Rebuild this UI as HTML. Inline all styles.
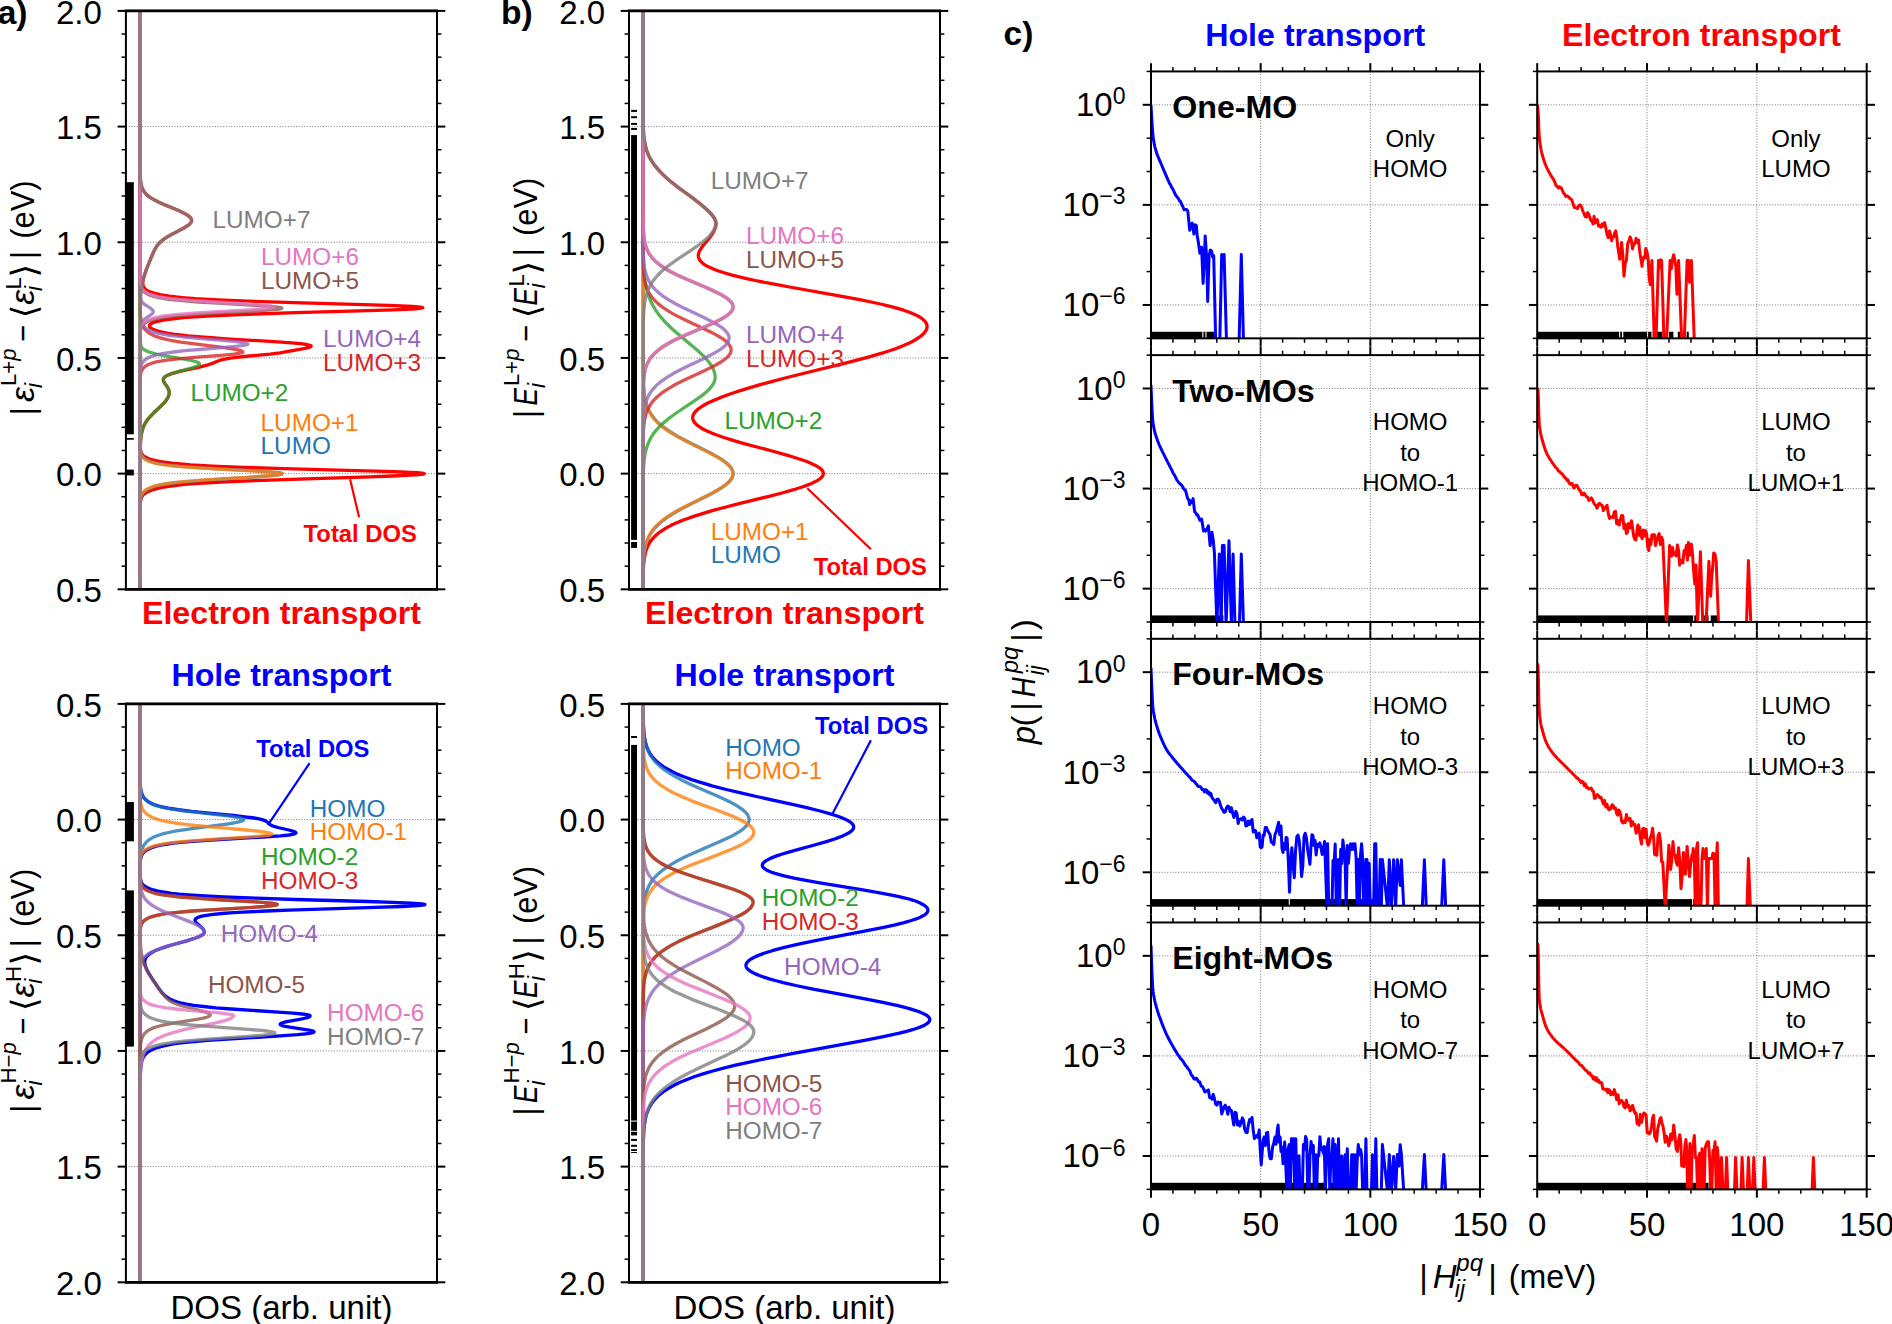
<!DOCTYPE html>
<html><head><meta charset="utf-8"><title>DOS and coupling distributions</title>
<style>html,body{margin:0;padding:0;background:#fff}svg{display:block}</style></head>
<body><svg width="1892" height="1324" viewBox="0 0 1892 1324">
<rect width="1892" height="1324" fill="#fff"/>
<defs><clipPath id="c125_10"><rect x="125.9" y="10.9" width="311.1" height="578.4"/></clipPath><clipPath id="c125_703"><rect x="125.9" y="703.9" width="311.1" height="578.4"/></clipPath><clipPath id="c629_10"><rect x="629" y="10.9" width="311" height="578.4"/></clipPath><clipPath id="c629_703"><rect x="629" y="703.9" width="311" height="578.4"/></clipPath></defs>
<line x1="117.6" y1="10.9" x2="125.9" y2="10.9" stroke="#000" stroke-width="2" />
<line x1="437" y1="10.9" x2="445.3" y2="10.9" stroke="#000" stroke-width="2" />
<text x="101.9" y="23.5" font-size="33" fill="#000" text-anchor="end" font-weight="normal" font-style="normal" font-family='"Liberation Sans", sans-serif' >2.0</text>
<line x1="121.5" y1="34.04" x2="125.9" y2="34.04" stroke="#000" stroke-width="1.5" />
<line x1="437" y1="34.04" x2="441.4" y2="34.04" stroke="#000" stroke-width="1.5" />
<line x1="121.5" y1="57.17" x2="125.9" y2="57.17" stroke="#000" stroke-width="1.5" />
<line x1="437" y1="57.17" x2="441.4" y2="57.17" stroke="#000" stroke-width="1.5" />
<line x1="121.5" y1="80.31" x2="125.9" y2="80.31" stroke="#000" stroke-width="1.5" />
<line x1="437" y1="80.31" x2="441.4" y2="80.31" stroke="#000" stroke-width="1.5" />
<line x1="121.5" y1="103.44" x2="125.9" y2="103.44" stroke="#000" stroke-width="1.5" />
<line x1="437" y1="103.44" x2="441.4" y2="103.44" stroke="#000" stroke-width="1.5" />
<line x1="117.6" y1="126.58" x2="125.9" y2="126.58" stroke="#000" stroke-width="2" />
<line x1="437" y1="126.58" x2="445.3" y2="126.58" stroke="#000" stroke-width="2" />
<line x1="125.9" y1="126.58" x2="437" y2="126.58" stroke="#777" stroke-width="1" stroke-dasharray="1 1.7"/>
<text x="101.9" y="139.18" font-size="33" fill="#000" text-anchor="end" font-weight="normal" font-style="normal" font-family='"Liberation Sans", sans-serif' >1.5</text>
<line x1="121.5" y1="149.72" x2="125.9" y2="149.72" stroke="#000" stroke-width="1.5" />
<line x1="437" y1="149.72" x2="441.4" y2="149.72" stroke="#000" stroke-width="1.5" />
<line x1="121.5" y1="172.85" x2="125.9" y2="172.85" stroke="#000" stroke-width="1.5" />
<line x1="437" y1="172.85" x2="441.4" y2="172.85" stroke="#000" stroke-width="1.5" />
<line x1="121.5" y1="195.99" x2="125.9" y2="195.99" stroke="#000" stroke-width="1.5" />
<line x1="437" y1="195.99" x2="441.4" y2="195.99" stroke="#000" stroke-width="1.5" />
<line x1="121.5" y1="219.12" x2="125.9" y2="219.12" stroke="#000" stroke-width="1.5" />
<line x1="437" y1="219.12" x2="441.4" y2="219.12" stroke="#000" stroke-width="1.5" />
<line x1="117.6" y1="242.26" x2="125.9" y2="242.26" stroke="#000" stroke-width="2" />
<line x1="437" y1="242.26" x2="445.3" y2="242.26" stroke="#000" stroke-width="2" />
<line x1="125.9" y1="242.26" x2="437" y2="242.26" stroke="#777" stroke-width="1" stroke-dasharray="1 1.7"/>
<text x="101.9" y="254.86" font-size="33" fill="#000" text-anchor="end" font-weight="normal" font-style="normal" font-family='"Liberation Sans", sans-serif' >1.0</text>
<line x1="121.5" y1="265.4" x2="125.9" y2="265.4" stroke="#000" stroke-width="1.5" />
<line x1="437" y1="265.4" x2="441.4" y2="265.4" stroke="#000" stroke-width="1.5" />
<line x1="121.5" y1="288.53" x2="125.9" y2="288.53" stroke="#000" stroke-width="1.5" />
<line x1="437" y1="288.53" x2="441.4" y2="288.53" stroke="#000" stroke-width="1.5" />
<line x1="121.5" y1="311.67" x2="125.9" y2="311.67" stroke="#000" stroke-width="1.5" />
<line x1="437" y1="311.67" x2="441.4" y2="311.67" stroke="#000" stroke-width="1.5" />
<line x1="121.5" y1="334.8" x2="125.9" y2="334.8" stroke="#000" stroke-width="1.5" />
<line x1="437" y1="334.8" x2="441.4" y2="334.8" stroke="#000" stroke-width="1.5" />
<line x1="117.6" y1="357.94" x2="125.9" y2="357.94" stroke="#000" stroke-width="2" />
<line x1="437" y1="357.94" x2="445.3" y2="357.94" stroke="#000" stroke-width="2" />
<line x1="125.9" y1="357.94" x2="437" y2="357.94" stroke="#777" stroke-width="1" stroke-dasharray="1 1.7"/>
<text x="101.9" y="370.54" font-size="33" fill="#000" text-anchor="end" font-weight="normal" font-style="normal" font-family='"Liberation Sans", sans-serif' >0.5</text>
<line x1="121.5" y1="381.08" x2="125.9" y2="381.08" stroke="#000" stroke-width="1.5" />
<line x1="437" y1="381.08" x2="441.4" y2="381.08" stroke="#000" stroke-width="1.5" />
<line x1="121.5" y1="404.21" x2="125.9" y2="404.21" stroke="#000" stroke-width="1.5" />
<line x1="437" y1="404.21" x2="441.4" y2="404.21" stroke="#000" stroke-width="1.5" />
<line x1="121.5" y1="427.35" x2="125.9" y2="427.35" stroke="#000" stroke-width="1.5" />
<line x1="437" y1="427.35" x2="441.4" y2="427.35" stroke="#000" stroke-width="1.5" />
<line x1="121.5" y1="450.48" x2="125.9" y2="450.48" stroke="#000" stroke-width="1.5" />
<line x1="437" y1="450.48" x2="441.4" y2="450.48" stroke="#000" stroke-width="1.5" />
<line x1="117.6" y1="473.62" x2="125.9" y2="473.62" stroke="#000" stroke-width="2" />
<line x1="437" y1="473.62" x2="445.3" y2="473.62" stroke="#000" stroke-width="2" />
<line x1="125.9" y1="473.62" x2="437" y2="473.62" stroke="#777" stroke-width="1" stroke-dasharray="1 1.7"/>
<text x="101.9" y="486.22" font-size="33" fill="#000" text-anchor="end" font-weight="normal" font-style="normal" font-family='"Liberation Sans", sans-serif' >0.0</text>
<line x1="121.5" y1="496.76" x2="125.9" y2="496.76" stroke="#000" stroke-width="1.5" />
<line x1="437" y1="496.76" x2="441.4" y2="496.76" stroke="#000" stroke-width="1.5" />
<line x1="121.5" y1="519.89" x2="125.9" y2="519.89" stroke="#000" stroke-width="1.5" />
<line x1="437" y1="519.89" x2="441.4" y2="519.89" stroke="#000" stroke-width="1.5" />
<line x1="121.5" y1="543.03" x2="125.9" y2="543.03" stroke="#000" stroke-width="1.5" />
<line x1="437" y1="543.03" x2="441.4" y2="543.03" stroke="#000" stroke-width="1.5" />
<line x1="121.5" y1="566.16" x2="125.9" y2="566.16" stroke="#000" stroke-width="1.5" />
<line x1="437" y1="566.16" x2="441.4" y2="566.16" stroke="#000" stroke-width="1.5" />
<line x1="117.6" y1="589.3" x2="125.9" y2="589.3" stroke="#000" stroke-width="2" />
<line x1="437" y1="589.3" x2="445.3" y2="589.3" stroke="#000" stroke-width="2" />
<text x="101.9" y="601.9" font-size="33" fill="#000" text-anchor="end" font-weight="normal" font-style="normal" font-family='"Liberation Sans", sans-serif' >0.5</text>
<rect x="125.9" y="182.2" width="7.9" height="252.1" fill="#000"/>
<rect x="125.9" y="438" width="7.9" height="1.7" fill="#000"/>
<rect x="125.9" y="469.6" width="7.9" height="5.8" fill="#000"/>
<g fill="none" stroke-linejoin="round" stroke-linecap="butt" clip-path="url(#c125_10)">
<path d="M140.2,589.3 L140.2,510.3 L140.3,505 L140.4,502.1 L140.7,500 L141.2,498.3 L141.9,496.7 L142.8,495.4 L144,494.2 L145.6,493 L147.8,491.7 L149.7,490.9 L153.2,489.7 L157.8,488.4 L163.7,487.2 L168.7,486.4 L174.8,485.5 L182.3,484.7 L191.6,483.9 L203.2,483 L225.6,481.8 L255,480.6 L290.8,479.3 L369.8,476.8 L392.4,476 L410,475.2 L416.4,474.8 L420.9,474.4 L423.6,474 L424.1,473.5 L422.2,473.1 L417.5,472.7 L410.2,472.3 L400.6,471.9 L375.8,471.1 L283.6,468.6 L243.4,467.3 L212.6,466.1 L204.4,465.7 L190.7,464.9 L180.2,464 L171.9,463.2 L162.8,462 L156.2,460.7 L151.4,459.5 L148.9,458.7 L146.9,457.8 L145.3,457 L143.5,455.8 L142.6,454.9 L141.7,453.7 L141.3,452.9 L140.9,451.6 L140.6,450.4 L140.5,449.1 L140.4,445 L140.7,439.6 L141.1,435.5 L141.9,431.8 L142.8,428.5 L144,425.6 L145.3,423.1 L146.6,421 L148.1,419 L149.9,416.9 L151.8,414.8 L153.8,412.8 L162.5,404.5 L164.1,402.8 L165.5,401.2 L166.7,399.5 L167.5,398.3 L168.3,396.6 L168.8,395.4 L169.1,393.7 L169.2,392.5 L169.1,391.3 L168.6,389.6 L168.1,388.4 L167.4,387.1 L164.3,382.6 L163.7,381.3 L163.4,380.5 L163.3,379.7 L163.4,379.3 L163.6,378.4 L164.2,377.6 L164.6,377.2 L165.6,376.4 L167,375.6 L168.8,374.7 L171,373.9 L173.7,373.1 L179.9,371.4 L198.5,367.3 L205.1,365.6 L208,364.8 L211.7,363.6 L218.8,360.7 L221.6,359.8 L223.3,359.4 L227.7,358.6 L230.3,358.2 L236.7,357.4 L244.4,356.5 L269.9,354.1 L280.2,352.8 L282.7,352.4 L305.1,348.3 L308.7,347.4 L310,347 L310.8,346.6 L311.2,346.2 L311.1,345.8 L310.3,345.4 L308.8,345 L306.7,344.5 L300.3,343.7 L291.4,342.9 L274.2,341.7 L226.6,338.8 L208,337.5 L197.3,336.7 L188,335.9 L180.1,335 L173.6,334.2 L168.2,333.4 L161.9,332.1 L157.3,330.9 L154.9,330.1 L153,329.2 L151.5,328.4 L150.3,327.6 L149.6,326.8 L149.5,326.4 L149.4,325.9 L149.4,325.5 L149.5,325.1 L149.8,324.7 L150.7,323.9 L151.4,323.5 L153.2,322.6 L154.4,322.2 L157.3,321.4 L163.3,320.2 L168.7,319.3 L175.4,318.5 L183.9,317.7 L194.6,316.8 L207.9,316 L234.2,314.8 L256.2,314 L295.7,312.7 L368.1,310.6 L393,309.8 L411.5,309 L417.6,308.6 L421.5,308.2 L422.8,307.7 L421.8,307.3 L418.3,306.9 L412.6,306.5 L395.3,305.7 L371.6,304.9 L286.3,302.4 L248.2,301.1 L218,299.9 L195.8,298.7 L184.8,297.8 L176.1,297 L169.3,296.2 L161.5,294.9 L155.9,293.7 L153,292.9 L150.6,292 L148.6,291.2 L147.1,290.4 L145.8,289.6 L144.9,288.7 L144.1,287.9 L143.4,286.7 L143,285.4 L142.8,284.2 L142.8,282.5 L143,280.9 L143.4,278.8 L144,276.7 L145.1,273 L146.6,268.9 L151.6,256.5 L154.2,250.7 L155.3,248.6 L156.5,246.6 L158.4,244.1 L160.4,242 L162.9,239.9 L165.7,237.9 L168.4,236.2 L171.3,234.6 L183.9,228 L186,226.7 L187.9,225.5 L189.5,224.2 L190.6,223 L191.4,221.8 L191.6,220.9 L191.6,220.5 L191.5,219.7 L191.2,218.9 L190.7,218 L190,217.2 L189.1,216.4 L188,215.6 L185.3,213.9 L182.1,212.2 L178.5,210.6 L164.5,204.8 L158.9,202.3 L154.1,199.8 L152,198.6 L150.1,197.4 L148.4,196.1 L146.9,194.9 L145.7,193.6 L144.3,192 L143.5,190.7 L142.6,189.1 L141.9,187.4 L141.3,185.4 L140.8,182.9 L140.5,179.6 L140.3,175.9 L140.2,170.5 L140.2,10.9" stroke="#ff0000" stroke-width="3.3"/>
<path d="M140.2,589.3 L140.2,510.7 L140.3,502.5 L140.5,500.4 L140.7,498.8 L141,497.1 L141.5,495.9 L142.1,494.6 L142.9,493.4 L143.9,492.1 L144.8,491.3 L145.9,490.5 L147.2,489.7 L149.6,488.4 L152.6,487.2 L155.2,486.4 L158.4,485.5 L162.3,484.7 L167.1,483.9 L173.1,483 L184.5,481.8 L199.3,480.6 L217.2,479.3 L249.8,477.3 L266.9,476 L275.4,475.2 L278.4,474.8 L280.6,474.4 L281.9,474 L282.2,473.5 L281.2,473.1 L279,472.7 L275.5,472.3 L270.9,471.9 L252,470.6 L213.9,468.6 L193.8,467.3 L178.1,466.1 L170.2,465.3 L164,464.4 L159.1,463.6 L155.3,462.8 L151,461.5 L147.9,460.3 L145.6,459.1 L144.4,458.2 L143.5,457.4 L142.7,456.6 L141.8,455.3 L141.4,454.5 L140.9,453.3 L140.6,451.6 L140.3,449.6 L140.2,446.7 L140.2,442.1 L140.2,10.9" stroke="#1f77b4" stroke-opacity="0.8" stroke-width="3.3"/>
<path d="M140.2,589.3 L140.2,509.1 L140.3,501.2 L140.5,499.2 L140.7,497.5 L141,496.3 L141.5,495 L142.1,493.8 L142.9,492.6 L144.1,491.3 L145.1,490.5 L146.9,489.2 L149.3,488 L152.4,486.8 L155,485.9 L158.3,485.1 L162.3,484.3 L167.3,483.5 L173.6,482.6 L185.7,481.4 L201.5,480.2 L213.8,479.3 L254.1,476.8 L265.8,476 L274.8,475.2 L278.2,474.8 L280.5,474.4 L281.9,474 L282.2,473.5 L281.1,473.1 L278.7,472.7 L274.9,472.3 L269.9,471.9 L257,471.1 L217.5,469 L195.9,467.7 L179.1,466.5 L170.6,465.7 L164.1,464.9 L159,464 L155.1,463.2 L150.7,462 L147.6,460.7 L145.3,459.5 L144.1,458.7 L143.2,457.8 L142.4,457 L141.8,456.2 L141.4,455.3 L140.9,454.1 L140.6,452.5 L140.3,450.4 L140.2,447.9 L140.2,443.4 L140.2,10.9" stroke="#ff7f0e" stroke-opacity="0.8" stroke-width="3.3"/>
<path d="M140.2,589.3 L140.3,450.8 L140.4,443.8 L140.7,438.8 L141.3,434.7 L142.1,431 L143,428.1 L144.2,425.2 L145.8,422.3 L147.8,419.4 L149.9,416.9 L152.6,414 L161.3,405.7 L164.1,402.8 L165.5,401.2 L166.7,399.5 L167.8,397.9 L168.3,396.6 L168.9,395 L169.1,393.7 L169.2,392.1 L169,390.8 L168.6,389.6 L167.9,388 L166.9,386.3 L164.3,382.6 L163.5,380.9 L163.3,380.1 L163.3,379.3 L163.6,378.4 L164.1,377.6 L164.9,376.8 L165.4,376.4 L166.8,375.6 L168.5,374.7 L171.7,373.5 L177.2,371.8 L191.3,368.1 L195.2,366.9 L197.2,366 L198.6,365.2 L199.1,364.8 L199.3,364.4 L199.4,364 L199.3,363.6 L199,363.1 L198.4,362.7 L197.6,362.3 L195.2,361.5 L192,360.7 L185.8,359.4 L166.7,356.1 L160.2,354.9 L156.4,354.1 L153,353.2 L149,352 L146.9,351.2 L145.2,350.3 L143.9,349.5 L142.9,348.7 L142.1,347.9 L141.3,346.6 L140.9,345.4 L140.6,344.1 L140.4,342.5 L140.3,340 L140.2,330.5 L140.2,10.9" stroke="#2ca02c" stroke-opacity="0.8" stroke-width="3.3"/>
<path d="M140.2,589.3 L140.2,381.8 L140.3,377.6 L140.5,375.1 L140.8,373.1 L141.5,371 L142.4,369.4 L143,368.5 L143.7,367.7 L144.7,366.9 L145.8,366 L147.9,364.8 L150.8,363.6 L153.4,362.7 L156.6,361.9 L160.7,361.1 L168.9,359.8 L180.1,358.6 L194.2,357.4 L220.6,355.3 L234,354.1 L240,353.2 L241.8,352.8 L242.7,352.4 L242.9,352 L242.5,351.6 L241.9,351.2 L240.9,350.7 L237.8,349.9 L233.7,349.1 L228.5,348.3 L222.6,347.4 L192.7,343.7 L180.8,342.1 L173.3,340.8 L169,340 L165.1,339.2 L160.4,337.9 L156.5,336.7 L153.5,335.4 L151.8,334.6 L150.3,333.8 L147.9,332.1 L147,331.3 L145.7,330.1 L144,328 L143.3,326.8 L142.6,325.5 L141.7,323 L141,320.2 L140.5,316.4 L140.3,312.3 L140.2,305.7 L140.2,10.9" stroke="#d62728" stroke-opacity="0.8" stroke-width="3.3"/>
<path d="M140.2,589.3 L140.2,376 L140.3,371.4 L140.5,368.5 L140.9,366.5 L141.6,364.4 L142.2,363.1 L142.7,362.3 L144.1,360.7 L145.1,359.8 L146.2,359 L148.3,357.8 L151,356.5 L154.8,355.3 L158.1,354.5 L162.1,353.6 L167.2,352.8 L173.4,352 L185,350.7 L199.1,349.5 L224.7,347.4 L237.7,346.2 L243.9,345.4 L245.9,345 L247.3,344.5 L247.8,344.1 L247.5,343.7 L246.6,343.3 L244.9,342.9 L242.6,342.5 L236.1,341.7 L223.1,340.4 L198.4,338.3 L184.9,337.1 L173.7,335.9 L167.7,335 L162.7,334.2 L158.6,333.4 L154,332.1 L151.6,331.3 L148.8,330.1 L146.7,328.8 L145.5,328 L144.6,327.2 L143.5,325.9 L143,325.1 L142.7,324.3 L142.5,323 L142.6,322.2 L143.1,321 L143.7,320.2 L144.5,319.3 L145.4,318.5 L150.3,315.2 L151.9,314 L152.7,313.1 L152.9,312.7 L153.2,311.9 L153.2,311.5 L153.1,311.1 L152.7,310.2 L151.4,309 L149.7,307.7 L145.2,304.9 L143.6,303.6 L142.4,302.4 L141.5,301.1 L141.1,300.3 L140.8,299.5 L140.4,297.8 L140.3,295.8 L140.2,288.7 L140.2,10.9" stroke="#9467bd" stroke-opacity="0.8" stroke-width="3.3"/>
<path d="M140.2,589.3 L140.2,337.5 L140.3,333.4 L140.5,330.5 L141,328.4 L141.7,326.8 L142.2,325.9 L142.8,325.1 L143.6,324.3 L144.6,323.5 L145.8,322.6 L147.3,321.8 L150.2,320.6 L154.1,319.3 L157.6,318.5 L162,317.7 L167.7,316.8 L179.3,315.6 L195.4,314.4 L215.8,313.1 L253.7,311.1 L266.7,310.2 L276.2,309.4 L279.4,309 L281.2,308.6 L281.8,308.2 L281.1,307.7 L279.2,307.3 L276.1,306.9 L266.9,306.1 L254.6,305.3 L218.2,303.2 L198.2,302 L182.1,300.7 L173.6,299.9 L166.9,299.1 L161.6,298.2 L157.4,297.4 L152.7,296.2 L149.3,294.9 L146.7,293.7 L145.4,292.9 L144.3,292 L143.4,291.2 L142.7,290.4 L142.1,289.6 L141.6,288.7 L141.3,287.9 L140.9,286.7 L140.5,284.6 L140.3,281.7 L140.2,277.6 L140.2,10.9" stroke="#8c564b" stroke-opacity="0.8" stroke-width="3.3"/>
<path d="M140.2,589.3 L140.2,336.7 L140.3,332.6 L140.5,329.7 L140.8,327.6 L141.4,325.9 L141.8,325.1 L142.4,324.3 L143.1,323.5 L143.9,322.6 L145,321.8 L146.3,321 L148.8,319.7 L152.2,318.5 L155.2,317.7 L159,316.8 L163.9,316 L170.2,315.2 L178.1,314.4 L193.6,313.1 L213.1,311.9 L248.9,309.8 L261,309 L269.6,308.2 L272.4,307.7 L273.9,307.3 L274.2,306.9 L273.2,306.5 L271.2,306.1 L268.1,305.7 L259,304.9 L247.1,304 L212.7,302 L193.9,300.7 L178.9,299.5 L171.1,298.7 L164.9,297.8 L160,297 L156.1,296.2 L151.8,294.9 L148.6,293.7 L146.2,292.5 L145,291.6 L144,290.8 L143.1,290 L142.5,289.1 L141.5,287.5 L141.2,286.7 L140.8,285.4 L140.5,283.4 L140.3,280.5 L140.2,276.3 L140.2,10.9" stroke="#e377c2" stroke-opacity="0.8" stroke-width="3.3"/>
<path d="M140.2,589.3 L140.2,317.3 L140.3,306.9 L140.6,299.5 L141,293.3 L141.6,287.9 L142.4,283.4 L143.3,279.2 L144.6,274.7 L146.1,270.1 L148.7,263.5 L153.4,252.3 L155.3,248.6 L156.3,247 L157.1,245.7 L158.8,243.7 L160.9,241.6 L163.4,239.5 L165.7,237.9 L168.4,236.2 L171.3,234.6 L183.9,228 L186,226.7 L187.9,225.5 L189.5,224.2 L190.6,223 L191.4,221.8 L191.6,220.9 L191.6,220.5 L191.5,219.7 L191.2,218.9 L190.7,218 L190,217.2 L189.1,216.4 L188,215.6 L185.3,213.9 L182.1,212.2 L178.5,210.6 L164.5,204.8 L158.9,202.3 L154.1,199.8 L152,198.6 L150.1,197.4 L148.4,196.1 L146.9,194.9 L145.7,193.6 L144.3,192 L143.5,190.7 L142.6,189.1 L141.9,187.4 L141.3,185.4 L140.8,182.9 L140.5,179.6 L140.3,175.9 L140.2,170.5 L140.2,10.9" stroke="#7f7f7f" stroke-opacity="0.8" stroke-width="3.3"/>
</g>
<rect x="125.9" y="10.9" width="311.1" height="578.4" fill="none" stroke="#000" stroke-width="2.0"/>
<line x1="124.9" y1="10.9" x2="438" y2="10.9" stroke="#000" stroke-width="2.7" />
<line x1="124.9" y1="589.3" x2="438" y2="589.3" stroke="#000" stroke-width="2.7" />
<line x1="117.6" y1="703.9" x2="125.9" y2="703.9" stroke="#000" stroke-width="2" />
<line x1="437" y1="703.9" x2="445.3" y2="703.9" stroke="#000" stroke-width="2" />
<text x="101.9" y="716.5" font-size="33" fill="#000" text-anchor="end" font-weight="normal" font-style="normal" font-family='"Liberation Sans", sans-serif' >0.5</text>
<line x1="121.5" y1="727.04" x2="125.9" y2="727.04" stroke="#000" stroke-width="1.5" />
<line x1="437" y1="727.04" x2="441.4" y2="727.04" stroke="#000" stroke-width="1.5" />
<line x1="121.5" y1="750.17" x2="125.9" y2="750.17" stroke="#000" stroke-width="1.5" />
<line x1="437" y1="750.17" x2="441.4" y2="750.17" stroke="#000" stroke-width="1.5" />
<line x1="121.5" y1="773.31" x2="125.9" y2="773.31" stroke="#000" stroke-width="1.5" />
<line x1="437" y1="773.31" x2="441.4" y2="773.31" stroke="#000" stroke-width="1.5" />
<line x1="121.5" y1="796.44" x2="125.9" y2="796.44" stroke="#000" stroke-width="1.5" />
<line x1="437" y1="796.44" x2="441.4" y2="796.44" stroke="#000" stroke-width="1.5" />
<line x1="117.6" y1="819.58" x2="125.9" y2="819.58" stroke="#000" stroke-width="2" />
<line x1="437" y1="819.58" x2="445.3" y2="819.58" stroke="#000" stroke-width="2" />
<line x1="125.9" y1="819.58" x2="437" y2="819.58" stroke="#777" stroke-width="1" stroke-dasharray="1 1.7"/>
<text x="101.9" y="832.18" font-size="33" fill="#000" text-anchor="end" font-weight="normal" font-style="normal" font-family='"Liberation Sans", sans-serif' >0.0</text>
<line x1="121.5" y1="842.72" x2="125.9" y2="842.72" stroke="#000" stroke-width="1.5" />
<line x1="437" y1="842.72" x2="441.4" y2="842.72" stroke="#000" stroke-width="1.5" />
<line x1="121.5" y1="865.85" x2="125.9" y2="865.85" stroke="#000" stroke-width="1.5" />
<line x1="437" y1="865.85" x2="441.4" y2="865.85" stroke="#000" stroke-width="1.5" />
<line x1="121.5" y1="888.99" x2="125.9" y2="888.99" stroke="#000" stroke-width="1.5" />
<line x1="437" y1="888.99" x2="441.4" y2="888.99" stroke="#000" stroke-width="1.5" />
<line x1="121.5" y1="912.12" x2="125.9" y2="912.12" stroke="#000" stroke-width="1.5" />
<line x1="437" y1="912.12" x2="441.4" y2="912.12" stroke="#000" stroke-width="1.5" />
<line x1="117.6" y1="935.26" x2="125.9" y2="935.26" stroke="#000" stroke-width="2" />
<line x1="437" y1="935.26" x2="445.3" y2="935.26" stroke="#000" stroke-width="2" />
<line x1="125.9" y1="935.26" x2="437" y2="935.26" stroke="#777" stroke-width="1" stroke-dasharray="1 1.7"/>
<text x="101.9" y="947.86" font-size="33" fill="#000" text-anchor="end" font-weight="normal" font-style="normal" font-family='"Liberation Sans", sans-serif' >0.5</text>
<line x1="121.5" y1="958.4" x2="125.9" y2="958.4" stroke="#000" stroke-width="1.5" />
<line x1="437" y1="958.4" x2="441.4" y2="958.4" stroke="#000" stroke-width="1.5" />
<line x1="121.5" y1="981.53" x2="125.9" y2="981.53" stroke="#000" stroke-width="1.5" />
<line x1="437" y1="981.53" x2="441.4" y2="981.53" stroke="#000" stroke-width="1.5" />
<line x1="121.5" y1="1004.67" x2="125.9" y2="1004.67" stroke="#000" stroke-width="1.5" />
<line x1="437" y1="1004.67" x2="441.4" y2="1004.67" stroke="#000" stroke-width="1.5" />
<line x1="121.5" y1="1027.8" x2="125.9" y2="1027.8" stroke="#000" stroke-width="1.5" />
<line x1="437" y1="1027.8" x2="441.4" y2="1027.8" stroke="#000" stroke-width="1.5" />
<line x1="117.6" y1="1050.94" x2="125.9" y2="1050.94" stroke="#000" stroke-width="2" />
<line x1="437" y1="1050.94" x2="445.3" y2="1050.94" stroke="#000" stroke-width="2" />
<line x1="125.9" y1="1050.94" x2="437" y2="1050.94" stroke="#777" stroke-width="1" stroke-dasharray="1 1.7"/>
<text x="101.9" y="1063.54" font-size="33" fill="#000" text-anchor="end" font-weight="normal" font-style="normal" font-family='"Liberation Sans", sans-serif' >1.0</text>
<line x1="121.5" y1="1074.08" x2="125.9" y2="1074.08" stroke="#000" stroke-width="1.5" />
<line x1="437" y1="1074.08" x2="441.4" y2="1074.08" stroke="#000" stroke-width="1.5" />
<line x1="121.5" y1="1097.21" x2="125.9" y2="1097.21" stroke="#000" stroke-width="1.5" />
<line x1="437" y1="1097.21" x2="441.4" y2="1097.21" stroke="#000" stroke-width="1.5" />
<line x1="121.5" y1="1120.35" x2="125.9" y2="1120.35" stroke="#000" stroke-width="1.5" />
<line x1="437" y1="1120.35" x2="441.4" y2="1120.35" stroke="#000" stroke-width="1.5" />
<line x1="121.5" y1="1143.48" x2="125.9" y2="1143.48" stroke="#000" stroke-width="1.5" />
<line x1="437" y1="1143.48" x2="441.4" y2="1143.48" stroke="#000" stroke-width="1.5" />
<line x1="117.6" y1="1166.62" x2="125.9" y2="1166.62" stroke="#000" stroke-width="2" />
<line x1="437" y1="1166.62" x2="445.3" y2="1166.62" stroke="#000" stroke-width="2" />
<line x1="125.9" y1="1166.62" x2="437" y2="1166.62" stroke="#777" stroke-width="1" stroke-dasharray="1 1.7"/>
<text x="101.9" y="1179.22" font-size="33" fill="#000" text-anchor="end" font-weight="normal" font-style="normal" font-family='"Liberation Sans", sans-serif' >1.5</text>
<line x1="121.5" y1="1189.76" x2="125.9" y2="1189.76" stroke="#000" stroke-width="1.5" />
<line x1="437" y1="1189.76" x2="441.4" y2="1189.76" stroke="#000" stroke-width="1.5" />
<line x1="121.5" y1="1212.89" x2="125.9" y2="1212.89" stroke="#000" stroke-width="1.5" />
<line x1="437" y1="1212.89" x2="441.4" y2="1212.89" stroke="#000" stroke-width="1.5" />
<line x1="121.5" y1="1236.03" x2="125.9" y2="1236.03" stroke="#000" stroke-width="1.5" />
<line x1="437" y1="1236.03" x2="441.4" y2="1236.03" stroke="#000" stroke-width="1.5" />
<line x1="121.5" y1="1259.16" x2="125.9" y2="1259.16" stroke="#000" stroke-width="1.5" />
<line x1="437" y1="1259.16" x2="441.4" y2="1259.16" stroke="#000" stroke-width="1.5" />
<line x1="117.6" y1="1282.3" x2="125.9" y2="1282.3" stroke="#000" stroke-width="2" />
<line x1="437" y1="1282.3" x2="445.3" y2="1282.3" stroke="#000" stroke-width="2" />
<text x="101.9" y="1294.9" font-size="33" fill="#000" text-anchor="end" font-weight="normal" font-style="normal" font-family='"Liberation Sans", sans-serif' >2.0</text>
<rect x="125.9" y="802" width="8" height="39.3" fill="#000"/>
<rect x="125.9" y="890.4" width="8" height="156.2" fill="#000"/>
<g fill="none" stroke-linejoin="round" stroke-linecap="butt" clip-path="url(#c125_703)">
<path d="M140.2,703.9 L140.2,776.3 L140.3,782.5 L140.4,786.2 L140.6,788.7 L141,790.7 L141.5,792.8 L142.1,794.4 L142.9,796.1 L144,797.8 L145.1,799 L146.4,800.2 L148,801.5 L150.1,802.7 L152.7,804 L154.8,804.8 L158.7,806 L161.9,806.8 L165.7,807.7 L170.2,808.5 L178.2,809.7 L191.6,811.4 L203.5,812.6 L233.3,815.5 L244.8,816.8 L254.2,818 L258.9,818.8 L262.2,819.7 L263.5,820.1 L265.5,820.9 L266.2,821.3 L267.4,822.1 L269.1,823.8 L270.2,824.6 L271.7,825.5 L272.6,825.9 L275,826.7 L277.9,827.5 L288.8,830 L292,830.8 L294.5,831.7 L295.3,832.1 L295.8,832.5 L295.9,832.9 L295.6,833.3 L294.9,833.7 L293.7,834.1 L291.8,834.5 L288.9,835 L280.6,835.8 L262.8,837 L219.8,839.5 L206.6,840.3 L189.8,841.6 L180.7,842.4 L173.2,843.2 L164.7,844.5 L158.4,845.7 L155.2,846.5 L152.6,847.4 L150.4,848.2 L147.8,849.4 L145.7,850.7 L144.2,851.9 L143,853.2 L141.9,854.8 L141.2,856.5 L140.8,858.1 L140.5,859.8 L140.4,861.4 L140.2,866.4 L140.3,875.1 L140.4,877.5 L140.6,879.2 L140.8,880.4 L141.1,881.7 L141.9,883.3 L142.5,884.2 L143.3,885 L144.8,886.2 L146.1,887.1 L147.8,887.9 L149.8,888.7 L152.3,889.5 L157,890.8 L163.3,892 L171.8,893.3 L179.2,894.1 L188.6,894.9 L200.4,895.7 L224.1,897 L255.9,898.2 L295.4,899.5 L367.6,901.5 L392.6,902.4 L411.6,903.2 L418.3,903.6 L422.7,904 L424.9,904.4 L424.7,904.8 L422.2,905.2 L417.4,905.7 L401.9,906.5 L367.6,907.7 L288.8,910.2 L266.6,911 L248.1,911.9 L233.3,912.7 L221.9,913.5 L213.3,914.3 L210,914.8 L204.7,915.6 L200.9,916.4 L199.5,916.8 L197.4,917.6 L196.6,918.1 L195.6,918.9 L195.3,919.3 L195.1,919.7 L195,920.1 L195,920.5 L195.3,921.4 L196.2,922.6 L197.4,923.8 L200.8,926.7 L202.2,928 L203.2,929.2 L203.9,930.5 L204.3,931.7 L204.3,932.5 L204.2,932.9 L203.6,933.8 L203.2,934.2 L202.2,935 L200.7,935.8 L199,936.7 L197,937.5 L193.5,938.7 L186.7,940.8 L173.4,944.5 L167.8,946.2 L162.6,947.8 L158.1,949.5 L154.3,951.1 L152.7,952 L150.5,953.2 L148.3,954.9 L147.4,955.7 L146.4,956.9 L145.8,957.8 L145.4,958.6 L144.9,960.2 L144.7,961.9 L144.9,964 L145.4,966 L146.3,968.5 L147.5,971 L149.1,973.9 L152,978.4 L157,985.9 L159.9,990 L162.2,992.9 L164.2,995 L166.7,997 L169.3,998.7 L171.7,999.9 L174.9,1001.2 L177.5,1002 L180.5,1002.8 L184.2,1003.6 L188.6,1004.5 L193.7,1005.3 L203.4,1006.5 L215.8,1007.8 L231.2,1009 L281.7,1012.3 L293,1013.2 L302,1014 L305.3,1014.4 L307.8,1014.8 L309.4,1015.2 L310.1,1015.6 L310.1,1016 L309.9,1016.5 L309.2,1016.9 L308.3,1017.3 L307,1017.7 L303.7,1018.5 L299.6,1019.4 L288.3,1021.4 L284.5,1022.2 L281.7,1023.1 L280.8,1023.5 L280.2,1023.9 L280.1,1024.3 L280.3,1024.7 L280.9,1025.1 L282,1025.6 L285.2,1026.4 L289.8,1027.2 L304,1029.3 L309,1030.1 L311,1030.5 L312.6,1030.9 L313.6,1031.3 L314.1,1031.8 L313.8,1032.2 L312.9,1032.6 L311.3,1033 L309,1033.4 L305.8,1033.8 L297.4,1034.7 L280.3,1035.9 L231.9,1038.8 L207.4,1040.4 L197.2,1041.3 L188.4,1042.1 L181,1042.9 L174.9,1043.7 L169.8,1044.6 L163.7,1045.8 L159,1047.1 L155.3,1048.3 L153.3,1049.1 L151.5,1049.9 L150,1050.8 L148.7,1051.6 L147.5,1052.4 L146.1,1053.7 L145.3,1054.5 L144.3,1055.7 L143.2,1057.4 L142.5,1059 L141.8,1061.1 L141.3,1063.6 L140.9,1066.1 L140.6,1069.4 L140.4,1073.1 L140.3,1078.1 L140.2,1096.7 L140.2,1282.3" stroke="#0000ff" stroke-width="3.3"/>
<path d="M140.2,703.9 L140.2,775.4 L140.2,781.6 L140.4,785.3 L140.5,787.8 L140.8,789.9 L141.1,791.5 L141.6,793.2 L142.2,794.9 L142.8,796.1 L143.9,797.8 L144.9,799 L146.7,800.6 L148.3,801.9 L150.4,803.1 L152.9,804.4 L156.2,805.6 L159,806.4 L162.2,807.3 L166,808.1 L170.4,808.9 L175.5,809.7 L184.4,811 L194.8,812.2 L221.1,815.1 L228,815.9 L233.9,816.8 L238.7,817.6 L242,818.4 L243,818.8 L243.6,819.2 L243.7,819.7 L243.5,820.1 L242.9,820.5 L242.1,820.9 L240.9,821.3 L237.7,822.1 L233.5,823 L228.4,823.8 L222.6,824.6 L194,828.3 L179.9,830.4 L175,831.2 L168.7,832.5 L163.5,833.7 L159.2,835 L155.8,836.2 L153.9,837 L152.2,837.9 L149.5,839.5 L148.4,840.3 L146.9,841.6 L145.1,843.6 L144.2,844.9 L143.4,846.1 L142.8,847.4 L142.1,849 L141.3,851.9 L140.8,854.8 L140.4,858.5 L140.3,863.1 L140.2,870.5 L140.2,1282.3" stroke="#1f77b4" stroke-opacity="0.8" stroke-width="3.3"/>
<path d="M140.2,703.9 L140.2,788.7 L140.3,798.6 L140.5,801.1 L140.7,803.1 L141.1,805.2 L141.6,806.8 L142.3,808.5 L142.9,809.7 L144.1,811.4 L145.2,812.6 L147.1,814.3 L149.6,815.9 L152,817.2 L154.9,818.4 L158.7,819.7 L161.8,820.5 L165.5,821.3 L169.9,822.1 L175,823 L180.9,823.8 L195.4,825.5 L208.5,826.7 L246.5,830 L258.6,831.2 L264.9,832.1 L269.3,832.9 L270.7,833.3 L271.6,833.7 L271.9,834.1 L271.4,834.5 L269.9,835 L267.4,835.4 L259.7,836.2 L243.1,837.4 L204.3,839.9 L187.8,841.2 L174.8,842.4 L168.1,843.2 L162.7,844.1 L158.4,844.9 L153.5,846.1 L150,847.4 L147.4,848.6 L146,849.4 L144.9,850.3 L143.9,851.1 L143.1,851.9 L142.5,852.7 L141.9,853.6 L141.5,854.4 L141.1,855.6 L140.6,857.7 L140.4,859.8 L140.2,862.7 L140.2,867.6 L140.2,1282.3" stroke="#ff7f0e" stroke-opacity="0.8" stroke-width="3.3"/>
<path d="M140.2,703.9 L140.2,875.5 L140.4,879.6 L140.7,882.1 L141.2,884.2 L141.8,885.4 L142.3,886.2 L142.9,887.1 L143.7,887.9 L144.6,888.7 L145.8,889.5 L148,890.8 L151,892 L155,893.3 L158.6,894.1 L163.1,894.9 L168.8,895.7 L180.3,897 L195.8,898.2 L215.1,899.5 L250.3,901.5 L262.3,902.4 L271.4,903.2 L274.4,903.6 L276.4,904 L277.2,904.4 L276.8,904.8 L275.2,905.2 L272.5,905.7 L264.1,906.5 L252.5,907.3 L210.6,909.8 L192.1,911 L177.5,912.3 L170,913.1 L164,913.9 L159.3,914.8 L155.6,915.6 L151.4,916.8 L148.3,918.1 L146,919.3 L144.8,920.1 L143.8,921 L143,921.8 L142.4,922.6 L141.8,923.4 L141.3,924.7 L140.7,926.7 L140.4,928.8 L140.3,931.7 L140.2,936.3 L140.2,1282.3" stroke="#2ca02c" stroke-opacity="0.8" stroke-width="3.3"/>
<path d="M140.2,703.9 L140.2,875.5 L140.4,879.6 L140.7,882.1 L141.2,884.2 L141.8,885.4 L142.3,886.2 L142.9,887.1 L143.7,887.9 L144.6,888.7 L145.8,889.5 L148,890.8 L151,892 L155,893.3 L158.6,894.1 L163.1,894.9 L168.8,895.7 L180.3,897 L195.8,898.2 L215.1,899.5 L250.3,901.5 L262.3,902.4 L271.4,903.2 L274.4,903.6 L276.4,904 L277.2,904.4 L276.8,904.8 L275.2,905.2 L272.5,905.7 L264.1,906.5 L252.5,907.3 L210.6,909.8 L192.1,911 L177.5,912.3 L170,913.1 L164,913.9 L159.3,914.8 L155.6,915.6 L151.4,916.8 L148.3,918.1 L146,919.3 L144.8,920.1 L143.8,921 L143,921.8 L142.4,922.6 L141.8,923.4 L141.3,924.7 L140.7,926.7 L140.4,928.8 L140.3,931.7 L140.2,936.3 L140.2,1282.3" stroke="#d62728" stroke-opacity="0.8" stroke-width="3.3"/>
<path d="M140.2,703.9 L140.2,874.6 L140.3,880.9 L140.6,885.4 L141.1,889.1 L141.7,892 L142.4,894.1 L143.4,896.1 L144.3,897.8 L145.6,899.5 L147,901.1 L148.8,902.8 L150.9,904.4 L152.7,905.7 L154.7,906.9 L157.7,908.6 L161.1,910.2 L164.7,911.9 L171.8,914.8 L188.9,921.4 L192.8,923 L196.3,924.7 L198.5,925.9 L199.9,926.7 L201,927.6 L202,928.4 L203.2,929.6 L203.7,930.5 L204.1,931.3 L204.2,932.1 L204.1,932.9 L203.9,933.4 L203.6,933.8 L202.7,934.6 L200.7,935.8 L198.9,936.7 L196.9,937.5 L193.4,938.7 L189.4,940 L170.2,945.3 L163.4,947.4 L159.7,948.7 L156.4,949.9 L154.4,950.7 L151.7,952 L149.4,953.2 L147.5,954.4 L145.8,955.7 L144.2,957.3 L142.9,959 L142,960.6 L141.4,962.3 L140.9,964.4 L140.6,966.4 L140.3,969.3 L140.2,978.4 L140.2,1282.3" stroke="#9467bd" stroke-opacity="0.8" stroke-width="3.3"/>
<path d="M140.2,703.9 L140.2,932.5 L140.4,941.2 L140.7,947.4 L141.3,952.8 L142.1,957.3 L143.2,961.5 L144,963.5 L144.8,965.6 L146.7,969.7 L149.3,974.3 L153.6,980.9 L161.3,992.1 L163.9,995.4 L165.8,997.4 L167.5,999.1 L169.1,1000.3 L171,1001.6 L173.5,1002.8 L176.6,1004.1 L180.3,1005.3 L184.6,1006.5 L199.4,1010.3 L205.2,1011.9 L207.4,1012.7 L209,1013.6 L209.6,1014 L210,1014.4 L210.2,1014.8 L210.2,1015.2 L210,1015.6 L209.5,1016 L208.8,1016.5 L206.5,1017.3 L203.2,1018.1 L196.7,1019.4 L176.2,1022.7 L167,1024.3 L163.1,1025.1 L159.7,1026 L156.7,1026.8 L154.2,1027.6 L152.1,1028.4 L149.5,1029.7 L147.6,1030.9 L146.5,1031.8 L145.6,1032.6 L144.1,1034.2 L143,1035.9 L142,1038 L141.4,1040 L140.8,1042.5 L140.5,1045.8 L140.3,1049.5 L140.2,1054.9 L140.2,1282.3" stroke="#8c564b" stroke-opacity="0.8" stroke-width="3.3"/>
<path d="M140.2,703.9 L140.2,984.6 L140.2,988.8 L140.4,991.7 L140.6,993.7 L141,995.8 L141.5,997 L141.9,997.9 L143,999.5 L143.7,1000.3 L144.7,1001.2 L146.4,1002.4 L148.7,1003.6 L151.9,1004.9 L154.8,1005.7 L158.5,1006.5 L165.8,1007.8 L175.8,1009 L188.5,1010.3 L217.1,1012.7 L224.9,1013.6 L230.6,1014.4 L232.4,1014.8 L233.5,1015.2 L233.7,1015.6 L233.6,1016 L233.4,1016.5 L233,1016.9 L232.6,1017.3 L231.2,1018.1 L228.4,1019.4 L224.6,1020.6 L220,1021.8 L214.8,1023.1 L189.8,1028.4 L179.3,1030.9 L173.2,1032.6 L169.1,1033.8 L165.5,1035.1 L161.3,1036.7 L157.8,1038.4 L155,1040 L152.1,1042.1 L149.8,1044.2 L148.6,1045.4 L147.6,1046.6 L145.9,1049.1 L144.4,1052 L143.2,1054.9 L142.5,1057.4 L141.9,1059.9 L141.4,1062.4 L141,1065.2 L140.5,1071.4 L140.3,1080.1 L140.2,1098.3 L140.2,1282.3" stroke="#e377c2" stroke-opacity="0.8" stroke-width="3.3"/>
<path d="M140.2,703.9 L140.2,996.2 L140.3,1001.2 L140.5,1004.5 L140.9,1007.4 L141.6,1009.4 L142.1,1010.7 L142.6,1011.5 L143.5,1012.7 L144.3,1013.6 L145.2,1014.4 L146.2,1015.2 L147.4,1016 L148.8,1016.9 L150.5,1017.7 L152.5,1018.5 L156.2,1019.8 L161.2,1021 L165.4,1021.8 L170.6,1022.7 L176.8,1023.5 L184.2,1024.3 L192.9,1025.1 L208,1026.4 L247.9,1029.3 L262.3,1030.5 L269.3,1031.3 L271.8,1031.8 L273.6,1032.2 L274.6,1032.6 L274.8,1033 L274.1,1033.4 L272.6,1033.8 L270.4,1034.2 L263.6,1035.1 L249,1036.3 L207.8,1039.2 L192.2,1040.4 L179.4,1041.7 L172.6,1042.5 L166.9,1043.3 L162.3,1044.2 L156.8,1045.4 L152.8,1046.6 L149.8,1047.9 L147.5,1049.1 L146.2,1049.9 L145.1,1050.8 L144.2,1051.6 L143.5,1052.4 L142.8,1053.3 L142.1,1054.5 L141.7,1055.3 L141.2,1056.6 L140.6,1059 L140.3,1062.4 L140.2,1066.9 L140.2,1282.3" stroke="#7f7f7f" stroke-opacity="0.8" stroke-width="3.3"/>
</g>
<rect x="125.9" y="703.9" width="311.1" height="578.4" fill="none" stroke="#000" stroke-width="2.0"/>
<line x1="124.9" y1="703.9" x2="438" y2="703.9" stroke="#000" stroke-width="2.7" />
<line x1="124.9" y1="1282.3" x2="438" y2="1282.3" stroke="#000" stroke-width="2.7" />
<line x1="620.7" y1="10.9" x2="629" y2="10.9" stroke="#000" stroke-width="2" />
<line x1="940" y1="10.9" x2="948.3" y2="10.9" stroke="#000" stroke-width="2" />
<text x="605" y="23.5" font-size="33" fill="#000" text-anchor="end" font-weight="normal" font-style="normal" font-family='"Liberation Sans", sans-serif' >2.0</text>
<line x1="624.6" y1="34.04" x2="629" y2="34.04" stroke="#000" stroke-width="1.5" />
<line x1="940" y1="34.04" x2="944.4" y2="34.04" stroke="#000" stroke-width="1.5" />
<line x1="624.6" y1="57.17" x2="629" y2="57.17" stroke="#000" stroke-width="1.5" />
<line x1="940" y1="57.17" x2="944.4" y2="57.17" stroke="#000" stroke-width="1.5" />
<line x1="624.6" y1="80.31" x2="629" y2="80.31" stroke="#000" stroke-width="1.5" />
<line x1="940" y1="80.31" x2="944.4" y2="80.31" stroke="#000" stroke-width="1.5" />
<line x1="624.6" y1="103.44" x2="629" y2="103.44" stroke="#000" stroke-width="1.5" />
<line x1="940" y1="103.44" x2="944.4" y2="103.44" stroke="#000" stroke-width="1.5" />
<line x1="620.7" y1="126.58" x2="629" y2="126.58" stroke="#000" stroke-width="2" />
<line x1="940" y1="126.58" x2="948.3" y2="126.58" stroke="#000" stroke-width="2" />
<line x1="629" y1="126.58" x2="940" y2="126.58" stroke="#777" stroke-width="1" stroke-dasharray="1 1.7"/>
<text x="605" y="139.18" font-size="33" fill="#000" text-anchor="end" font-weight="normal" font-style="normal" font-family='"Liberation Sans", sans-serif' >1.5</text>
<line x1="624.6" y1="149.72" x2="629" y2="149.72" stroke="#000" stroke-width="1.5" />
<line x1="940" y1="149.72" x2="944.4" y2="149.72" stroke="#000" stroke-width="1.5" />
<line x1="624.6" y1="172.85" x2="629" y2="172.85" stroke="#000" stroke-width="1.5" />
<line x1="940" y1="172.85" x2="944.4" y2="172.85" stroke="#000" stroke-width="1.5" />
<line x1="624.6" y1="195.99" x2="629" y2="195.99" stroke="#000" stroke-width="1.5" />
<line x1="940" y1="195.99" x2="944.4" y2="195.99" stroke="#000" stroke-width="1.5" />
<line x1="624.6" y1="219.12" x2="629" y2="219.12" stroke="#000" stroke-width="1.5" />
<line x1="940" y1="219.12" x2="944.4" y2="219.12" stroke="#000" stroke-width="1.5" />
<line x1="620.7" y1="242.26" x2="629" y2="242.26" stroke="#000" stroke-width="2" />
<line x1="940" y1="242.26" x2="948.3" y2="242.26" stroke="#000" stroke-width="2" />
<line x1="629" y1="242.26" x2="940" y2="242.26" stroke="#777" stroke-width="1" stroke-dasharray="1 1.7"/>
<text x="605" y="254.86" font-size="33" fill="#000" text-anchor="end" font-weight="normal" font-style="normal" font-family='"Liberation Sans", sans-serif' >1.0</text>
<line x1="624.6" y1="265.4" x2="629" y2="265.4" stroke="#000" stroke-width="1.5" />
<line x1="940" y1="265.4" x2="944.4" y2="265.4" stroke="#000" stroke-width="1.5" />
<line x1="624.6" y1="288.53" x2="629" y2="288.53" stroke="#000" stroke-width="1.5" />
<line x1="940" y1="288.53" x2="944.4" y2="288.53" stroke="#000" stroke-width="1.5" />
<line x1="624.6" y1="311.67" x2="629" y2="311.67" stroke="#000" stroke-width="1.5" />
<line x1="940" y1="311.67" x2="944.4" y2="311.67" stroke="#000" stroke-width="1.5" />
<line x1="624.6" y1="334.8" x2="629" y2="334.8" stroke="#000" stroke-width="1.5" />
<line x1="940" y1="334.8" x2="944.4" y2="334.8" stroke="#000" stroke-width="1.5" />
<line x1="620.7" y1="357.94" x2="629" y2="357.94" stroke="#000" stroke-width="2" />
<line x1="940" y1="357.94" x2="948.3" y2="357.94" stroke="#000" stroke-width="2" />
<line x1="629" y1="357.94" x2="940" y2="357.94" stroke="#777" stroke-width="1" stroke-dasharray="1 1.7"/>
<text x="605" y="370.54" font-size="33" fill="#000" text-anchor="end" font-weight="normal" font-style="normal" font-family='"Liberation Sans", sans-serif' >0.5</text>
<line x1="624.6" y1="381.08" x2="629" y2="381.08" stroke="#000" stroke-width="1.5" />
<line x1="940" y1="381.08" x2="944.4" y2="381.08" stroke="#000" stroke-width="1.5" />
<line x1="624.6" y1="404.21" x2="629" y2="404.21" stroke="#000" stroke-width="1.5" />
<line x1="940" y1="404.21" x2="944.4" y2="404.21" stroke="#000" stroke-width="1.5" />
<line x1="624.6" y1="427.35" x2="629" y2="427.35" stroke="#000" stroke-width="1.5" />
<line x1="940" y1="427.35" x2="944.4" y2="427.35" stroke="#000" stroke-width="1.5" />
<line x1="624.6" y1="450.48" x2="629" y2="450.48" stroke="#000" stroke-width="1.5" />
<line x1="940" y1="450.48" x2="944.4" y2="450.48" stroke="#000" stroke-width="1.5" />
<line x1="620.7" y1="473.62" x2="629" y2="473.62" stroke="#000" stroke-width="2" />
<line x1="940" y1="473.62" x2="948.3" y2="473.62" stroke="#000" stroke-width="2" />
<line x1="629" y1="473.62" x2="940" y2="473.62" stroke="#777" stroke-width="1" stroke-dasharray="1 1.7"/>
<text x="605" y="486.22" font-size="33" fill="#000" text-anchor="end" font-weight="normal" font-style="normal" font-family='"Liberation Sans", sans-serif' >0.0</text>
<line x1="624.6" y1="496.76" x2="629" y2="496.76" stroke="#000" stroke-width="1.5" />
<line x1="940" y1="496.76" x2="944.4" y2="496.76" stroke="#000" stroke-width="1.5" />
<line x1="624.6" y1="519.89" x2="629" y2="519.89" stroke="#000" stroke-width="1.5" />
<line x1="940" y1="519.89" x2="944.4" y2="519.89" stroke="#000" stroke-width="1.5" />
<line x1="624.6" y1="543.03" x2="629" y2="543.03" stroke="#000" stroke-width="1.5" />
<line x1="940" y1="543.03" x2="944.4" y2="543.03" stroke="#000" stroke-width="1.5" />
<line x1="624.6" y1="566.16" x2="629" y2="566.16" stroke="#000" stroke-width="1.5" />
<line x1="940" y1="566.16" x2="944.4" y2="566.16" stroke="#000" stroke-width="1.5" />
<line x1="620.7" y1="589.3" x2="629" y2="589.3" stroke="#000" stroke-width="2" />
<line x1="940" y1="589.3" x2="948.3" y2="589.3" stroke="#000" stroke-width="2" />
<text x="605" y="601.9" font-size="33" fill="#000" text-anchor="end" font-weight="normal" font-style="normal" font-family='"Liberation Sans", sans-serif' >0.5</text>
<rect x="631.1" y="135.1" width="5.9" height="404.8" fill="#000"/>
<rect x="631.1" y="542" width="5.9" height="5.9" fill="#000"/>
<rect x="631.1" y="109.9" width="5.9" height="2" fill="#000"/>
<rect x="631.1" y="116.2" width="5.9" height="2" fill="#000"/>
<rect x="631.1" y="122.9" width="5.9" height="2" fill="#000"/>
<rect x="631.1" y="127.9" width="5.9" height="2" fill="#000"/>
<g fill="none" stroke-linejoin="round" stroke-linecap="butt" clip-path="url(#c629_10)">
<path d="M643.1,589.3 L643.3,573.6 L643.5,568.2 L643.7,563.7 L644.2,559.5 L644.8,555.8 L645.5,552.5 L646.4,549.6 L647.5,546.7 L649,543.8 L650.5,541.3 L652.5,538.9 L654.8,536.4 L657,534.3 L660.2,531.8 L663.3,529.8 L666.7,527.7 L670.6,525.6 L674.9,523.6 L678.7,521.9 L682.8,520.3 L688.4,518.2 L694.4,516.1 L700.9,514.1 L712.2,510.7 L726,507 L739,503.7 L769.1,496.3 L781.9,493 L793.7,489.7 L802.8,486.8 L807.4,485.1 L811.5,483.5 L815,481.8 L817.3,480.6 L819.8,478.9 L821.2,477.7 L822,476.8 L822.6,476 L823.2,474.8 L823.3,474 L823.3,473.1 L823.2,472.3 L822.8,471.5 L822.4,470.6 L821.7,469.8 L820.9,469 L819.9,468.2 L817.5,466.5 L814.4,464.9 L810.8,463.2 L806.7,461.5 L803.3,460.3 L798.4,458.7 L787.6,455.3 L775.8,452 L745,443.8 L736.2,441.3 L729.3,439.2 L721.7,436.7 L714.7,434.3 L708.7,431.8 L704.3,429.7 L702,428.5 L700,427.2 L698.2,426 L696.7,424.8 L695.8,423.9 L694.7,422.7 L693.8,421.4 L693.2,420.2 L692.8,419 L692.7,417.7 L692.8,416.5 L693.1,415.2 L693.7,414 L694.5,412.8 L695.5,411.5 L696.8,410.3 L698.2,409 L699.8,407.8 L701.7,406.6 L703.7,405.3 L708.3,402.8 L713.6,400.4 L719.6,397.9 L727.3,395 L734.5,392.5 L743.5,389.6 L751.8,387.1 L761.9,384.2 L772.5,381.3 L785.1,378 L803.1,373.5 L845.4,363.1 L864.6,358.2 L873.5,355.7 L881.9,353.2 L889.6,350.7 L895.6,348.7 L903,345.8 L909.5,342.9 L912.8,341.2 L915,340 L918.9,337.5 L921.1,335.9 L922.6,334.6 L924.2,333 L925.2,331.7 L926.2,330.1 L926.7,328.8 L927,327.6 L927.1,326.4 L926.9,325.1 L926.5,323.9 L925.9,322.6 L925,321.4 L923.8,320.2 L922.4,318.9 L920.6,317.7 L919.3,316.8 L917.1,315.6 L914.5,314.4 L909.5,312.3 L903.6,310.2 L896.8,308.2 L889.1,306.1 L880.5,304 L871.1,302 L861,299.9 L839.1,295.8 L792.3,287.5 L774.2,284.2 L755.3,280.5 L747.6,278.8 L740.4,277.2 L732.2,275.1 L724.9,273 L718.4,271 L714,269.3 L710.1,267.6 L708.4,266.8 L706.1,265.6 L704.8,264.8 L703,263.5 L702,262.7 L700.8,261.4 L700.1,260.6 L699.3,259.4 L698.9,258.5 L698.5,257.3 L698.4,256.5 L698.3,255.2 L698.5,254 L698.8,252.8 L699.3,251.5 L699.9,250.3 L701.5,247.8 L703.3,245.3 L708.5,239.1 L710.7,236.2 L712.7,233.3 L714.2,230.4 L714.9,228.8 L715.5,227.1 L715.8,225.9 L716,224.6 L716,223.4 L715.9,222.2 L715.5,220.9 L714.9,219.3 L714.2,218 L713.4,216.8 L712.5,215.6 L711.1,213.9 L708.3,211 L704.2,207.3 L699.2,203.1 L693.5,198.6 L687.9,194.5 L678.7,187.9 L672.9,183.3 L669.4,180.4 L666.1,177.5 L663,174.6 L660.1,171.7 L657.2,168.4 L654.5,165.1 L652.5,162.2 L650.4,158.9 L648.9,156 L647.5,152.7 L646.3,149.4 L645.3,145.7 L644.5,141.1 L643.8,135.8 L643.4,129.6 L643.2,122.1 L643.1,104.3 L643.1,10.9" stroke="#ff0000" stroke-width="3.3"/>
<path d="M643.1,589.3 L643.2,574 L643.4,564.1 L643.6,559.9 L643.9,556.2 L644.3,552.9 L644.7,550 L645.3,547.1 L646,544.2 L646.8,541.8 L647.8,539.3 L648.9,536.8 L650,534.7 L651.6,532.2 L653.1,530.2 L654.8,528.1 L656.8,526 L658.9,524 L660.8,522.3 L663.3,520.3 L665.6,518.6 L668.5,516.5 L671.7,514.5 L677.3,511.2 L684.2,507.4 L690.6,504.1 L705.6,496.7 L712.7,493 L718.5,489.7 L721.2,488 L723.6,486.4 L725.8,484.7 L727.8,483 L729.4,481.4 L730.8,479.7 L731.9,478.1 L732.6,476.4 L733,474.8 L733.1,473.5 L732.9,471.9 L732.4,470.2 L731.5,468.6 L730.4,466.9 L728.9,465.3 L727.1,463.6 L725.1,462 L722.2,459.9 L719.6,458.2 L716.9,456.6 L710.9,453.3 L704.4,450 L687,441.3 L681.5,438.4 L677,435.9 L672.1,433 L667.7,430.1 L663.7,427.2 L660.6,424.8 L657.4,421.9 L654.7,419 L652.4,416.1 L650.2,412.8 L648.4,409.5 L647.1,406.1 L645.9,402.4 L645,398.7 L644.5,395.8 L644.1,392.9 L643.6,386.3 L643.3,378 L643.1,366.5 L643.1,10.9" stroke="#1f77b4" stroke-opacity="0.8" stroke-width="3.3"/>
<path d="M643.1,589.3 L643.2,573.6 L643.4,563.7 L643.6,559.5 L643.9,555.8 L644.2,552.5 L644.7,549.6 L645.2,546.7 L645.9,543.8 L646.7,541.3 L647.6,538.9 L648.7,536.4 L649.9,534.3 L651.4,531.8 L652.9,529.8 L654.6,527.7 L656.5,525.6 L658.7,523.6 L660.6,521.9 L663.1,519.8 L665.4,518.2 L668.4,516.1 L671.6,514.1 L677.2,510.7 L684.2,507 L690.7,503.7 L705.8,496.3 L713,492.6 L718.9,489.2 L723.4,486.4 L725.7,484.7 L727.6,483 L729.4,481.4 L730.8,479.7 L731.8,478.1 L732.6,476.4 L733,474.8 L733.1,473.5 L732.9,471.9 L732.4,470.2 L731.5,468.6 L730.3,466.9 L728.8,465.3 L727,463.6 L724.9,462 L721.9,459.9 L717.2,457 L711.2,453.7 L704.7,450.4 L687.1,441.7 L681.5,438.8 L676.9,436.3 L672,433.4 L668.1,431 L664,428.1 L660.9,425.6 L657.6,422.7 L654.8,419.8 L652.5,416.9 L650.2,413.6 L648.5,410.3 L647.1,407 L645.9,403.3 L645,399.5 L644.5,396.6 L644.1,393.7 L643.6,387.1 L643.3,378.9 L643.1,367.3 L643.1,10.9" stroke="#ff7f0e" stroke-opacity="0.8" stroke-width="3.3"/>
<path d="M643.1,589.3 L643.1,495.9 L643.2,483 L643.3,474.4 L643.7,465.3 L644.1,461.5 L644.4,458.2 L644.9,454.9 L645.5,452 L646.2,449.1 L647.1,446.3 L648.2,443.4 L649.3,440.9 L650.5,438.4 L652,435.9 L653.7,433.4 L655.3,431.4 L657.4,428.9 L659.3,426.8 L661.8,424.3 L664.6,421.9 L667.6,419.4 L671.4,416.5 L678.5,411.5 L692.2,402.4 L697.6,398.7 L702.2,395.4 L706.2,392.1 L708.4,390 L710.3,388 L712,385.9 L713.1,384.2 L714.1,382.2 L714.7,380.5 L715,378.9 L715.1,377.2 L715,375.1 L714.6,373.1 L714,371 L713,368.5 L711.9,366.5 L710.3,364 L708.4,361.5 L706.3,359 L702.3,354.9 L697.4,350.3 L692.6,346.2 L678.7,334.6 L674.8,331.3 L671.2,328 L667.4,324.3 L664.2,321 L661.3,317.7 L658.7,314.4 L656.3,311.1 L654.2,307.7 L652.3,304.4 L650.6,300.7 L649,297 L647.8,293.3 L646.8,289.6 L645.9,285.4 L645.2,281.7 L644.7,278 L644.2,273.8 L643.9,269.7 L643.4,259.8 L643.2,247 L643.1,216.8 L643.1,10.9" stroke="#2ca02c" stroke-opacity="0.8" stroke-width="3.3"/>
<path d="M643.1,589.3 L643.1,458.2 L643.2,438 L643.6,429.3 L643.8,426 L644.2,422.7 L644.6,419.8 L645.2,416.9 L645.9,414.4 L646.7,411.9 L647.9,409 L649.2,406.6 L650.8,404.1 L652.3,402 L654.4,399.5 L656.5,397.5 L659.3,395 L662,392.9 L664.9,390.8 L668.8,388.4 L672.3,386.3 L676.8,383.8 L686,379.3 L703.8,371 L709.8,368.1 L715.4,365.2 L720.4,362.3 L722.9,360.7 L725.2,359 L727.1,357.4 L728.3,356.1 L729.6,354.5 L730.5,352.8 L731,351.2 L731.1,349.9 L731,348.7 L730.5,347 L729.7,345.4 L728.4,343.7 L727.2,342.5 L725.4,340.8 L723.2,339.2 L720.7,337.5 L715.7,334.6 L710.1,331.7 L703.2,328.4 L686.3,320.6 L681.2,318.1 L676.3,315.6 L671.8,313.1 L667.7,310.6 L663.9,308.2 L661.1,306.1 L658,303.6 L655.4,301.1 L653.1,298.7 L650.9,295.8 L649,292.9 L647.6,290 L646.4,287.1 L645.4,283.8 L644.9,281.3 L644.4,278.8 L644,275.9 L643.7,272.6 L643.3,265.6 L643.2,255.7 L643.1,10.9" stroke="#d62728" stroke-opacity="0.8" stroke-width="3.3"/>
<path d="M643.1,589.3 L643.1,447.9 L643.2,427.2 L643.5,418.1 L643.7,414.8 L644.1,411.5 L644.5,408.6 L645,405.7 L645.6,403.3 L646.4,400.8 L647.5,397.9 L648.7,395.4 L650.2,392.9 L651.9,390.4 L654,388 L656,385.9 L658.7,383.4 L661.2,381.3 L664.1,379.3 L667.8,376.8 L672,374.3 L676.4,371.8 L685.4,367.3 L701.9,359.4 L707.8,356.5 L714.1,353.2 L719,350.3 L721.4,348.7 L723.5,347 L725.3,345.4 L726.5,344.1 L727.7,342.5 L728.5,340.8 L729,339.2 L729.1,337.9 L729,336.7 L728.5,335 L727.8,333.8 L726.6,332.1 L725.1,330.5 L723.3,328.8 L721.1,327.2 L718.6,325.5 L713.7,322.6 L708.2,319.7 L702.3,316.8 L684.9,308.6 L676,304 L671.6,301.5 L667.5,299.1 L663.7,296.6 L660.9,294.5 L657.9,292 L655.3,289.6 L653,287.1 L651.1,284.6 L649.3,281.7 L647.8,278.8 L646.6,275.9 L645.6,272.6 L645,270.1 L644.5,267.6 L644.1,264.8 L643.8,261.4 L643.4,254.4 L643.2,244.5 L643.1,222.6 L643.1,10.9" stroke="#9467bd" stroke-opacity="0.8" stroke-width="3.3"/>
<path d="M643.1,589.3 L643.1,413.2 L643.2,392.9 L643.4,384.2 L643.9,377.6 L644.2,374.7 L644.7,372.2 L645.2,369.8 L645.9,367.3 L647,364.4 L648.2,361.9 L649.7,359.4 L651.5,356.9 L653.6,354.5 L655.8,352.4 L658.7,349.9 L661.5,347.9 L664.6,345.8 L668.8,343.3 L672.6,341.2 L677.6,338.8 L682,336.7 L687.6,334.2 L704.2,327.2 L710.9,324.3 L717.1,321.4 L722.5,318.5 L725.2,316.8 L727,315.6 L729.1,314 L730.4,312.7 L731.7,311.1 L732.4,309.8 L732.8,309 L733,308.2 L733.1,306.9 L732.9,305.7 L732.7,304.9 L732.3,304 L731.6,302.8 L730.2,301.1 L728.8,299.9 L726.7,298.2 L724.9,297 L722.1,295.3 L717.4,292.9 L711.3,290 L704.7,287.1 L687.1,279.6 L678,275.5 L673,273 L669.1,271 L664.9,268.5 L661.8,266.4 L658.9,264.3 L656,261.9 L653.4,259.4 L651.3,256.9 L649.5,254.4 L648.1,251.9 L646.7,249 L645.7,246.1 L645.1,243.7 L644.5,241.2 L644.1,238.7 L643.8,235.8 L643.4,229.2 L643.2,220.1 L643.1,199.8 L643.1,10.9" stroke="#8c564b" stroke-opacity="0.8" stroke-width="3.3"/>
<path d="M643.1,589.3 L643.1,412.8 L643.2,392.5 L643.4,383.8 L643.9,377.2 L644.2,374.3 L644.7,371.8 L645.2,369.4 L645.9,366.9 L647,364 L648.4,361.1 L649.9,358.6 L651.8,356.1 L654,353.6 L656.2,351.6 L659.2,349.1 L662,347 L665.2,345 L668.7,342.9 L672.5,340.8 L677.5,338.3 L686.6,334.2 L705.1,326.4 L711.7,323.5 L717.8,320.6 L722.4,318.1 L725.1,316.4 L727,315.2 L729,313.5 L730.3,312.3 L731.7,310.6 L732.4,309.4 L732.8,308.6 L733,307.7 L733.1,306.5 L733,305.3 L732.7,304.4 L732.3,303.6 L731.6,302.4 L730.2,300.7 L728.9,299.5 L726.8,297.8 L724.9,296.6 L722.2,294.9 L717.5,292.5 L711.4,289.6 L704.8,286.7 L687.2,279.2 L681.6,276.7 L677.2,274.7 L672.3,272.2 L668.5,270.1 L665,268.1 L661.8,266 L659,263.9 L656,261.4 L653.5,259 L651.3,256.5 L649.6,254 L648.1,251.5 L646.8,248.6 L645.7,245.7 L645.1,243.3 L644.6,240.8 L644.2,238.3 L643.8,235.4 L643.4,228.8 L643.2,219.7 L643.1,199.4 L643.1,10.9" stroke="#e377c2" stroke-opacity="0.8" stroke-width="3.3"/>
<path d="M643.1,589.3 L643.2,331.7 L643.3,320.6 L643.7,312.3 L644.3,305.7 L644.7,302.8 L645.2,299.9 L646,296.2 L647,292.9 L648.3,289.6 L649.6,286.7 L651.2,283.8 L653.1,280.9 L655.4,278 L657.5,275.5 L659.9,273 L663.1,270.1 L666,267.6 L669.7,264.8 L673.1,262.3 L677.3,259.4 L691.7,249.9 L697.1,246.1 L702.1,242.4 L706.1,239.1 L708.3,237.1 L710.2,235 L711.9,232.9 L713.3,230.8 L714.4,228.8 L715.2,226.7 L715.7,225.1 L715.8,223.4 L715.7,222.2 L715.3,220.5 L714.6,218.9 L713.6,217.2 L712.4,215.6 L711.1,213.9 L709.1,211.8 L707,209.8 L701.8,205.2 L695.1,199.8 L688.5,194.9 L678.2,187.4 L672.3,182.9 L668.9,180 L665.6,177.1 L662.6,174.2 L660.1,171.7 L657.5,168.8 L655.5,166.4 L653.6,163.9 L651.9,161.4 L650.4,158.9 L648.9,156 L647.8,153.5 L646.7,150.6 L646,148.2 L645.3,145.7 L644.8,142.8 L644.3,139.9 L643.9,136.6 L643.6,133.3 L643.3,125.4 L643.2,118 L643.1,106.8 L643.1,10.9" stroke="#7f7f7f" stroke-opacity="0.8" stroke-width="3.3"/>
</g>
<rect x="629" y="10.9" width="311" height="578.4" fill="none" stroke="#000" stroke-width="2.0"/>
<line x1="628" y1="10.9" x2="941" y2="10.9" stroke="#000" stroke-width="2.7" />
<line x1="628" y1="589.3" x2="941" y2="589.3" stroke="#000" stroke-width="2.7" />
<line x1="620.7" y1="703.9" x2="629" y2="703.9" stroke="#000" stroke-width="2" />
<line x1="940" y1="703.9" x2="948.3" y2="703.9" stroke="#000" stroke-width="2" />
<text x="605" y="716.5" font-size="33" fill="#000" text-anchor="end" font-weight="normal" font-style="normal" font-family='"Liberation Sans", sans-serif' >0.5</text>
<line x1="624.6" y1="727.04" x2="629" y2="727.04" stroke="#000" stroke-width="1.5" />
<line x1="940" y1="727.04" x2="944.4" y2="727.04" stroke="#000" stroke-width="1.5" />
<line x1="624.6" y1="750.17" x2="629" y2="750.17" stroke="#000" stroke-width="1.5" />
<line x1="940" y1="750.17" x2="944.4" y2="750.17" stroke="#000" stroke-width="1.5" />
<line x1="624.6" y1="773.31" x2="629" y2="773.31" stroke="#000" stroke-width="1.5" />
<line x1="940" y1="773.31" x2="944.4" y2="773.31" stroke="#000" stroke-width="1.5" />
<line x1="624.6" y1="796.44" x2="629" y2="796.44" stroke="#000" stroke-width="1.5" />
<line x1="940" y1="796.44" x2="944.4" y2="796.44" stroke="#000" stroke-width="1.5" />
<line x1="620.7" y1="819.58" x2="629" y2="819.58" stroke="#000" stroke-width="2" />
<line x1="940" y1="819.58" x2="948.3" y2="819.58" stroke="#000" stroke-width="2" />
<line x1="629" y1="819.58" x2="940" y2="819.58" stroke="#777" stroke-width="1" stroke-dasharray="1 1.7"/>
<text x="605" y="832.18" font-size="33" fill="#000" text-anchor="end" font-weight="normal" font-style="normal" font-family='"Liberation Sans", sans-serif' >0.0</text>
<line x1="624.6" y1="842.72" x2="629" y2="842.72" stroke="#000" stroke-width="1.5" />
<line x1="940" y1="842.72" x2="944.4" y2="842.72" stroke="#000" stroke-width="1.5" />
<line x1="624.6" y1="865.85" x2="629" y2="865.85" stroke="#000" stroke-width="1.5" />
<line x1="940" y1="865.85" x2="944.4" y2="865.85" stroke="#000" stroke-width="1.5" />
<line x1="624.6" y1="888.99" x2="629" y2="888.99" stroke="#000" stroke-width="1.5" />
<line x1="940" y1="888.99" x2="944.4" y2="888.99" stroke="#000" stroke-width="1.5" />
<line x1="624.6" y1="912.12" x2="629" y2="912.12" stroke="#000" stroke-width="1.5" />
<line x1="940" y1="912.12" x2="944.4" y2="912.12" stroke="#000" stroke-width="1.5" />
<line x1="620.7" y1="935.26" x2="629" y2="935.26" stroke="#000" stroke-width="2" />
<line x1="940" y1="935.26" x2="948.3" y2="935.26" stroke="#000" stroke-width="2" />
<line x1="629" y1="935.26" x2="940" y2="935.26" stroke="#777" stroke-width="1" stroke-dasharray="1 1.7"/>
<text x="605" y="947.86" font-size="33" fill="#000" text-anchor="end" font-weight="normal" font-style="normal" font-family='"Liberation Sans", sans-serif' >0.5</text>
<line x1="624.6" y1="958.4" x2="629" y2="958.4" stroke="#000" stroke-width="1.5" />
<line x1="940" y1="958.4" x2="944.4" y2="958.4" stroke="#000" stroke-width="1.5" />
<line x1="624.6" y1="981.53" x2="629" y2="981.53" stroke="#000" stroke-width="1.5" />
<line x1="940" y1="981.53" x2="944.4" y2="981.53" stroke="#000" stroke-width="1.5" />
<line x1="624.6" y1="1004.67" x2="629" y2="1004.67" stroke="#000" stroke-width="1.5" />
<line x1="940" y1="1004.67" x2="944.4" y2="1004.67" stroke="#000" stroke-width="1.5" />
<line x1="624.6" y1="1027.8" x2="629" y2="1027.8" stroke="#000" stroke-width="1.5" />
<line x1="940" y1="1027.8" x2="944.4" y2="1027.8" stroke="#000" stroke-width="1.5" />
<line x1="620.7" y1="1050.94" x2="629" y2="1050.94" stroke="#000" stroke-width="2" />
<line x1="940" y1="1050.94" x2="948.3" y2="1050.94" stroke="#000" stroke-width="2" />
<line x1="629" y1="1050.94" x2="940" y2="1050.94" stroke="#777" stroke-width="1" stroke-dasharray="1 1.7"/>
<text x="605" y="1063.54" font-size="33" fill="#000" text-anchor="end" font-weight="normal" font-style="normal" font-family='"Liberation Sans", sans-serif' >1.0</text>
<line x1="624.6" y1="1074.08" x2="629" y2="1074.08" stroke="#000" stroke-width="1.5" />
<line x1="940" y1="1074.08" x2="944.4" y2="1074.08" stroke="#000" stroke-width="1.5" />
<line x1="624.6" y1="1097.21" x2="629" y2="1097.21" stroke="#000" stroke-width="1.5" />
<line x1="940" y1="1097.21" x2="944.4" y2="1097.21" stroke="#000" stroke-width="1.5" />
<line x1="624.6" y1="1120.35" x2="629" y2="1120.35" stroke="#000" stroke-width="1.5" />
<line x1="940" y1="1120.35" x2="944.4" y2="1120.35" stroke="#000" stroke-width="1.5" />
<line x1="624.6" y1="1143.48" x2="629" y2="1143.48" stroke="#000" stroke-width="1.5" />
<line x1="940" y1="1143.48" x2="944.4" y2="1143.48" stroke="#000" stroke-width="1.5" />
<line x1="620.7" y1="1166.62" x2="629" y2="1166.62" stroke="#000" stroke-width="2" />
<line x1="940" y1="1166.62" x2="948.3" y2="1166.62" stroke="#000" stroke-width="2" />
<line x1="629" y1="1166.62" x2="940" y2="1166.62" stroke="#777" stroke-width="1" stroke-dasharray="1 1.7"/>
<text x="605" y="1179.22" font-size="33" fill="#000" text-anchor="end" font-weight="normal" font-style="normal" font-family='"Liberation Sans", sans-serif' >1.5</text>
<line x1="624.6" y1="1189.76" x2="629" y2="1189.76" stroke="#000" stroke-width="1.5" />
<line x1="940" y1="1189.76" x2="944.4" y2="1189.76" stroke="#000" stroke-width="1.5" />
<line x1="624.6" y1="1212.89" x2="629" y2="1212.89" stroke="#000" stroke-width="1.5" />
<line x1="940" y1="1212.89" x2="944.4" y2="1212.89" stroke="#000" stroke-width="1.5" />
<line x1="624.6" y1="1236.03" x2="629" y2="1236.03" stroke="#000" stroke-width="1.5" />
<line x1="940" y1="1236.03" x2="944.4" y2="1236.03" stroke="#000" stroke-width="1.5" />
<line x1="624.6" y1="1259.16" x2="629" y2="1259.16" stroke="#000" stroke-width="1.5" />
<line x1="940" y1="1259.16" x2="944.4" y2="1259.16" stroke="#000" stroke-width="1.5" />
<line x1="620.7" y1="1282.3" x2="629" y2="1282.3" stroke="#000" stroke-width="2" />
<line x1="940" y1="1282.3" x2="948.3" y2="1282.3" stroke="#000" stroke-width="2" />
<text x="605" y="1294.9" font-size="33" fill="#000" text-anchor="end" font-weight="normal" font-style="normal" font-family='"Liberation Sans", sans-serif' >2.0</text>
<rect x="631.1" y="736" width="5.9" height="2" fill="#000"/>
<rect x="631.1" y="744.9" width="5.9" height="375.7" fill="#000"/>
<rect x="631.1" y="1121.6" width="5.9" height="9.2" fill="#000"/>
<rect x="631.1" y="1131.8" width="5.9" height="3.6" fill="#000"/>
<rect x="631.1" y="1138.9" width="5.9" height="2" fill="#000"/>
<rect x="631.1" y="1144.8" width="5.9" height="2" fill="#000"/>
<rect x="631.1" y="1149.2" width="5.9" height="1.8" fill="#000"/>
<rect x="631.1" y="1152" width="5.9" height="1" fill="#000"/>
<g fill="none" stroke-linejoin="round" stroke-linecap="butt" clip-path="url(#c629_703)">
<path d="M643.1,703.9 L643.3,720.9 L643.5,726.6 L643.8,731.6 L644.3,736.1 L644.9,739.9 L645.8,743.6 L646.8,746.9 L648.2,750.2 L649.8,753.1 L651.7,756 L654.2,758.9 L656.7,761.4 L659.6,763.8 L663,766.3 L667,768.8 L671.6,771.3 L675.9,773.4 L680.7,775.4 L686,777.5 L691.7,779.6 L698,781.6 L704.8,783.7 L712,785.8 L726.3,789.5 L741.8,793.2 L756.4,796.5 L792.3,804.4 L806.7,807.7 L820.1,811 L830.4,813.9 L835.6,815.5 L839.2,816.8 L842.4,818 L845.2,819.2 L848.4,820.9 L850.3,822.1 L851.8,823.4 L852.9,824.6 L853.4,825.5 L853.6,826.3 L853.7,827.5 L853.3,828.8 L852.7,829.6 L852,830.4 L850.6,831.7 L848.1,833.3 L845.7,834.5 L842,836.2 L838.9,837.4 L835.4,838.7 L826.4,841.6 L816.3,844.5 L792.2,851.1 L782.4,854 L777.4,855.6 L774.1,856.9 L771,858.1 L768.4,859.4 L766.2,860.6 L764.4,861.8 L763.2,863.1 L762.6,863.9 L762.5,864.3 L762.3,865.1 L762.3,865.6 L762.5,866.4 L762.7,866.8 L763.3,867.6 L763.8,868 L764.8,868.9 L766,869.7 L768.5,870.9 L771.5,872.2 L775.1,873.4 L779.3,874.6 L784.1,875.9 L789.4,877.1 L795.2,878.4 L805.8,880.4 L819.8,882.9 L862.8,889.9 L879.7,892.8 L892.9,895.3 L898.8,896.6 L904.1,897.8 L909,899 L913.2,900.3 L916.7,901.5 L919.6,902.8 L922.8,904.4 L924.2,905.2 L925.3,906.1 L926.2,906.9 L927,907.7 L927.7,909 L927.9,909.8 L927.9,910.6 L927.7,911.4 L927.3,912.3 L926.7,913.1 L925.8,913.9 L924.8,914.8 L923.5,915.6 L920.3,917.2 L916.2,918.9 L911.3,920.5 L904.1,922.6 L894.1,925.1 L882.5,927.6 L865.8,930.9 L822.8,939.1 L810.6,941.6 L800.8,943.7 L789.8,946.2 L781.4,948.2 L772.3,950.7 L765.6,952.8 L759.8,954.9 L754.9,956.9 L752.5,958.2 L751.1,959 L749.3,960.2 L748.3,961.1 L747.1,962.3 L746.6,963.1 L746.1,964.4 L745.9,965.2 L746.1,966.4 L746.4,967.3 L746.9,968.1 L747.6,968.9 L748.5,969.7 L749.5,970.6 L752.1,972.2 L755.4,973.9 L759.4,975.5 L764,977.2 L769.2,978.8 L775.1,980.5 L783.2,982.6 L795.8,985.5 L811.8,988.8 L826.7,991.7 L866.3,999.1 L882.9,1002.4 L890.7,1004.1 L898,1005.7 L904.7,1007.4 L909.4,1008.6 L914.9,1010.3 L918.5,1011.5 L922.6,1013.2 L925.1,1014.4 L926.5,1015.2 L927.6,1016 L928.9,1017.3 L929.2,1017.7 L929.6,1018.5 L929.8,1019.4 L929.8,1019.8 L929.6,1020.6 L929.2,1021.4 L928.6,1022.2 L927.7,1023.1 L926.6,1023.9 L925.3,1024.7 L921.9,1026.4 L917.7,1028 L912.6,1029.7 L906.7,1031.3 L898.4,1033.4 L883.4,1036.7 L864.6,1040.4 L846.8,1043.7 L792.1,1053.7 L776.8,1056.6 L762.2,1059.5 L748.4,1062.4 L735.5,1065.2 L723.6,1068.1 L712.8,1071 L703,1073.9 L694.2,1076.8 L686.4,1079.7 L679.6,1082.6 L673.6,1085.5 L670.5,1087.2 L667.7,1088.8 L665.1,1090.5 L662.8,1092.1 L660.7,1093.8 L658.3,1095.8 L656.5,1097.5 L655,1099.1 L653.6,1100.8 L652.3,1102.5 L651.2,1104.1 L650,1106.2 L649.1,1107.8 L648.2,1109.9 L647.3,1112 L646.6,1114 L646,1116.1 L645.4,1118.6 L645,1121.1 L644.5,1124 L643.9,1129.7 L643.6,1134.7 L643.4,1140.1 L643.1,1155.4 L643.1,1282.3" stroke="#0000ff" stroke-width="3.3"/>
<path d="M643.1,703.9 L643.2,718.4 L643.6,727.9 L643.8,731.6 L644.2,735.3 L644.6,738.6 L645.2,741.5 L645.8,744.4 L646.7,747.3 L647.8,750.2 L649,752.7 L650.4,755.2 L651.7,757.2 L653.6,759.7 L655.3,761.8 L657.3,763.8 L659.6,765.9 L662.1,768 L664.8,770.1 L667.2,771.7 L670.4,773.8 L673.9,775.8 L677.6,777.9 L684,781.2 L691.9,784.9 L699.3,788.2 L717.3,796.1 L725.4,799.8 L732.1,803.1 L735.1,804.8 L737.9,806.4 L740.4,808.1 L742.7,809.7 L744.6,811.4 L746.2,813 L747.5,814.7 L748.4,816.4 L748.9,818 L749.1,819.7 L748.9,821.3 L748.3,823 L747.3,824.6 L746,826.3 L744.3,827.9 L741.8,830 L739.4,831.7 L736,833.7 L733,835.4 L729.8,837 L722.8,840.3 L715.4,843.6 L694.3,852.7 L687.9,855.6 L682.8,858.1 L677.1,861 L672,863.9 L667.3,866.8 L663.8,869.3 L660.1,872.2 L656.9,875.1 L654.2,878 L652.9,879.6 L651.6,881.3 L649.6,884.6 L647.9,887.9 L646.5,891.6 L645.4,895.7 L644.8,898.6 L644.3,901.5 L644,904.8 L643.7,908.1 L643.3,916.4 L643.1,928.4 L643.1,1282.3" stroke="#1f77b4" stroke-opacity="0.8" stroke-width="3.3"/>
<path d="M643.1,703.9 L643.1,730.4 L643.2,741.9 L643.5,750.6 L643.8,753.9 L644.1,757.2 L644.6,760.5 L645.3,763.4 L646.1,766.3 L647,768.8 L648.1,771.3 L649.3,773.4 L650.9,775.8 L652.6,777.9 L654.5,780 L656.7,782 L659.2,784.1 L662,786.2 L665.2,788.2 L668,789.9 L671.8,792 L675.9,794 L683.2,797.3 L692.3,801.1 L701,804.4 L721.2,811.8 L729.7,815.1 L736.5,818 L740,819.7 L742.5,820.9 L745.4,822.6 L747.3,823.8 L749.6,825.5 L750.9,826.7 L752.4,828.3 L753.1,829.6 L753.5,830.4 L753.7,831.2 L753.8,832.5 L753.6,833.7 L753.4,834.5 L753,835.4 L751.9,837 L750.4,838.7 L748.4,840.3 L746,842 L743.3,843.6 L740.2,845.3 L734.1,848.2 L727.2,851.1 L718.9,854.4 L697.2,862.7 L691,865.1 L685.1,867.6 L678.7,870.5 L673.6,873 L668.4,875.9 L664.4,878.4 L660.8,880.9 L657.2,883.7 L654.2,886.6 L651.8,889.5 L649.8,892.4 L648.8,894.1 L647.9,895.7 L647.2,897.4 L646.4,899.5 L645.3,903.2 L644.8,905.7 L644.3,908.6 L643.9,911.4 L643.7,914.8 L643.3,922.6 L643.1,933.8 L643.1,1282.3" stroke="#ff7f0e" stroke-opacity="0.8" stroke-width="3.3"/>
<path d="M643.1,703.9 L643.1,811.8 L643.2,822.1 L643.3,828.8 L643.5,832.9 L643.7,836.2 L644,839.1 L644.5,841.6 L645,844.1 L645.7,846.1 L646.5,848.2 L647.5,850.3 L649,852.7 L650.6,854.8 L652.6,856.9 L654.9,858.9 L657.6,861 L660.1,862.7 L663.7,864.7 L666.9,866.4 L670.4,868 L675.3,870.1 L679.5,871.8 L685.2,873.8 L696.4,877.5 L719,884.6 L726.8,887.1 L734,889.5 L740.3,892 L744,893.7 L746.4,894.9 L748.4,896.1 L750.1,897.4 L751.5,898.6 L752.4,899.9 L753,901.1 L753.1,902.4 L752.9,903.6 L752.7,904.4 L752.3,905.2 L751.3,906.9 L749.9,908.6 L748,910.2 L745.8,911.9 L743.3,913.5 L739.6,915.6 L733.7,918.5 L726.2,921.8 L718.1,925.1 L696.2,933.8 L690.2,936.3 L684.6,938.7 L678.4,941.6 L673.6,944.1 L669.2,946.6 L665.2,949.1 L661.7,951.5 L658.1,954.4 L655,957.3 L652.5,960.2 L650.4,963.1 L649.4,964.8 L648.5,966.4 L647,969.7 L645.9,973 L645.3,975.5 L644.7,978.4 L644.2,981.7 L643.8,985 L643.6,988.8 L643.4,992.9 L643.2,1003.6 L643.1,1027.2 L643.1,1282.3" stroke="#2ca02c" stroke-opacity="0.8" stroke-width="3.3"/>
<path d="M643.1,703.9 L643.1,811.8 L643.2,822.1 L643.3,828.8 L643.5,832.9 L643.7,836.2 L644,839.1 L644.5,841.6 L645,844.1 L645.7,846.1 L646.5,848.2 L647.5,850.3 L649,852.7 L650.6,854.8 L652.6,856.9 L654.9,858.9 L657.6,861 L660.1,862.7 L663.7,864.7 L666.9,866.4 L670.4,868 L675.3,870.1 L679.5,871.8 L685.2,873.8 L696.4,877.5 L719,884.6 L726.8,887.1 L734,889.5 L740.3,892 L744,893.7 L746.4,894.9 L748.4,896.1 L750.1,897.4 L751.5,898.6 L752.4,899.9 L753,901.1 L753.1,902.4 L752.9,903.6 L752.7,904.4 L752.3,905.2 L751.3,906.9 L749.9,908.6 L748,910.2 L745.8,911.9 L743.3,913.5 L739.6,915.6 L733.7,918.5 L726.2,921.8 L718.1,925.1 L696.2,933.8 L690.2,936.3 L684.6,938.7 L678.4,941.6 L673.6,944.1 L669.2,946.6 L665.2,949.1 L661.7,951.5 L658.1,954.4 L655,957.3 L652.5,960.2 L650.4,963.1 L649.4,964.8 L648.5,966.4 L647,969.7 L645.9,973 L645.3,975.5 L644.7,978.4 L644.2,981.7 L643.8,985 L643.6,988.8 L643.4,992.9 L643.2,1003.6 L643.1,1027.2 L643.1,1282.3" stroke="#d62728" stroke-opacity="0.8" stroke-width="3.3"/>
<path d="M643.1,703.9 L643.1,829.2 L643.2,847.8 L643.6,855.6 L643.9,858.9 L644.3,861.8 L644.7,864.3 L645.4,866.8 L646.1,869.3 L647,871.3 L648.2,873.8 L649.8,876.3 L651.8,878.8 L653.7,880.9 L656,882.9 L658.6,885 L661.6,887.1 L665,889.1 L668.7,891.2 L672.9,893.3 L677.4,895.3 L682.3,897.4 L692.8,901.5 L712,908.6 L718.5,911 L725.6,913.9 L731,916.4 L734.1,918.1 L736.2,919.3 L738.6,921 L740.1,922.2 L741.6,923.8 L742.4,925.1 L742.9,926.3 L743.1,927.6 L743,929.2 L742.5,930.9 L741.7,932.5 L740.3,934.6 L738.9,936.3 L736.7,938.3 L734.1,940.4 L731.2,942.5 L725.8,945.8 L719,949.5 L711.7,953.2 L692.3,962.7 L686.6,965.6 L681.3,968.5 L676.2,971.4 L671.6,974.3 L667.4,977.2 L664.1,979.7 L660.7,982.6 L657.6,985.5 L655,988.3 L652.8,991.2 L650.7,994.5 L648.9,997.9 L647.5,1001.2 L646.3,1004.9 L645.6,1007.8 L644.9,1011.1 L644.4,1014.4 L644,1018.1 L643.7,1021.8 L643.5,1026.4 L643.2,1038 L643.1,1063.6 L643.1,1282.3" stroke="#9467bd" stroke-opacity="0.8" stroke-width="3.3"/>
<path d="M643.1,703.9 L643.1,880.4 L643.2,904 L643.5,914.3 L643.7,918.5 L644,922.2 L644.4,925.5 L645,928.8 L645.6,931.7 L646.4,934.6 L647.6,937.9 L648.8,940.8 L650.4,943.7 L652.2,946.6 L654.5,949.5 L656.7,952 L659.7,954.9 L662.5,957.3 L665.8,959.8 L669.9,962.7 L673.8,965.2 L678.7,968.1 L687.9,973 L705.9,982.1 L712.2,985.5 L718.1,988.8 L723.4,992.1 L726.3,994.1 L728.3,995.8 L730.5,997.9 L731.9,999.5 L733.1,1001.2 L733.9,1002.8 L734.4,1004.5 L734.6,1006.1 L734.5,1007.4 L734.1,1009 L733.3,1010.7 L732.2,1012.3 L730.7,1014 L729,1015.6 L726.9,1017.3 L723.9,1019.4 L719.1,1022.2 L712.9,1025.6 L706.2,1028.9 L688,1037.5 L683,1040 L678.2,1042.5 L673.8,1045 L669.6,1047.5 L665.9,1049.9 L662.4,1052.4 L659.4,1054.9 L656.7,1057.4 L654.4,1059.9 L652.3,1062.4 L650.6,1064.8 L648.9,1067.7 L647.6,1070.6 L646.5,1073.5 L645.7,1076 L645.1,1078.9 L644.5,1081.8 L644.1,1085.1 L643.8,1088.4 L643.5,1092.5 L643.2,1102 L643.1,1124 L643.1,1282.3" stroke="#8c564b" stroke-opacity="0.8" stroke-width="3.3"/>
<path d="M643.1,703.9 L643.1,900.3 L643.2,922.6 L643.5,932.5 L643.7,936.7 L644,940 L644.5,943.3 L645,946.2 L645.6,948.7 L646.4,951.1 L647.7,954.4 L649.2,957.3 L651,960.2 L653,962.7 L655.7,965.6 L658.4,968.1 L661.6,970.6 L665.2,973 L669.3,975.5 L673.8,978 L678.7,980.5 L684.1,983 L689.8,985.5 L695.9,987.9 L716.8,996.2 L723.9,999.1 L731.5,1002.4 L737.3,1005.3 L740.3,1007 L742.9,1008.6 L745.1,1010.3 L747,1011.9 L748.4,1013.6 L749.4,1015.2 L749.8,1016 L750,1016.9 L750.1,1018.1 L749.9,1019.8 L749.3,1021.4 L748.3,1023.1 L746.9,1024.7 L745.2,1026.4 L743.1,1028 L740.7,1029.7 L737.2,1031.8 L734.2,1033.4 L730.9,1035.1 L723.8,1038.4 L716.1,1041.7 L695.5,1050.4 L689.8,1052.8 L684.4,1055.3 L679.3,1057.8 L674.6,1060.3 L670.3,1062.8 L666.4,1065.2 L662.8,1067.7 L659.7,1070.2 L656.9,1072.7 L654.5,1075.2 L652.5,1077.6 L650.5,1080.5 L648.8,1083.4 L647.5,1086.3 L646.6,1088.8 L645.7,1091.7 L645,1094.6 L644.5,1097.9 L644,1101.6 L643.7,1105.3 L643.4,1109.9 L643.3,1115.3 L643.1,1124 L643.1,1137.6 L643.1,1282.3" stroke="#e377c2" stroke-opacity="0.8" stroke-width="3.3"/>
<path d="M643.1,703.9 L643.1,913.1 L643.2,935.4 L643.5,945.8 L643.7,949.9 L644,953.2 L644.5,956.5 L645,959.4 L645.6,961.9 L646.3,964.4 L647.7,967.7 L649.1,970.6 L651,973.5 L653.3,976.4 L656.1,979.2 L658.9,981.7 L662.2,984.2 L666,986.7 L670.2,989.2 L674.8,991.7 L680,994.1 L685.5,996.6 L691.4,999.1 L697.7,1001.6 L719.4,1009.8 L726.7,1012.7 L734.5,1016 L740.6,1018.9 L743.6,1020.6 L746.3,1022.2 L748.6,1023.9 L750.6,1025.6 L752,1027.2 L753.1,1028.9 L753.4,1029.7 L753.7,1030.5 L753.8,1031.8 L753.6,1033.4 L753.4,1034.2 L753,1035.5 L752.1,1037.1 L750.7,1039.2 L748.7,1041.3 L746.4,1043.3 L743.6,1045.4 L740.5,1047.5 L737.8,1049.1 L734.1,1051.2 L726.9,1054.9 L719.2,1058.6 L698,1068.6 L692,1071.4 L686.4,1074.3 L681,1077.2 L676,1080.1 L671.5,1083 L667.9,1085.5 L664.6,1088 L661.7,1090.5 L659,1092.9 L656.3,1095.8 L653.9,1098.7 L651.9,1101.6 L650.2,1104.5 L648.8,1107.4 L647.6,1110.3 L646.5,1113.6 L645.7,1116.9 L645,1120.6 L644.4,1124.4 L644,1128.5 L643.6,1133.5 L643.4,1138.8 L643.2,1148.3 L643.1,1162.8 L643.1,1282.3" stroke="#7f7f7f" stroke-opacity="0.8" stroke-width="3.3"/>
</g>
<rect x="629" y="703.9" width="311" height="578.4" fill="none" stroke="#000" stroke-width="2.0"/>
<line x1="628" y1="703.9" x2="941" y2="703.9" stroke="#000" stroke-width="2.7" />
<line x1="628" y1="1282.3" x2="941" y2="1282.3" stroke="#000" stroke-width="2.7" />
<text x="281.45" y="623.8" font-size="32.2" fill="#ff0000" text-anchor="middle" font-weight="bold" font-style="normal" font-family='"Liberation Sans", sans-serif' >Electron transport</text>
<text x="281.45" y="685.6" font-size="32.2" fill="#0000ff" text-anchor="middle" font-weight="bold" font-style="normal" font-family='"Liberation Sans", sans-serif' >Hole transport</text>
<text x="281.45" y="1318.8" font-size="33" fill="#000" text-anchor="middle" font-weight="normal" font-style="normal" font-family='"Liberation Sans", sans-serif' >DOS (arb. unit)</text>
<text x="784.5" y="623.8" font-size="32.2" fill="#ff0000" text-anchor="middle" font-weight="bold" font-style="normal" font-family='"Liberation Sans", sans-serif' >Electron transport</text>
<text x="784.5" y="685.6" font-size="32.2" fill="#0000ff" text-anchor="middle" font-weight="bold" font-style="normal" font-family='"Liberation Sans", sans-serif' >Hole transport</text>
<text x="784.5" y="1318.8" font-size="33" fill="#000" text-anchor="middle" font-weight="normal" font-style="normal" font-family='"Liberation Sans", sans-serif' >DOS (arb. unit)</text>
<text x="-2.3" y="24" font-size="33.5" fill="#000" text-anchor="start" font-weight="bold" font-style="normal" font-family='"Liberation Sans", sans-serif' >a)</text>
<text x="501" y="24" font-size="33.5" fill="#000" text-anchor="start" font-weight="bold" font-style="normal" font-family='"Liberation Sans", sans-serif' >b)</text>
<text x="1003.5" y="45.3" font-size="33.5" fill="#000" text-anchor="start" font-weight="bold" font-style="normal" font-family='"Liberation Sans", sans-serif' >c)</text>
<text x="212.5" y="228.1" font-size="24.3" fill="#7f7f7f" text-anchor="start" font-weight="normal" font-style="normal" font-family='"Liberation Sans", sans-serif' >LUMO+7</text>
<text x="261" y="264.5" font-size="24.3" fill="#e377c2" text-anchor="start" font-weight="normal" font-style="normal" font-family='"Liberation Sans", sans-serif' >LUMO+6</text>
<text x="261" y="288.6" font-size="24.3" fill="#8c564b" text-anchor="start" font-weight="normal" font-style="normal" font-family='"Liberation Sans", sans-serif' >LUMO+5</text>
<text x="323.1" y="347" font-size="24.3" fill="#9467bd" text-anchor="start" font-weight="normal" font-style="normal" font-family='"Liberation Sans", sans-serif' >LUMO+4</text>
<text x="323.1" y="371" font-size="24.3" fill="#d62728" text-anchor="start" font-weight="normal" font-style="normal" font-family='"Liberation Sans", sans-serif' >LUMO+3</text>
<text x="190.4" y="401.4" font-size="24.3" fill="#2ca02c" text-anchor="start" font-weight="normal" font-style="normal" font-family='"Liberation Sans", sans-serif' >LUMO+2</text>
<text x="260.6" y="430.8" font-size="24.3" fill="#ff7f0e" text-anchor="start" font-weight="normal" font-style="normal" font-family='"Liberation Sans", sans-serif' >LUMO+1</text>
<text x="260.6" y="454.4" font-size="24.3" fill="#1f77b4" text-anchor="start" font-weight="normal" font-style="normal" font-family='"Liberation Sans", sans-serif' >LUMO</text>
<text x="303.6" y="541.9" font-size="23.8" fill="#ff0000" text-anchor="start" font-weight="bold" font-style="normal" font-family='"Liberation Sans", sans-serif' >Total DOS</text>
<line x1="350.1" y1="479.3" x2="359.1" y2="517.3" stroke="#ff0000" stroke-width="2.2" />
<text x="256.2" y="757.2" font-size="23.8" fill="#0000ff" text-anchor="start" font-weight="bold" font-style="normal" font-family='"Liberation Sans", sans-serif' >Total DOS</text>
<line x1="309.6" y1="763.2" x2="268" y2="824.9" stroke="#0000ff" stroke-width="2.2" />
<text x="309.8" y="816.5" font-size="24.3" fill="#1f77b4" text-anchor="start" font-weight="normal" font-style="normal" font-family='"Liberation Sans", sans-serif' >HOMO</text>
<text x="309.8" y="840.3" font-size="24.3" fill="#ff7f0e" text-anchor="start" font-weight="normal" font-style="normal" font-family='"Liberation Sans", sans-serif' >HOMO-1</text>
<text x="261" y="865.3" font-size="24.3" fill="#2ca02c" text-anchor="start" font-weight="normal" font-style="normal" font-family='"Liberation Sans", sans-serif' >HOMO-2</text>
<text x="261" y="889.1" font-size="24.3" fill="#d62728" text-anchor="start" font-weight="normal" font-style="normal" font-family='"Liberation Sans", sans-serif' >HOMO-3</text>
<text x="220.8" y="942.2" font-size="24.3" fill="#9467bd" text-anchor="start" font-weight="normal" font-style="normal" font-family='"Liberation Sans", sans-serif' >HOMO-4</text>
<text x="207.9" y="993" font-size="24.3" fill="#8c564b" text-anchor="start" font-weight="normal" font-style="normal" font-family='"Liberation Sans", sans-serif' >HOMO-5</text>
<text x="327.1" y="1020.6" font-size="24.3" fill="#e377c2" text-anchor="start" font-weight="normal" font-style="normal" font-family='"Liberation Sans", sans-serif' >HOMO-6</text>
<text x="327.1" y="1044.7" font-size="24.3" fill="#7f7f7f" text-anchor="start" font-weight="normal" font-style="normal" font-family='"Liberation Sans", sans-serif' >HOMO-7</text>
<text x="710.7" y="189" font-size="24.3" fill="#7f7f7f" text-anchor="start" font-weight="normal" font-style="normal" font-family='"Liberation Sans", sans-serif' >LUMO+7</text>
<text x="746" y="243.9" font-size="24.3" fill="#e377c2" text-anchor="start" font-weight="normal" font-style="normal" font-family='"Liberation Sans", sans-serif' >LUMO+6</text>
<text x="746" y="268.3" font-size="24.3" fill="#8c564b" text-anchor="start" font-weight="normal" font-style="normal" font-family='"Liberation Sans", sans-serif' >LUMO+5</text>
<text x="746" y="342.9" font-size="24.3" fill="#9467bd" text-anchor="start" font-weight="normal" font-style="normal" font-family='"Liberation Sans", sans-serif' >LUMO+4</text>
<text x="746" y="366.8" font-size="24.3" fill="#d62728" text-anchor="start" font-weight="normal" font-style="normal" font-family='"Liberation Sans", sans-serif' >LUMO+3</text>
<text x="724.4" y="428.5" font-size="24.3" fill="#2ca02c" text-anchor="start" font-weight="normal" font-style="normal" font-family='"Liberation Sans", sans-serif' >LUMO+2</text>
<text x="710.7" y="539.6" font-size="24.3" fill="#ff7f0e" text-anchor="start" font-weight="normal" font-style="normal" font-family='"Liberation Sans", sans-serif' >LUMO+1</text>
<text x="710.7" y="563.1" font-size="24.3" fill="#1f77b4" text-anchor="start" font-weight="normal" font-style="normal" font-family='"Liberation Sans", sans-serif' >LUMO</text>
<text x="813.7" y="574.5" font-size="23.8" fill="#ff0000" text-anchor="start" font-weight="bold" font-style="normal" font-family='"Liberation Sans", sans-serif' >Total DOS</text>
<line x1="807.3" y1="488.3" x2="870.9" y2="549.2" stroke="#ff0000" stroke-width="2.2" />
<text x="814.9" y="733.8" font-size="23.8" fill="#0000ff" text-anchor="start" font-weight="bold" font-style="normal" font-family='"Liberation Sans", sans-serif' >Total DOS</text>
<line x1="870.9" y1="740.3" x2="831.6" y2="815.6" stroke="#0000ff" stroke-width="2.2" />
<text x="725.2" y="755.8" font-size="24.3" fill="#1f77b4" text-anchor="start" font-weight="normal" font-style="normal" font-family='"Liberation Sans", sans-serif' >HOMO</text>
<text x="725.2" y="779.3" font-size="24.3" fill="#ff7f0e" text-anchor="start" font-weight="normal" font-style="normal" font-family='"Liberation Sans", sans-serif' >HOMO-1</text>
<text x="761.7" y="906.2" font-size="24.3" fill="#2ca02c" text-anchor="start" font-weight="normal" font-style="normal" font-family='"Liberation Sans", sans-serif' >HOMO-2</text>
<text x="761.7" y="929.7" font-size="24.3" fill="#d62728" text-anchor="start" font-weight="normal" font-style="normal" font-family='"Liberation Sans", sans-serif' >HOMO-3</text>
<text x="784.1" y="974.5" font-size="24.3" fill="#9467bd" text-anchor="start" font-weight="normal" font-style="normal" font-family='"Liberation Sans", sans-serif' >HOMO-4</text>
<text x="725.2" y="1091.5" font-size="24.3" fill="#8c564b" text-anchor="start" font-weight="normal" font-style="normal" font-family='"Liberation Sans", sans-serif' >HOMO-5</text>
<text x="725.2" y="1115" font-size="24.3" fill="#e377c2" text-anchor="start" font-weight="normal" font-style="normal" font-family='"Liberation Sans", sans-serif' >HOMO-6</text>
<text x="725.2" y="1138.6" font-size="24.3" fill="#7f7f7f" text-anchor="start" font-weight="normal" font-style="normal" font-family='"Liberation Sans", sans-serif' >HOMO-7</text>
<g transform="translate(33.8,416) rotate(-90)" font-family='"Liberation Sans", sans-serif' fill="#000">
<text x="0.6" y="0" font-size="33" font-style="normal" font-family='"Liberation Sans", sans-serif' >|</text>
<text x="14" y="0" font-size="34" font-style="italic" font-family='"Liberation Sans", sans-serif' >ε</text>
<text x="28" y="8.4" font-size="23" font-style="italic" font-family='"Liberation Sans", sans-serif' >i</text>
<text x="30" y="-17.8" font-size="22.2" font-style="normal" font-family='"Liberation Sans", sans-serif' >L+<tspan font-style="italic">p</tspan></text>
<text x="74" y="0" font-size="33" font-style="normal" font-family='"Liberation Sans", sans-serif' textLength="17" lengthAdjust="spacingAndGlyphs">−</text>
<text x="97.8" y="2.6" font-size="35" font-style="normal" font-family='"DejaVu Sans", "Liberation Sans", sans-serif' >⟨</text>
<text x="111.2" y="0" font-size="34" font-style="italic" font-family='"Liberation Sans", sans-serif' >ε</text>
<text x="125" y="8.4" font-size="23" font-style="italic" font-family='"Liberation Sans", sans-serif' >i</text>
<text x="126.6" y="-12.6" font-size="22.2" font-style="normal" font-family='"Liberation Sans", sans-serif' >L</text>
<text x="138.6" y="2.6" font-size="35" font-style="normal" font-family='"DejaVu Sans", "Liberation Sans", sans-serif' >⟩</text>
<text x="156.7" y="0" font-size="33" font-style="normal" font-family='"Liberation Sans", sans-serif' >|</text>
<text x="177.3" y="0" font-size="33" font-style="normal" font-family='"Liberation Sans", sans-serif' textLength="58.2" lengthAdjust="spacingAndGlyphs">(eV)</text>
</g>
<g transform="translate(33.8,1108.7) rotate(-90)" font-family='"Liberation Sans", sans-serif' fill="#000">
<text x="-4.2" y="0" font-size="33" font-style="normal" font-family='"Liberation Sans", sans-serif' >|</text>
<text x="9.2" y="0" font-size="34" font-style="italic" font-family='"Liberation Sans", sans-serif' >ε</text>
<text x="23.2" y="8.4" font-size="23" font-style="italic" font-family='"Liberation Sans", sans-serif' >i</text>
<text x="25.2" y="-17.8" font-size="22.2" font-style="normal" font-family='"Liberation Sans", sans-serif' >H−<tspan font-style="italic">p</tspan></text>
<text x="74" y="0" font-size="33" font-style="normal" font-family='"Liberation Sans", sans-serif' textLength="17" lengthAdjust="spacingAndGlyphs">−</text>
<text x="97.8" y="2.6" font-size="35" font-style="normal" font-family='"DejaVu Sans", "Liberation Sans", sans-serif' >⟨</text>
<text x="111.2" y="0" font-size="34" font-style="italic" font-family='"Liberation Sans", sans-serif' >ε</text>
<text x="125" y="8.4" font-size="23" font-style="italic" font-family='"Liberation Sans", sans-serif' >i</text>
<text x="126.6" y="-12.6" font-size="22.2" font-style="normal" font-family='"Liberation Sans", sans-serif' >H</text>
<text x="143.1" y="2.6" font-size="35" font-style="normal" font-family='"DejaVu Sans", "Liberation Sans", sans-serif' >⟩</text>
<text x="161.2" y="0" font-size="33" font-style="normal" font-family='"Liberation Sans", sans-serif' >|</text>
<text x="181.8" y="0" font-size="33" font-style="normal" font-family='"Liberation Sans", sans-serif' textLength="58.2" lengthAdjust="spacingAndGlyphs">(eV)</text>
</g>
<g transform="translate(536.6,416) rotate(-90)" font-family='"Liberation Sans", sans-serif' fill="#000">
<text x="-2.2" y="0" font-size="33" font-style="normal" font-family='"Liberation Sans", sans-serif' >|</text>
<text x="10.6" y="0" font-size="33" font-style="italic" font-family='"Liberation Sans", sans-serif' textLength="17.5" lengthAdjust="spacingAndGlyphs">E</text>
<text x="28" y="8.4" font-size="23" font-style="italic" font-family='"Liberation Sans", sans-serif' >i</text>
<text x="30" y="-17.8" font-size="22.2" font-style="normal" font-family='"Liberation Sans", sans-serif' >L+<tspan font-style="italic">p</tspan></text>
<text x="74" y="0" font-size="33" font-style="normal" font-family='"Liberation Sans", sans-serif' textLength="17" lengthAdjust="spacingAndGlyphs">−</text>
<text x="97.8" y="2.6" font-size="35" font-style="normal" font-family='"DejaVu Sans", "Liberation Sans", sans-serif' >⟨</text>
<text x="110.6" y="0" font-size="33" font-style="italic" font-family='"Liberation Sans", sans-serif' textLength="17.5" lengthAdjust="spacingAndGlyphs">E</text>
<text x="127.8" y="8.4" font-size="23" font-style="italic" font-family='"Liberation Sans", sans-serif' >i</text>
<text x="129.4" y="-12.6" font-size="22.2" font-style="normal" font-family='"Liberation Sans", sans-serif' >L</text>
<text x="141.4" y="2.6" font-size="35" font-style="normal" font-family='"DejaVu Sans", "Liberation Sans", sans-serif' >⟩</text>
<text x="159.5" y="0" font-size="33" font-style="normal" font-family='"Liberation Sans", sans-serif' >|</text>
<text x="180.1" y="0" font-size="33" font-style="normal" font-family='"Liberation Sans", sans-serif' textLength="58.2" lengthAdjust="spacingAndGlyphs">(eV)</text>
</g>
<g transform="translate(536.6,1108.7) rotate(-90)" font-family='"Liberation Sans", sans-serif' fill="#000">
<text x="-7" y="0" font-size="33" font-style="normal" font-family='"Liberation Sans", sans-serif' >|</text>
<text x="5.8" y="0" font-size="33" font-style="italic" font-family='"Liberation Sans", sans-serif' textLength="17.5" lengthAdjust="spacingAndGlyphs">E</text>
<text x="23.2" y="8.4" font-size="23" font-style="italic" font-family='"Liberation Sans", sans-serif' >i</text>
<text x="25.2" y="-17.8" font-size="22.2" font-style="normal" font-family='"Liberation Sans", sans-serif' >H−<tspan font-style="italic">p</tspan></text>
<text x="74" y="0" font-size="33" font-style="normal" font-family='"Liberation Sans", sans-serif' textLength="17" lengthAdjust="spacingAndGlyphs">−</text>
<text x="97.8" y="2.6" font-size="35" font-style="normal" font-family='"DejaVu Sans", "Liberation Sans", sans-serif' >⟨</text>
<text x="110.6" y="0" font-size="33" font-style="italic" font-family='"Liberation Sans", sans-serif' textLength="17.5" lengthAdjust="spacingAndGlyphs">E</text>
<text x="127.8" y="8.4" font-size="23" font-style="italic" font-family='"Liberation Sans", sans-serif' >i</text>
<text x="129.4" y="-12.6" font-size="22.2" font-style="normal" font-family='"Liberation Sans", sans-serif' >H</text>
<text x="145.9" y="2.6" font-size="35" font-style="normal" font-family='"DejaVu Sans", "Liberation Sans", sans-serif' >⟩</text>
<text x="164" y="0" font-size="33" font-style="normal" font-family='"Liberation Sans", sans-serif' >|</text>
<text x="184.6" y="0" font-size="33" font-style="normal" font-family='"Liberation Sans", sans-serif' textLength="58.2" lengthAdjust="spacingAndGlyphs">(eV)</text>
</g>
<clipPath id="cc00"><rect x="1151" y="71.44" width="329" height="266.9"/></clipPath>
<line x1="1260.67" y1="71.44" x2="1260.67" y2="338.34" stroke="#777" stroke-width="1" stroke-dasharray="1 1.7"/>
<line x1="1370.33" y1="71.44" x2="1370.33" y2="338.34" stroke="#777" stroke-width="1" stroke-dasharray="1 1.7"/>
<line x1="1151" y1="104.8" x2="1480" y2="104.8" stroke="#777" stroke-width="1" stroke-dasharray="1 1.7"/>
<line x1="1151" y1="204.88" x2="1480" y2="204.88" stroke="#777" stroke-width="1" stroke-dasharray="1 1.7"/>
<line x1="1151" y1="304.96" x2="1480" y2="304.96" stroke="#777" stroke-width="1" stroke-dasharray="1 1.7"/>
<line x1="1151" y1="63.14" x2="1151" y2="71.44" stroke="#000" stroke-width="2" />
<line x1="1151" y1="338.34" x2="1151" y2="346.64" stroke="#000" stroke-width="2" />
<line x1="1172.93" y1="67.04" x2="1172.93" y2="71.44" stroke="#000" stroke-width="1.5" />
<line x1="1172.93" y1="338.34" x2="1172.93" y2="342.74" stroke="#000" stroke-width="1.5" />
<line x1="1194.87" y1="67.04" x2="1194.87" y2="71.44" stroke="#000" stroke-width="1.5" />
<line x1="1194.87" y1="338.34" x2="1194.87" y2="342.74" stroke="#000" stroke-width="1.5" />
<line x1="1216.8" y1="67.04" x2="1216.8" y2="71.44" stroke="#000" stroke-width="1.5" />
<line x1="1216.8" y1="338.34" x2="1216.8" y2="342.74" stroke="#000" stroke-width="1.5" />
<line x1="1238.73" y1="67.04" x2="1238.73" y2="71.44" stroke="#000" stroke-width="1.5" />
<line x1="1238.73" y1="338.34" x2="1238.73" y2="342.74" stroke="#000" stroke-width="1.5" />
<line x1="1260.67" y1="63.14" x2="1260.67" y2="71.44" stroke="#000" stroke-width="2" />
<line x1="1260.67" y1="338.34" x2="1260.67" y2="346.64" stroke="#000" stroke-width="2" />
<line x1="1282.6" y1="67.04" x2="1282.6" y2="71.44" stroke="#000" stroke-width="1.5" />
<line x1="1282.6" y1="338.34" x2="1282.6" y2="342.74" stroke="#000" stroke-width="1.5" />
<line x1="1304.53" y1="67.04" x2="1304.53" y2="71.44" stroke="#000" stroke-width="1.5" />
<line x1="1304.53" y1="338.34" x2="1304.53" y2="342.74" stroke="#000" stroke-width="1.5" />
<line x1="1326.47" y1="67.04" x2="1326.47" y2="71.44" stroke="#000" stroke-width="1.5" />
<line x1="1326.47" y1="338.34" x2="1326.47" y2="342.74" stroke="#000" stroke-width="1.5" />
<line x1="1348.4" y1="67.04" x2="1348.4" y2="71.44" stroke="#000" stroke-width="1.5" />
<line x1="1348.4" y1="338.34" x2="1348.4" y2="342.74" stroke="#000" stroke-width="1.5" />
<line x1="1370.33" y1="63.14" x2="1370.33" y2="71.44" stroke="#000" stroke-width="2" />
<line x1="1370.33" y1="338.34" x2="1370.33" y2="346.64" stroke="#000" stroke-width="2" />
<line x1="1392.27" y1="67.04" x2="1392.27" y2="71.44" stroke="#000" stroke-width="1.5" />
<line x1="1392.27" y1="338.34" x2="1392.27" y2="342.74" stroke="#000" stroke-width="1.5" />
<line x1="1414.2" y1="67.04" x2="1414.2" y2="71.44" stroke="#000" stroke-width="1.5" />
<line x1="1414.2" y1="338.34" x2="1414.2" y2="342.74" stroke="#000" stroke-width="1.5" />
<line x1="1436.13" y1="67.04" x2="1436.13" y2="71.44" stroke="#000" stroke-width="1.5" />
<line x1="1436.13" y1="338.34" x2="1436.13" y2="342.74" stroke="#000" stroke-width="1.5" />
<line x1="1458.07" y1="67.04" x2="1458.07" y2="71.44" stroke="#000" stroke-width="1.5" />
<line x1="1458.07" y1="338.34" x2="1458.07" y2="342.74" stroke="#000" stroke-width="1.5" />
<line x1="1480" y1="63.14" x2="1480" y2="71.44" stroke="#000" stroke-width="2" />
<line x1="1480" y1="338.34" x2="1480" y2="346.64" stroke="#000" stroke-width="2" />
<line x1="1146.6" y1="71.44" x2="1151" y2="71.44" stroke="#000" stroke-width="1.5" />
<line x1="1480" y1="71.44" x2="1484.4" y2="71.44" stroke="#000" stroke-width="1.5" />
<line x1="1142.7" y1="104.8" x2="1151" y2="104.8" stroke="#000" stroke-width="2" />
<line x1="1480" y1="104.8" x2="1488.3" y2="104.8" stroke="#000" stroke-width="2" />
<text x="1125.5" y="116.1" font-size="33" fill="#000" text-anchor="end" font-weight="normal" font-style="normal" font-family='"Liberation Sans", sans-serif' >10<tspan dy="-11.8" font-size="23">0</tspan></text>
<line x1="1146.6" y1="138.16" x2="1151" y2="138.16" stroke="#000" stroke-width="1.5" />
<line x1="1480" y1="138.16" x2="1484.4" y2="138.16" stroke="#000" stroke-width="1.5" />
<line x1="1146.6" y1="171.52" x2="1151" y2="171.52" stroke="#000" stroke-width="1.5" />
<line x1="1480" y1="171.52" x2="1484.4" y2="171.52" stroke="#000" stroke-width="1.5" />
<line x1="1142.7" y1="204.88" x2="1151" y2="204.88" stroke="#000" stroke-width="2" />
<line x1="1480" y1="204.88" x2="1488.3" y2="204.88" stroke="#000" stroke-width="2" />
<text x="1125.5" y="216.18" font-size="33" fill="#000" text-anchor="end" font-weight="normal" font-style="normal" font-family='"Liberation Sans", sans-serif' >10<tspan dy="-11.8" font-size="23">−3</tspan></text>
<line x1="1146.6" y1="238.24" x2="1151" y2="238.24" stroke="#000" stroke-width="1.5" />
<line x1="1480" y1="238.24" x2="1484.4" y2="238.24" stroke="#000" stroke-width="1.5" />
<line x1="1146.6" y1="271.6" x2="1151" y2="271.6" stroke="#000" stroke-width="1.5" />
<line x1="1480" y1="271.6" x2="1484.4" y2="271.6" stroke="#000" stroke-width="1.5" />
<line x1="1142.7" y1="304.96" x2="1151" y2="304.96" stroke="#000" stroke-width="2" />
<line x1="1480" y1="304.96" x2="1488.3" y2="304.96" stroke="#000" stroke-width="2" />
<text x="1125.5" y="316.26" font-size="33" fill="#000" text-anchor="end" font-weight="normal" font-style="normal" font-family='"Liberation Sans", sans-serif' >10<tspan dy="-11.8" font-size="23">−6</tspan></text>
<line x1="1146.6" y1="338.32" x2="1151" y2="338.32" stroke="#000" stroke-width="1.5" />
<line x1="1480" y1="338.32" x2="1484.4" y2="338.32" stroke="#000" stroke-width="1.5" />
<rect x="1151" y="331.74" width="51.32" height="6.6" fill="#000"/>
<rect x="1203.42" y="331.74" width="1.97" height="6.6" fill="#000"/>
<rect x="1206.49" y="331.74" width="7.9" height="6.6" fill="#000"/>
<path d="M1151,104.8 L1151.4,112.2 L1151.8,119.5 L1152.3,126.7 L1152.7,132.5 L1153.1,136.6 L1153.5,139.9 L1154,142.5 L1154.4,144.6 L1154.8,146.5 L1155.2,148.1 L1155.6,149.6 L1156.1,151 L1156.5,152.4 L1157.6,155.5 L1159.2,159.5 L1160.9,163.2 L1162.5,167.2 L1164.2,171.1 L1165.8,174.9 L1167.4,178.6 L1168.4,180.8 L1169.5,183.5 L1170.5,184.6 L1171.5,187.1 L1172.6,188.8 L1173.6,190.5 L1174.7,193.2 L1175.7,195.3 L1177.4,197.3 L1178.4,198.6 L1179.5,200.9 L1180.5,201.4 L1181.8,204.8 L1183,207 L1184.2,209.8 L1185.4,209.6 L1186.6,209.6 L1187.8,211 L1188.8,221.1 L1189.7,230.3 L1191.2,224.3 L1192.2,223.1 L1193.9,233.9 L1195.1,224.8 L1196.3,225.5 L1197.2,235.7 L1198.2,241.2 L1199.9,253.3 L1201.6,247.2 L1203.1,283.4 L1204.2,261.1 L1205.2,235.9 L1206.7,258.1 L1207.7,301.5 L1209.1,255.7 L1210.3,250.1 L1211.5,250.8 L1212.7,256.9 L1213.7,255.7 L1215.7,341.3 L1219.8,341.3 L1221.7,254.5 L1222.9,257.3 L1224.1,254.5 L1226.5,341.3 L1239.1,341.3 L1241.3,254.5 L1243.5,341.3" fill="none" stroke="#0000ff" stroke-width="3" stroke-linejoin="round" clip-path="url(#cc00)"/>
<rect x="1151" y="71.44" width="329" height="266.9" fill="none" stroke="#000" stroke-width="2.0"/>
<clipPath id="cc01"><rect x="1537.2" y="71.44" width="329.5" height="266.9"/></clipPath>
<line x1="1647.03" y1="71.44" x2="1647.03" y2="338.34" stroke="#777" stroke-width="1" stroke-dasharray="1 1.7"/>
<line x1="1756.87" y1="71.44" x2="1756.87" y2="338.34" stroke="#777" stroke-width="1" stroke-dasharray="1 1.7"/>
<line x1="1537.2" y1="104.8" x2="1866.7" y2="104.8" stroke="#777" stroke-width="1" stroke-dasharray="1 1.7"/>
<line x1="1537.2" y1="204.88" x2="1866.7" y2="204.88" stroke="#777" stroke-width="1" stroke-dasharray="1 1.7"/>
<line x1="1537.2" y1="304.96" x2="1866.7" y2="304.96" stroke="#777" stroke-width="1" stroke-dasharray="1 1.7"/>
<line x1="1537.2" y1="63.14" x2="1537.2" y2="71.44" stroke="#000" stroke-width="2" />
<line x1="1537.2" y1="338.34" x2="1537.2" y2="346.64" stroke="#000" stroke-width="2" />
<line x1="1559.17" y1="67.04" x2="1559.17" y2="71.44" stroke="#000" stroke-width="1.5" />
<line x1="1559.17" y1="338.34" x2="1559.17" y2="342.74" stroke="#000" stroke-width="1.5" />
<line x1="1581.13" y1="67.04" x2="1581.13" y2="71.44" stroke="#000" stroke-width="1.5" />
<line x1="1581.13" y1="338.34" x2="1581.13" y2="342.74" stroke="#000" stroke-width="1.5" />
<line x1="1603.1" y1="67.04" x2="1603.1" y2="71.44" stroke="#000" stroke-width="1.5" />
<line x1="1603.1" y1="338.34" x2="1603.1" y2="342.74" stroke="#000" stroke-width="1.5" />
<line x1="1625.07" y1="67.04" x2="1625.07" y2="71.44" stroke="#000" stroke-width="1.5" />
<line x1="1625.07" y1="338.34" x2="1625.07" y2="342.74" stroke="#000" stroke-width="1.5" />
<line x1="1647.03" y1="63.14" x2="1647.03" y2="71.44" stroke="#000" stroke-width="2" />
<line x1="1647.03" y1="338.34" x2="1647.03" y2="346.64" stroke="#000" stroke-width="2" />
<line x1="1669" y1="67.04" x2="1669" y2="71.44" stroke="#000" stroke-width="1.5" />
<line x1="1669" y1="338.34" x2="1669" y2="342.74" stroke="#000" stroke-width="1.5" />
<line x1="1690.97" y1="67.04" x2="1690.97" y2="71.44" stroke="#000" stroke-width="1.5" />
<line x1="1690.97" y1="338.34" x2="1690.97" y2="342.74" stroke="#000" stroke-width="1.5" />
<line x1="1712.93" y1="67.04" x2="1712.93" y2="71.44" stroke="#000" stroke-width="1.5" />
<line x1="1712.93" y1="338.34" x2="1712.93" y2="342.74" stroke="#000" stroke-width="1.5" />
<line x1="1734.9" y1="67.04" x2="1734.9" y2="71.44" stroke="#000" stroke-width="1.5" />
<line x1="1734.9" y1="338.34" x2="1734.9" y2="342.74" stroke="#000" stroke-width="1.5" />
<line x1="1756.87" y1="63.14" x2="1756.87" y2="71.44" stroke="#000" stroke-width="2" />
<line x1="1756.87" y1="338.34" x2="1756.87" y2="346.64" stroke="#000" stroke-width="2" />
<line x1="1778.83" y1="67.04" x2="1778.83" y2="71.44" stroke="#000" stroke-width="1.5" />
<line x1="1778.83" y1="338.34" x2="1778.83" y2="342.74" stroke="#000" stroke-width="1.5" />
<line x1="1800.8" y1="67.04" x2="1800.8" y2="71.44" stroke="#000" stroke-width="1.5" />
<line x1="1800.8" y1="338.34" x2="1800.8" y2="342.74" stroke="#000" stroke-width="1.5" />
<line x1="1822.77" y1="67.04" x2="1822.77" y2="71.44" stroke="#000" stroke-width="1.5" />
<line x1="1822.77" y1="338.34" x2="1822.77" y2="342.74" stroke="#000" stroke-width="1.5" />
<line x1="1844.73" y1="67.04" x2="1844.73" y2="71.44" stroke="#000" stroke-width="1.5" />
<line x1="1844.73" y1="338.34" x2="1844.73" y2="342.74" stroke="#000" stroke-width="1.5" />
<line x1="1866.7" y1="63.14" x2="1866.7" y2="71.44" stroke="#000" stroke-width="2" />
<line x1="1866.7" y1="338.34" x2="1866.7" y2="346.64" stroke="#000" stroke-width="2" />
<line x1="1532.8" y1="71.44" x2="1537.2" y2="71.44" stroke="#000" stroke-width="1.5" />
<line x1="1866.7" y1="71.44" x2="1871.1" y2="71.44" stroke="#000" stroke-width="1.5" />
<line x1="1528.9" y1="104.8" x2="1537.2" y2="104.8" stroke="#000" stroke-width="2" />
<line x1="1866.7" y1="104.8" x2="1875" y2="104.8" stroke="#000" stroke-width="2" />
<line x1="1532.8" y1="138.16" x2="1537.2" y2="138.16" stroke="#000" stroke-width="1.5" />
<line x1="1866.7" y1="138.16" x2="1871.1" y2="138.16" stroke="#000" stroke-width="1.5" />
<line x1="1532.8" y1="171.52" x2="1537.2" y2="171.52" stroke="#000" stroke-width="1.5" />
<line x1="1866.7" y1="171.52" x2="1871.1" y2="171.52" stroke="#000" stroke-width="1.5" />
<line x1="1528.9" y1="204.88" x2="1537.2" y2="204.88" stroke="#000" stroke-width="2" />
<line x1="1866.7" y1="204.88" x2="1875" y2="204.88" stroke="#000" stroke-width="2" />
<line x1="1532.8" y1="238.24" x2="1537.2" y2="238.24" stroke="#000" stroke-width="1.5" />
<line x1="1866.7" y1="238.24" x2="1871.1" y2="238.24" stroke="#000" stroke-width="1.5" />
<line x1="1532.8" y1="271.6" x2="1537.2" y2="271.6" stroke="#000" stroke-width="1.5" />
<line x1="1866.7" y1="271.6" x2="1871.1" y2="271.6" stroke="#000" stroke-width="1.5" />
<line x1="1528.9" y1="304.96" x2="1537.2" y2="304.96" stroke="#000" stroke-width="2" />
<line x1="1866.7" y1="304.96" x2="1875" y2="304.96" stroke="#000" stroke-width="2" />
<line x1="1532.8" y1="338.32" x2="1537.2" y2="338.32" stroke="#000" stroke-width="1.5" />
<line x1="1866.7" y1="338.32" x2="1871.1" y2="338.32" stroke="#000" stroke-width="1.5" />
<rect x="1537.2" y="331.74" width="81.94" height="6.6" fill="#000"/>
<rect x="1620.23" y="331.74" width="1.76" height="6.6" fill="#000"/>
<rect x="1623.31" y="331.74" width="23.72" height="6.6" fill="#000"/>
<rect x="1648.13" y="331.74" width="3.29" height="6.6" fill="#000"/>
<rect x="1652.74" y="331.74" width="1.54" height="6.6" fill="#000"/>
<rect x="1656.92" y="331.74" width="5.49" height="6.6" fill="#000"/>
<rect x="1669" y="331.74" width="4.39" height="6.6" fill="#000"/>
<rect x="1677.79" y="331.74" width="2.2" height="6.6" fill="#000"/>
<rect x="1686.57" y="331.74" width="2.2" height="6.6" fill="#000"/>
<path d="M1537.2,104.8 L1537.6,106 L1538,109.2 L1538.5,118.9 L1538.9,130.5 L1539.3,136.8 L1539.7,140.8 L1540.2,144.1 L1540.6,146.8 L1541,149.2 L1541.4,151.2 L1541.8,153.1 L1542.3,154.9 L1542.7,156.5 L1543.8,160.1 L1545.4,164.5 L1547.1,168.3 L1548.7,171.6 L1550.4,174.5 L1552,177.2 L1553.7,179.6 L1555.3,183.4 L1556.1,185.7 L1557.3,186.3 L1558.5,188.1 L1559.5,186.9 L1560.5,187.4 L1561.5,188.2 L1562.5,190.7 L1563.6,193.1 L1564.6,194.1 L1565.8,196.4 L1567,195.9 L1568.2,196.5 L1569.5,198.1 L1570.7,198.9 L1571.9,200.1 L1573.1,203.9 L1574.3,207.4 L1575.4,207.5 L1576.4,208 L1577.5,208.6 L1578.4,206 L1579.4,205 L1580.4,205 L1581.6,207.1 L1582.8,211.1 L1584,213.4 L1585.2,216.6 L1586.4,217 L1587.6,212.6 L1588.9,214.6 L1589.9,217.9 L1591,220.8 L1592,220.7 L1593.1,223.9 L1594.1,216.3 L1595.2,223 L1596.3,221.2 L1597.3,219.5 L1598.6,226.3 L1599.8,225.5 L1601,227.2 L1602.2,223.8 L1603.4,226.2 L1604.6,222.6 L1605.8,227.9 L1607,234.4 L1608.3,237.6 L1609.5,231.1 L1610.7,235.2 L1611.7,240.7 L1612.7,237.3 L1613.7,237.1 L1614.7,232.8 L1615.7,230.9 L1616.7,236.4 L1617.7,246.2 L1618.7,252.5 L1619.7,259.3 L1620.6,253.8 L1621.6,242.4 L1622.8,255.3 L1624,276.2 L1625.2,263.4 L1626.4,260.5 L1627.7,243.6 L1628.9,240.9 L1630.1,236.9 L1631.3,240 L1632.5,248.9 L1633.7,243.6 L1634.9,243.9 L1636.1,238.2 L1637.4,242.4 L1638.6,240.1 L1639.8,252.3 L1641,259.3 L1642,266.2 L1642.9,258.6 L1643.9,256.9 L1644.9,258.1 L1645.8,248.4 L1647.1,252.2 L1648.3,260.5 L1649.2,277.7 L1650.2,284.6 L1651.9,260.5 L1654.3,341.3 L1656,341.3 L1658.5,260.5 L1659.5,267.5 L1660.6,259.8 L1661.6,260.5 L1664,341.3 L1666.5,341.3 L1670.1,260.5 L1671.3,268.8 L1672.5,259.3 L1673.7,254.7 L1674.9,260.5 L1675.9,267.3 L1676.9,294.3 L1678.6,260.5 L1681.7,341.3 L1684.2,341.3 L1687.1,260.5 L1688.3,260.2 L1689.5,282.2 L1690.5,274.6 L1691.4,260.5 L1694.3,341.3" fill="none" stroke="#ff0000" stroke-width="3" stroke-linejoin="round" clip-path="url(#cc01)"/>
<rect x="1537.2" y="71.44" width="329.5" height="266.9" fill="none" stroke="#000" stroke-width="2.0"/>
<text x="1172.2" y="117.94" font-size="32.2" fill="#000" text-anchor="start" font-weight="bold" font-style="normal" font-family='"Liberation Sans", sans-serif' >One-MO</text>
<text x="1410.2" y="146.74" font-size="24" fill="#000" text-anchor="middle" font-weight="normal" font-style="normal" font-family='"Liberation Sans", sans-serif' >Only</text>
<text x="1410.2" y="177.14" font-size="24" fill="#000" text-anchor="middle" font-weight="normal" font-style="normal" font-family='"Liberation Sans", sans-serif' >HOMO</text>
<text x="1795.9" y="146.74" font-size="24" fill="#000" text-anchor="middle" font-weight="normal" font-style="normal" font-family='"Liberation Sans", sans-serif' >Only</text>
<text x="1795.9" y="177.14" font-size="24" fill="#000" text-anchor="middle" font-weight="normal" font-style="normal" font-family='"Liberation Sans", sans-serif' >LUMO</text>
<clipPath id="cc10"><rect x="1151" y="355.12" width="329" height="266.9"/></clipPath>
<line x1="1260.67" y1="355.12" x2="1260.67" y2="622.02" stroke="#777" stroke-width="1" stroke-dasharray="1 1.7"/>
<line x1="1370.33" y1="355.12" x2="1370.33" y2="622.02" stroke="#777" stroke-width="1" stroke-dasharray="1 1.7"/>
<line x1="1151" y1="388.48" x2="1480" y2="388.48" stroke="#777" stroke-width="1" stroke-dasharray="1 1.7"/>
<line x1="1151" y1="488.56" x2="1480" y2="488.56" stroke="#777" stroke-width="1" stroke-dasharray="1 1.7"/>
<line x1="1151" y1="588.64" x2="1480" y2="588.64" stroke="#777" stroke-width="1" stroke-dasharray="1 1.7"/>
<line x1="1151" y1="346.82" x2="1151" y2="355.12" stroke="#000" stroke-width="2" />
<line x1="1151" y1="622.02" x2="1151" y2="630.32" stroke="#000" stroke-width="2" />
<line x1="1172.93" y1="350.72" x2="1172.93" y2="355.12" stroke="#000" stroke-width="1.5" />
<line x1="1172.93" y1="622.02" x2="1172.93" y2="626.42" stroke="#000" stroke-width="1.5" />
<line x1="1194.87" y1="350.72" x2="1194.87" y2="355.12" stroke="#000" stroke-width="1.5" />
<line x1="1194.87" y1="622.02" x2="1194.87" y2="626.42" stroke="#000" stroke-width="1.5" />
<line x1="1216.8" y1="350.72" x2="1216.8" y2="355.12" stroke="#000" stroke-width="1.5" />
<line x1="1216.8" y1="622.02" x2="1216.8" y2="626.42" stroke="#000" stroke-width="1.5" />
<line x1="1238.73" y1="350.72" x2="1238.73" y2="355.12" stroke="#000" stroke-width="1.5" />
<line x1="1238.73" y1="622.02" x2="1238.73" y2="626.42" stroke="#000" stroke-width="1.5" />
<line x1="1260.67" y1="346.82" x2="1260.67" y2="355.12" stroke="#000" stroke-width="2" />
<line x1="1260.67" y1="622.02" x2="1260.67" y2="630.32" stroke="#000" stroke-width="2" />
<line x1="1282.6" y1="350.72" x2="1282.6" y2="355.12" stroke="#000" stroke-width="1.5" />
<line x1="1282.6" y1="622.02" x2="1282.6" y2="626.42" stroke="#000" stroke-width="1.5" />
<line x1="1304.53" y1="350.72" x2="1304.53" y2="355.12" stroke="#000" stroke-width="1.5" />
<line x1="1304.53" y1="622.02" x2="1304.53" y2="626.42" stroke="#000" stroke-width="1.5" />
<line x1="1326.47" y1="350.72" x2="1326.47" y2="355.12" stroke="#000" stroke-width="1.5" />
<line x1="1326.47" y1="622.02" x2="1326.47" y2="626.42" stroke="#000" stroke-width="1.5" />
<line x1="1348.4" y1="350.72" x2="1348.4" y2="355.12" stroke="#000" stroke-width="1.5" />
<line x1="1348.4" y1="622.02" x2="1348.4" y2="626.42" stroke="#000" stroke-width="1.5" />
<line x1="1370.33" y1="346.82" x2="1370.33" y2="355.12" stroke="#000" stroke-width="2" />
<line x1="1370.33" y1="622.02" x2="1370.33" y2="630.32" stroke="#000" stroke-width="2" />
<line x1="1392.27" y1="350.72" x2="1392.27" y2="355.12" stroke="#000" stroke-width="1.5" />
<line x1="1392.27" y1="622.02" x2="1392.27" y2="626.42" stroke="#000" stroke-width="1.5" />
<line x1="1414.2" y1="350.72" x2="1414.2" y2="355.12" stroke="#000" stroke-width="1.5" />
<line x1="1414.2" y1="622.02" x2="1414.2" y2="626.42" stroke="#000" stroke-width="1.5" />
<line x1="1436.13" y1="350.72" x2="1436.13" y2="355.12" stroke="#000" stroke-width="1.5" />
<line x1="1436.13" y1="622.02" x2="1436.13" y2="626.42" stroke="#000" stroke-width="1.5" />
<line x1="1458.07" y1="350.72" x2="1458.07" y2="355.12" stroke="#000" stroke-width="1.5" />
<line x1="1458.07" y1="622.02" x2="1458.07" y2="626.42" stroke="#000" stroke-width="1.5" />
<line x1="1480" y1="346.82" x2="1480" y2="355.12" stroke="#000" stroke-width="2" />
<line x1="1480" y1="622.02" x2="1480" y2="630.32" stroke="#000" stroke-width="2" />
<line x1="1146.6" y1="355.12" x2="1151" y2="355.12" stroke="#000" stroke-width="1.5" />
<line x1="1480" y1="355.12" x2="1484.4" y2="355.12" stroke="#000" stroke-width="1.5" />
<line x1="1142.7" y1="388.48" x2="1151" y2="388.48" stroke="#000" stroke-width="2" />
<line x1="1480" y1="388.48" x2="1488.3" y2="388.48" stroke="#000" stroke-width="2" />
<text x="1125.5" y="399.78" font-size="33" fill="#000" text-anchor="end" font-weight="normal" font-style="normal" font-family='"Liberation Sans", sans-serif' >10<tspan dy="-11.8" font-size="23">0</tspan></text>
<line x1="1146.6" y1="421.84" x2="1151" y2="421.84" stroke="#000" stroke-width="1.5" />
<line x1="1480" y1="421.84" x2="1484.4" y2="421.84" stroke="#000" stroke-width="1.5" />
<line x1="1146.6" y1="455.2" x2="1151" y2="455.2" stroke="#000" stroke-width="1.5" />
<line x1="1480" y1="455.2" x2="1484.4" y2="455.2" stroke="#000" stroke-width="1.5" />
<line x1="1142.7" y1="488.56" x2="1151" y2="488.56" stroke="#000" stroke-width="2" />
<line x1="1480" y1="488.56" x2="1488.3" y2="488.56" stroke="#000" stroke-width="2" />
<text x="1125.5" y="499.86" font-size="33" fill="#000" text-anchor="end" font-weight="normal" font-style="normal" font-family='"Liberation Sans", sans-serif' >10<tspan dy="-11.8" font-size="23">−3</tspan></text>
<line x1="1146.6" y1="521.92" x2="1151" y2="521.92" stroke="#000" stroke-width="1.5" />
<line x1="1480" y1="521.92" x2="1484.4" y2="521.92" stroke="#000" stroke-width="1.5" />
<line x1="1146.6" y1="555.28" x2="1151" y2="555.28" stroke="#000" stroke-width="1.5" />
<line x1="1480" y1="555.28" x2="1484.4" y2="555.28" stroke="#000" stroke-width="1.5" />
<line x1="1142.7" y1="588.64" x2="1151" y2="588.64" stroke="#000" stroke-width="2" />
<line x1="1480" y1="588.64" x2="1488.3" y2="588.64" stroke="#000" stroke-width="2" />
<text x="1125.5" y="599.94" font-size="33" fill="#000" text-anchor="end" font-weight="normal" font-style="normal" font-family='"Liberation Sans", sans-serif' >10<tspan dy="-11.8" font-size="23">−6</tspan></text>
<line x1="1146.6" y1="622" x2="1151" y2="622" stroke="#000" stroke-width="1.5" />
<line x1="1480" y1="622" x2="1484.4" y2="622" stroke="#000" stroke-width="1.5" />
<rect x="1151" y="615.42" width="72.38" height="6.6" fill="#000"/>
<path d="M1151,385.1 L1151.4,394.6 L1151.8,404.2 L1152.3,413.7 L1152.7,420 L1153.1,423.3 L1153.5,426.1 L1154,428.4 L1154.4,430.3 L1154.8,432 L1155.2,433.5 L1155.6,434.8 L1156.1,436.1 L1156.5,437.5 L1157.6,440.7 L1159.2,444.8 L1160.9,448.4 L1162.5,451.9 L1164.2,455.1 L1165.8,458.3 L1167.4,461.6 L1169.1,464.9 L1170.7,468.1 L1172.1,470.8 L1173.1,473.3 L1174.1,474.4 L1175.1,476.2 L1176.1,478.5 L1177.1,480.3 L1178.1,481.7 L1179.3,483.3 L1180.5,484.2 L1181.8,485.3 L1183,487.5 L1184.2,489.6 L1185.4,490.1 L1186.5,494.2 L1187.6,498.4 L1188.7,499.7 L1189.7,504.6 L1190.9,500.9 L1192,502.4 L1193.1,498.6 L1194.6,511.8 L1195.7,512.6 L1196.7,514.9 L1197.8,514.9 L1198.8,517.7 L1199.9,520.3 L1201.6,519.1 L1202.6,524.8 L1203.5,531.1 L1204.6,529.5 L1205.6,531.1 L1206.7,529.9 L1208.4,525.8 L1210.1,545.6 L1211.1,537.5 L1212,532.3 L1213.2,540 L1214.4,552.9 L1216.9,625 L1219.3,554.1 L1221.2,625 L1222.4,545.6 L1224.1,545.6 L1226.1,625 L1229,540.8 L1231.4,625 L1233.1,554.1 L1235,625 L1239.4,625 L1241.3,554.1 L1243.5,625" fill="none" stroke="#0000ff" stroke-width="3" stroke-linejoin="round" clip-path="url(#cc10)"/>
<rect x="1151" y="355.12" width="329" height="266.9" fill="none" stroke="#000" stroke-width="2.0"/>
<clipPath id="cc11"><rect x="1537.2" y="355.12" width="329.5" height="266.9"/></clipPath>
<line x1="1647.03" y1="355.12" x2="1647.03" y2="622.02" stroke="#777" stroke-width="1" stroke-dasharray="1 1.7"/>
<line x1="1756.87" y1="355.12" x2="1756.87" y2="622.02" stroke="#777" stroke-width="1" stroke-dasharray="1 1.7"/>
<line x1="1537.2" y1="388.48" x2="1866.7" y2="388.48" stroke="#777" stroke-width="1" stroke-dasharray="1 1.7"/>
<line x1="1537.2" y1="488.56" x2="1866.7" y2="488.56" stroke="#777" stroke-width="1" stroke-dasharray="1 1.7"/>
<line x1="1537.2" y1="588.64" x2="1866.7" y2="588.64" stroke="#777" stroke-width="1" stroke-dasharray="1 1.7"/>
<line x1="1537.2" y1="346.82" x2="1537.2" y2="355.12" stroke="#000" stroke-width="2" />
<line x1="1537.2" y1="622.02" x2="1537.2" y2="630.32" stroke="#000" stroke-width="2" />
<line x1="1559.17" y1="350.72" x2="1559.17" y2="355.12" stroke="#000" stroke-width="1.5" />
<line x1="1559.17" y1="622.02" x2="1559.17" y2="626.42" stroke="#000" stroke-width="1.5" />
<line x1="1581.13" y1="350.72" x2="1581.13" y2="355.12" stroke="#000" stroke-width="1.5" />
<line x1="1581.13" y1="622.02" x2="1581.13" y2="626.42" stroke="#000" stroke-width="1.5" />
<line x1="1603.1" y1="350.72" x2="1603.1" y2="355.12" stroke="#000" stroke-width="1.5" />
<line x1="1603.1" y1="622.02" x2="1603.1" y2="626.42" stroke="#000" stroke-width="1.5" />
<line x1="1625.07" y1="350.72" x2="1625.07" y2="355.12" stroke="#000" stroke-width="1.5" />
<line x1="1625.07" y1="622.02" x2="1625.07" y2="626.42" stroke="#000" stroke-width="1.5" />
<line x1="1647.03" y1="346.82" x2="1647.03" y2="355.12" stroke="#000" stroke-width="2" />
<line x1="1647.03" y1="622.02" x2="1647.03" y2="630.32" stroke="#000" stroke-width="2" />
<line x1="1669" y1="350.72" x2="1669" y2="355.12" stroke="#000" stroke-width="1.5" />
<line x1="1669" y1="622.02" x2="1669" y2="626.42" stroke="#000" stroke-width="1.5" />
<line x1="1690.97" y1="350.72" x2="1690.97" y2="355.12" stroke="#000" stroke-width="1.5" />
<line x1="1690.97" y1="622.02" x2="1690.97" y2="626.42" stroke="#000" stroke-width="1.5" />
<line x1="1712.93" y1="350.72" x2="1712.93" y2="355.12" stroke="#000" stroke-width="1.5" />
<line x1="1712.93" y1="622.02" x2="1712.93" y2="626.42" stroke="#000" stroke-width="1.5" />
<line x1="1734.9" y1="350.72" x2="1734.9" y2="355.12" stroke="#000" stroke-width="1.5" />
<line x1="1734.9" y1="622.02" x2="1734.9" y2="626.42" stroke="#000" stroke-width="1.5" />
<line x1="1756.87" y1="346.82" x2="1756.87" y2="355.12" stroke="#000" stroke-width="2" />
<line x1="1756.87" y1="622.02" x2="1756.87" y2="630.32" stroke="#000" stroke-width="2" />
<line x1="1778.83" y1="350.72" x2="1778.83" y2="355.12" stroke="#000" stroke-width="1.5" />
<line x1="1778.83" y1="622.02" x2="1778.83" y2="626.42" stroke="#000" stroke-width="1.5" />
<line x1="1800.8" y1="350.72" x2="1800.8" y2="355.12" stroke="#000" stroke-width="1.5" />
<line x1="1800.8" y1="622.02" x2="1800.8" y2="626.42" stroke="#000" stroke-width="1.5" />
<line x1="1822.77" y1="350.72" x2="1822.77" y2="355.12" stroke="#000" stroke-width="1.5" />
<line x1="1822.77" y1="622.02" x2="1822.77" y2="626.42" stroke="#000" stroke-width="1.5" />
<line x1="1844.73" y1="350.72" x2="1844.73" y2="355.12" stroke="#000" stroke-width="1.5" />
<line x1="1844.73" y1="622.02" x2="1844.73" y2="626.42" stroke="#000" stroke-width="1.5" />
<line x1="1866.7" y1="346.82" x2="1866.7" y2="355.12" stroke="#000" stroke-width="2" />
<line x1="1866.7" y1="622.02" x2="1866.7" y2="630.32" stroke="#000" stroke-width="2" />
<line x1="1532.8" y1="355.12" x2="1537.2" y2="355.12" stroke="#000" stroke-width="1.5" />
<line x1="1866.7" y1="355.12" x2="1871.1" y2="355.12" stroke="#000" stroke-width="1.5" />
<line x1="1528.9" y1="388.48" x2="1537.2" y2="388.48" stroke="#000" stroke-width="2" />
<line x1="1866.7" y1="388.48" x2="1875" y2="388.48" stroke="#000" stroke-width="2" />
<line x1="1532.8" y1="421.84" x2="1537.2" y2="421.84" stroke="#000" stroke-width="1.5" />
<line x1="1866.7" y1="421.84" x2="1871.1" y2="421.84" stroke="#000" stroke-width="1.5" />
<line x1="1532.8" y1="455.2" x2="1537.2" y2="455.2" stroke="#000" stroke-width="1.5" />
<line x1="1866.7" y1="455.2" x2="1871.1" y2="455.2" stroke="#000" stroke-width="1.5" />
<line x1="1528.9" y1="488.56" x2="1537.2" y2="488.56" stroke="#000" stroke-width="2" />
<line x1="1866.7" y1="488.56" x2="1875" y2="488.56" stroke="#000" stroke-width="2" />
<line x1="1532.8" y1="521.92" x2="1537.2" y2="521.92" stroke="#000" stroke-width="1.5" />
<line x1="1866.7" y1="521.92" x2="1871.1" y2="521.92" stroke="#000" stroke-width="1.5" />
<line x1="1532.8" y1="555.28" x2="1537.2" y2="555.28" stroke="#000" stroke-width="1.5" />
<line x1="1866.7" y1="555.28" x2="1871.1" y2="555.28" stroke="#000" stroke-width="1.5" />
<line x1="1528.9" y1="588.64" x2="1537.2" y2="588.64" stroke="#000" stroke-width="2" />
<line x1="1866.7" y1="588.64" x2="1875" y2="588.64" stroke="#000" stroke-width="2" />
<line x1="1532.8" y1="622" x2="1537.2" y2="622" stroke="#000" stroke-width="1.5" />
<line x1="1866.7" y1="622" x2="1871.1" y2="622" stroke="#000" stroke-width="1.5" />
<rect x="1537.2" y="615.42" width="155.96" height="6.6" fill="#000"/>
<rect x="1694.26" y="615.42" width="3.29" height="6.6" fill="#000"/>
<rect x="1704.15" y="615.42" width="4.39" height="6.6" fill="#000"/>
<rect x="1710.74" y="615.42" width="6.59" height="6.6" fill="#000"/>
<path d="M1537.2,388.5 L1537.6,388.6 L1538,389.6 L1538.5,401.6 L1538.9,417.2 L1539.3,424.2 L1539.7,427.8 L1540.2,430.7 L1540.6,433.2 L1541,435.2 L1541.4,436.9 L1541.8,438.5 L1542.3,440 L1542.7,441.5 L1543.8,445.4 L1545.4,450.3 L1547.1,454.1 L1548.7,457.1 L1550.4,459.8 L1552,462.3 L1553.7,464.7 L1555.3,466.9 L1556.1,467.9 L1557.3,468.9 L1558.5,471.2 L1559.8,471.7 L1561,473.2 L1562.2,473.9 L1563.4,475.6 L1564.6,477.5 L1565.8,478 L1566.9,480.1 L1567.9,479.7 L1568.9,482.7 L1570,484.2 L1571,483.4 L1572.1,483.6 L1573.1,486.5 L1574.1,488.1 L1575,485.6 L1576,485.3 L1577.1,485.5 L1578.1,488 L1579.2,490.1 L1580.4,490.6 L1581.6,494.5 L1582.8,494.9 L1584,493.1 L1585.2,494.8 L1586.4,496.5 L1587.6,497.3 L1588.9,500.4 L1590.1,499.4 L1591.3,497.9 L1592.5,499.8 L1593.6,502.3 L1594.7,504.5 L1595.8,505.2 L1596.9,508.2 L1597.8,506.5 L1598.8,503.7 L1599.8,503.4 L1601,504.9 L1602.2,505.4 L1603.4,510.6 L1604.6,508.6 L1605.8,507 L1607,505.3 L1608.3,513.7 L1609.5,518.5 L1610.7,516.7 L1611.9,517.2 L1613.1,517.7 L1614.3,511.8 L1615.5,511.3 L1616.7,523.8 L1618,520.3 L1619.2,525.1 L1620.4,519.7 L1621.6,515.5 L1622.8,515.8 L1624,528.5 L1625.2,524.3 L1626.4,533.6 L1627.4,532.4 L1628.4,523.6 L1629.4,523.9 L1630.4,528 L1631.5,520.7 L1632.5,527.5 L1633.7,536.2 L1634.9,539.6 L1635.9,539.9 L1636.9,531.6 L1637.8,525.1 L1638.9,535.2 L1639.9,527.2 L1641,536 L1642.2,538.7 L1643.4,529.9 L1644.5,536 L1645.6,530.6 L1646.6,533.8 L1647.7,547.1 L1648.8,550.5 L1649.8,539.4 L1650.9,544.5 L1651.9,534.8 L1653.1,536.6 L1654.3,534.5 L1655.5,545.6 L1656.8,540.9 L1658,535.8 L1659.2,533.6 L1660.4,544.5 L1661.6,537.2 L1662.8,540.8 L1666.5,625 L1669.6,545.6 L1670.6,549.4 L1671.6,556.1 L1672.5,547.6 L1673.7,554.5 L1674.9,552.9 L1676.2,555.9 L1677.4,545 L1678.6,550.5 L1679.6,565.2 L1680.7,560.2 L1681.7,562.5 L1682.9,562.7 L1684,550.8 L1685.2,553.6 L1686.3,545.6 L1687.4,560.1 L1688.4,542.6 L1689.5,555.3 L1690.5,547.8 L1691.4,544.1 L1692.4,552.9 L1693.6,570.7 L1694.8,584.2 L1696,564.9 L1697.5,625 L1700.4,551.7 L1702.8,625 L1706,625 L1708.9,561.3 L1710.6,596.3 L1711.6,578.8 L1712.7,567 L1713.7,552.9 L1715,554.2 L1716.2,561.3 L1718.6,625 L1746.5,625 L1748.4,560.6 L1750.9,625" fill="none" stroke="#ff0000" stroke-width="3" stroke-linejoin="round" clip-path="url(#cc11)"/>
<rect x="1537.2" y="355.12" width="329.5" height="266.9" fill="none" stroke="#000" stroke-width="2.0"/>
<text x="1172.2" y="401.62" font-size="32.2" fill="#000" text-anchor="start" font-weight="bold" font-style="normal" font-family='"Liberation Sans", sans-serif' >Two-MOs</text>
<text x="1410.2" y="430.42" font-size="24" fill="#000" text-anchor="middle" font-weight="normal" font-style="normal" font-family='"Liberation Sans", sans-serif' >HOMO</text>
<text x="1410.2" y="460.82" font-size="24" fill="#000" text-anchor="middle" font-weight="normal" font-style="normal" font-family='"Liberation Sans", sans-serif' >to</text>
<text x="1410.2" y="491.22" font-size="24" fill="#000" text-anchor="middle" font-weight="normal" font-style="normal" font-family='"Liberation Sans", sans-serif' >HOMO-1</text>
<text x="1795.9" y="430.42" font-size="24" fill="#000" text-anchor="middle" font-weight="normal" font-style="normal" font-family='"Liberation Sans", sans-serif' >LUMO</text>
<text x="1795.9" y="460.82" font-size="24" fill="#000" text-anchor="middle" font-weight="normal" font-style="normal" font-family='"Liberation Sans", sans-serif' >to</text>
<text x="1795.9" y="491.22" font-size="24" fill="#000" text-anchor="middle" font-weight="normal" font-style="normal" font-family='"Liberation Sans", sans-serif' >LUMO+1</text>
<clipPath id="cc20"><rect x="1151" y="638.8" width="329" height="266.9"/></clipPath>
<line x1="1260.67" y1="638.8" x2="1260.67" y2="905.7" stroke="#777" stroke-width="1" stroke-dasharray="1 1.7"/>
<line x1="1370.33" y1="638.8" x2="1370.33" y2="905.7" stroke="#777" stroke-width="1" stroke-dasharray="1 1.7"/>
<line x1="1151" y1="672.16" x2="1480" y2="672.16" stroke="#777" stroke-width="1" stroke-dasharray="1 1.7"/>
<line x1="1151" y1="772.24" x2="1480" y2="772.24" stroke="#777" stroke-width="1" stroke-dasharray="1 1.7"/>
<line x1="1151" y1="872.32" x2="1480" y2="872.32" stroke="#777" stroke-width="1" stroke-dasharray="1 1.7"/>
<line x1="1151" y1="630.5" x2="1151" y2="638.8" stroke="#000" stroke-width="2" />
<line x1="1151" y1="905.7" x2="1151" y2="914" stroke="#000" stroke-width="2" />
<line x1="1172.93" y1="634.4" x2="1172.93" y2="638.8" stroke="#000" stroke-width="1.5" />
<line x1="1172.93" y1="905.7" x2="1172.93" y2="910.1" stroke="#000" stroke-width="1.5" />
<line x1="1194.87" y1="634.4" x2="1194.87" y2="638.8" stroke="#000" stroke-width="1.5" />
<line x1="1194.87" y1="905.7" x2="1194.87" y2="910.1" stroke="#000" stroke-width="1.5" />
<line x1="1216.8" y1="634.4" x2="1216.8" y2="638.8" stroke="#000" stroke-width="1.5" />
<line x1="1216.8" y1="905.7" x2="1216.8" y2="910.1" stroke="#000" stroke-width="1.5" />
<line x1="1238.73" y1="634.4" x2="1238.73" y2="638.8" stroke="#000" stroke-width="1.5" />
<line x1="1238.73" y1="905.7" x2="1238.73" y2="910.1" stroke="#000" stroke-width="1.5" />
<line x1="1260.67" y1="630.5" x2="1260.67" y2="638.8" stroke="#000" stroke-width="2" />
<line x1="1260.67" y1="905.7" x2="1260.67" y2="914" stroke="#000" stroke-width="2" />
<line x1="1282.6" y1="634.4" x2="1282.6" y2="638.8" stroke="#000" stroke-width="1.5" />
<line x1="1282.6" y1="905.7" x2="1282.6" y2="910.1" stroke="#000" stroke-width="1.5" />
<line x1="1304.53" y1="634.4" x2="1304.53" y2="638.8" stroke="#000" stroke-width="1.5" />
<line x1="1304.53" y1="905.7" x2="1304.53" y2="910.1" stroke="#000" stroke-width="1.5" />
<line x1="1326.47" y1="634.4" x2="1326.47" y2="638.8" stroke="#000" stroke-width="1.5" />
<line x1="1326.47" y1="905.7" x2="1326.47" y2="910.1" stroke="#000" stroke-width="1.5" />
<line x1="1348.4" y1="634.4" x2="1348.4" y2="638.8" stroke="#000" stroke-width="1.5" />
<line x1="1348.4" y1="905.7" x2="1348.4" y2="910.1" stroke="#000" stroke-width="1.5" />
<line x1="1370.33" y1="630.5" x2="1370.33" y2="638.8" stroke="#000" stroke-width="2" />
<line x1="1370.33" y1="905.7" x2="1370.33" y2="914" stroke="#000" stroke-width="2" />
<line x1="1392.27" y1="634.4" x2="1392.27" y2="638.8" stroke="#000" stroke-width="1.5" />
<line x1="1392.27" y1="905.7" x2="1392.27" y2="910.1" stroke="#000" stroke-width="1.5" />
<line x1="1414.2" y1="634.4" x2="1414.2" y2="638.8" stroke="#000" stroke-width="1.5" />
<line x1="1414.2" y1="905.7" x2="1414.2" y2="910.1" stroke="#000" stroke-width="1.5" />
<line x1="1436.13" y1="634.4" x2="1436.13" y2="638.8" stroke="#000" stroke-width="1.5" />
<line x1="1436.13" y1="905.7" x2="1436.13" y2="910.1" stroke="#000" stroke-width="1.5" />
<line x1="1458.07" y1="634.4" x2="1458.07" y2="638.8" stroke="#000" stroke-width="1.5" />
<line x1="1458.07" y1="905.7" x2="1458.07" y2="910.1" stroke="#000" stroke-width="1.5" />
<line x1="1480" y1="630.5" x2="1480" y2="638.8" stroke="#000" stroke-width="2" />
<line x1="1480" y1="905.7" x2="1480" y2="914" stroke="#000" stroke-width="2" />
<line x1="1146.6" y1="638.8" x2="1151" y2="638.8" stroke="#000" stroke-width="1.5" />
<line x1="1480" y1="638.8" x2="1484.4" y2="638.8" stroke="#000" stroke-width="1.5" />
<line x1="1142.7" y1="672.16" x2="1151" y2="672.16" stroke="#000" stroke-width="2" />
<line x1="1480" y1="672.16" x2="1488.3" y2="672.16" stroke="#000" stroke-width="2" />
<text x="1125.5" y="683.46" font-size="33" fill="#000" text-anchor="end" font-weight="normal" font-style="normal" font-family='"Liberation Sans", sans-serif' >10<tspan dy="-11.8" font-size="23">0</tspan></text>
<line x1="1146.6" y1="705.52" x2="1151" y2="705.52" stroke="#000" stroke-width="1.5" />
<line x1="1480" y1="705.52" x2="1484.4" y2="705.52" stroke="#000" stroke-width="1.5" />
<line x1="1146.6" y1="738.88" x2="1151" y2="738.88" stroke="#000" stroke-width="1.5" />
<line x1="1480" y1="738.88" x2="1484.4" y2="738.88" stroke="#000" stroke-width="1.5" />
<line x1="1142.7" y1="772.24" x2="1151" y2="772.24" stroke="#000" stroke-width="2" />
<line x1="1480" y1="772.24" x2="1488.3" y2="772.24" stroke="#000" stroke-width="2" />
<text x="1125.5" y="783.54" font-size="33" fill="#000" text-anchor="end" font-weight="normal" font-style="normal" font-family='"Liberation Sans", sans-serif' >10<tspan dy="-11.8" font-size="23">−3</tspan></text>
<line x1="1146.6" y1="805.6" x2="1151" y2="805.6" stroke="#000" stroke-width="1.5" />
<line x1="1480" y1="805.6" x2="1484.4" y2="805.6" stroke="#000" stroke-width="1.5" />
<line x1="1146.6" y1="838.96" x2="1151" y2="838.96" stroke="#000" stroke-width="1.5" />
<line x1="1480" y1="838.96" x2="1484.4" y2="838.96" stroke="#000" stroke-width="1.5" />
<line x1="1142.7" y1="872.32" x2="1151" y2="872.32" stroke="#000" stroke-width="2" />
<line x1="1480" y1="872.32" x2="1488.3" y2="872.32" stroke="#000" stroke-width="2" />
<text x="1125.5" y="883.62" font-size="33" fill="#000" text-anchor="end" font-weight="normal" font-style="normal" font-family='"Liberation Sans", sans-serif' >10<tspan dy="-11.8" font-size="23">−6</tspan></text>
<line x1="1146.6" y1="905.68" x2="1151" y2="905.68" stroke="#000" stroke-width="1.5" />
<line x1="1480" y1="905.68" x2="1484.4" y2="905.68" stroke="#000" stroke-width="1.5" />
<rect x="1151" y="899.1" width="137.74" height="6.6" fill="#000"/>
<rect x="1289.84" y="899.1" width="91.46" height="6.6" fill="#000"/>
<path d="M1151,667.8 L1151.4,677.3 L1151.8,687.5 L1152.3,698.1 L1152.7,705.2 L1153.1,708.9 L1153.5,712 L1154,714.6 L1154.4,716.9 L1154.8,718.8 L1155.2,720.5 L1155.6,722 L1156.1,723.6 L1156.5,725.1 L1157.6,728.8 L1159.2,733.5 L1160.9,737.6 L1162.5,741.5 L1164.2,745.2 L1165.8,748.3 L1167.4,751 L1169.1,753.3 L1170.7,755.4 L1172.4,757.5 L1174,759.6 L1175.7,761.5 L1177.3,763.5 L1179,765.3 L1180.6,767.2 L1182.3,769.1 L1183.9,770.9 L1185.5,772.7 L1187.2,774.5 L1188.8,776.2 L1190.2,777.6 L1191.3,779.2 L1192.4,780.5 L1193.5,781 L1194.6,781.7 L1195.7,783.3 L1196.8,784.3 L1197.9,786.3 L1199,786.5 L1200.1,786.4 L1201.2,787.7 L1202.3,789.7 L1203.4,789.4 L1204.5,791.9 L1205.5,789.7 L1206.6,790.2 L1207.6,793.3 L1208.7,791.9 L1209.8,795 L1210.8,793.3 L1212,797.7 L1213.2,799.1 L1214.4,800.6 L1215.7,802.7 L1216.9,799.4 L1218.1,799.1 L1219.3,801.3 L1220.5,805.3 L1221.7,808.5 L1222.9,810.2 L1224.1,812.4 L1225.3,811.9 L1226.5,807.8 L1227.8,806 L1229,807 L1230.2,811.8 L1231.4,807.8 L1232.6,812.8 L1233.8,817.5 L1234.8,815.4 L1235.8,811.4 L1237,813.9 L1238.2,823.5 L1239.1,819.6 L1240.1,819.2 L1241.1,818.7 L1242.3,819.9 L1243.5,817.1 L1244.7,818.3 L1245.9,825.9 L1247.1,825.5 L1248.3,821.1 L1249.6,824.5 L1250.8,821.1 L1252,819.5 L1253.2,831.9 L1254.4,830.2 L1255.6,830.8 L1256.8,837.8 L1258,835 L1259.2,833.2 L1260.2,847 L1261.2,847.7 L1262.1,846.9 L1263.1,835 L1264.1,835.6 L1265.3,827.4 L1266.5,827.5 L1267.7,830.8 L1268.9,832.7 L1270.1,834.8 L1271.3,842.2 L1272.6,842.8 L1273.8,844.6 L1275,834.4 L1276.2,831.9 L1277.4,827.1 L1278.6,822.3 L1279.8,834.8 L1281,825.9 L1282,848.7 L1283,852.5 L1284,843.4 L1285,849.3 L1286.1,837.4 L1287.1,838 L1288.3,860.2 L1289.5,892.3 L1290.7,860.6 L1291.9,847.7 L1293.1,865 L1294.3,877.8 L1295.6,850.3 L1296.8,836.8 L1298,835 L1299.2,840.4 L1300.4,855.1 L1301.6,876.6 L1302.8,866.2 L1304,836.6 L1305.2,833.2 L1306.5,838.4 L1307.7,850.2 L1308.9,857.3 L1309.9,864.3 L1310.9,847.7 L1312,834.7 L1313,835.6 L1314,845.6 L1315.1,840.5 L1316.1,854.9 L1317.4,844.2 L1318.6,846.4 L1319.8,842.9 L1321,847.7 L1322.2,854.4 L1323.4,848.4 L1324.6,841.6 L1327,908.7 L1327.6,843.7 L1328.7,908.7 L1329.8,908.7 L1330.9,908.7 L1332,908.7 L1333,860.6 L1334.1,862.8 L1335.2,844.1 L1336.3,908.7 L1337.4,864.9 L1338.5,859.6 L1339.6,908.7 L1340.7,849.6 L1341.8,863.6 L1342.9,840.1 L1344,849.7 L1345.1,859.6 L1346.2,908.7 L1347.3,845.5 L1348.4,863.3 L1349.5,849.6 L1350.6,843.7 L1351.7,849.6 L1352.8,843.7 L1353.9,849.6 L1355,843.7 L1356.1,857.9 L1357.2,908.7 L1358.3,859.6 L1359.4,908.7 L1360.5,855.5 L1361.6,843.7 L1362.7,859.6 L1363.8,908.7 L1364.8,908.7 L1365.9,859.6 L1367,859.6 L1368.1,908.7 L1369.2,863.3 L1370.3,908.7 L1371.4,908.7 L1372.5,908.7 L1373.6,908.7 L1374.7,843.7 L1375.8,843.7 L1376.9,908.7 L1378,908.7 L1379.1,908.7 L1380.2,859.6 L1381.3,908.7 L1382.4,859.6 L1387.6,908.7 L1389.3,859.7 L1391.2,908.7 L1393.6,859.7 L1395.6,908.7 L1397.3,859.7 L1399,874.2 L1400.2,885.4 L1401.4,859.7 L1403.8,908.7 L1422.2,908.7 L1424.4,859.7 L1426.3,908.7 L1441.6,908.7 L1443.8,859.7 L1445.7,908.7" fill="none" stroke="#0000ff" stroke-width="3" stroke-linejoin="round" clip-path="url(#cc20)"/>
<rect x="1151" y="638.8" width="329" height="266.9" fill="none" stroke="#000" stroke-width="2.0"/>
<clipPath id="cc21"><rect x="1537.2" y="638.8" width="329.5" height="266.9"/></clipPath>
<line x1="1647.03" y1="638.8" x2="1647.03" y2="905.7" stroke="#777" stroke-width="1" stroke-dasharray="1 1.7"/>
<line x1="1756.87" y1="638.8" x2="1756.87" y2="905.7" stroke="#777" stroke-width="1" stroke-dasharray="1 1.7"/>
<line x1="1537.2" y1="672.16" x2="1866.7" y2="672.16" stroke="#777" stroke-width="1" stroke-dasharray="1 1.7"/>
<line x1="1537.2" y1="772.24" x2="1866.7" y2="772.24" stroke="#777" stroke-width="1" stroke-dasharray="1 1.7"/>
<line x1="1537.2" y1="872.32" x2="1866.7" y2="872.32" stroke="#777" stroke-width="1" stroke-dasharray="1 1.7"/>
<line x1="1537.2" y1="630.5" x2="1537.2" y2="638.8" stroke="#000" stroke-width="2" />
<line x1="1537.2" y1="905.7" x2="1537.2" y2="914" stroke="#000" stroke-width="2" />
<line x1="1559.17" y1="634.4" x2="1559.17" y2="638.8" stroke="#000" stroke-width="1.5" />
<line x1="1559.17" y1="905.7" x2="1559.17" y2="910.1" stroke="#000" stroke-width="1.5" />
<line x1="1581.13" y1="634.4" x2="1581.13" y2="638.8" stroke="#000" stroke-width="1.5" />
<line x1="1581.13" y1="905.7" x2="1581.13" y2="910.1" stroke="#000" stroke-width="1.5" />
<line x1="1603.1" y1="634.4" x2="1603.1" y2="638.8" stroke="#000" stroke-width="1.5" />
<line x1="1603.1" y1="905.7" x2="1603.1" y2="910.1" stroke="#000" stroke-width="1.5" />
<line x1="1625.07" y1="634.4" x2="1625.07" y2="638.8" stroke="#000" stroke-width="1.5" />
<line x1="1625.07" y1="905.7" x2="1625.07" y2="910.1" stroke="#000" stroke-width="1.5" />
<line x1="1647.03" y1="630.5" x2="1647.03" y2="638.8" stroke="#000" stroke-width="2" />
<line x1="1647.03" y1="905.7" x2="1647.03" y2="914" stroke="#000" stroke-width="2" />
<line x1="1669" y1="634.4" x2="1669" y2="638.8" stroke="#000" stroke-width="1.5" />
<line x1="1669" y1="905.7" x2="1669" y2="910.1" stroke="#000" stroke-width="1.5" />
<line x1="1690.97" y1="634.4" x2="1690.97" y2="638.8" stroke="#000" stroke-width="1.5" />
<line x1="1690.97" y1="905.7" x2="1690.97" y2="910.1" stroke="#000" stroke-width="1.5" />
<line x1="1712.93" y1="634.4" x2="1712.93" y2="638.8" stroke="#000" stroke-width="1.5" />
<line x1="1712.93" y1="905.7" x2="1712.93" y2="910.1" stroke="#000" stroke-width="1.5" />
<line x1="1734.9" y1="634.4" x2="1734.9" y2="638.8" stroke="#000" stroke-width="1.5" />
<line x1="1734.9" y1="905.7" x2="1734.9" y2="910.1" stroke="#000" stroke-width="1.5" />
<line x1="1756.87" y1="630.5" x2="1756.87" y2="638.8" stroke="#000" stroke-width="2" />
<line x1="1756.87" y1="905.7" x2="1756.87" y2="914" stroke="#000" stroke-width="2" />
<line x1="1778.83" y1="634.4" x2="1778.83" y2="638.8" stroke="#000" stroke-width="1.5" />
<line x1="1778.83" y1="905.7" x2="1778.83" y2="910.1" stroke="#000" stroke-width="1.5" />
<line x1="1800.8" y1="634.4" x2="1800.8" y2="638.8" stroke="#000" stroke-width="1.5" />
<line x1="1800.8" y1="905.7" x2="1800.8" y2="910.1" stroke="#000" stroke-width="1.5" />
<line x1="1822.77" y1="634.4" x2="1822.77" y2="638.8" stroke="#000" stroke-width="1.5" />
<line x1="1822.77" y1="905.7" x2="1822.77" y2="910.1" stroke="#000" stroke-width="1.5" />
<line x1="1844.73" y1="634.4" x2="1844.73" y2="638.8" stroke="#000" stroke-width="1.5" />
<line x1="1844.73" y1="905.7" x2="1844.73" y2="910.1" stroke="#000" stroke-width="1.5" />
<line x1="1866.7" y1="630.5" x2="1866.7" y2="638.8" stroke="#000" stroke-width="2" />
<line x1="1866.7" y1="905.7" x2="1866.7" y2="914" stroke="#000" stroke-width="2" />
<line x1="1532.8" y1="638.8" x2="1537.2" y2="638.8" stroke="#000" stroke-width="1.5" />
<line x1="1866.7" y1="638.8" x2="1871.1" y2="638.8" stroke="#000" stroke-width="1.5" />
<line x1="1528.9" y1="672.16" x2="1537.2" y2="672.16" stroke="#000" stroke-width="2" />
<line x1="1866.7" y1="672.16" x2="1875" y2="672.16" stroke="#000" stroke-width="2" />
<line x1="1532.8" y1="705.52" x2="1537.2" y2="705.52" stroke="#000" stroke-width="1.5" />
<line x1="1866.7" y1="705.52" x2="1871.1" y2="705.52" stroke="#000" stroke-width="1.5" />
<line x1="1532.8" y1="738.88" x2="1537.2" y2="738.88" stroke="#000" stroke-width="1.5" />
<line x1="1866.7" y1="738.88" x2="1871.1" y2="738.88" stroke="#000" stroke-width="1.5" />
<line x1="1528.9" y1="772.24" x2="1537.2" y2="772.24" stroke="#000" stroke-width="2" />
<line x1="1866.7" y1="772.24" x2="1875" y2="772.24" stroke="#000" stroke-width="2" />
<line x1="1532.8" y1="805.6" x2="1537.2" y2="805.6" stroke="#000" stroke-width="1.5" />
<line x1="1866.7" y1="805.6" x2="1871.1" y2="805.6" stroke="#000" stroke-width="1.5" />
<line x1="1532.8" y1="838.96" x2="1537.2" y2="838.96" stroke="#000" stroke-width="1.5" />
<line x1="1866.7" y1="838.96" x2="1871.1" y2="838.96" stroke="#000" stroke-width="1.5" />
<line x1="1528.9" y1="872.32" x2="1537.2" y2="872.32" stroke="#000" stroke-width="2" />
<line x1="1866.7" y1="872.32" x2="1875" y2="872.32" stroke="#000" stroke-width="2" />
<line x1="1532.8" y1="905.68" x2="1537.2" y2="905.68" stroke="#000" stroke-width="1.5" />
<line x1="1866.7" y1="905.68" x2="1871.1" y2="905.68" stroke="#000" stroke-width="1.5" />
<rect x="1537.2" y="899.1" width="154.87" height="6.6" fill="#000"/>
<rect x="1693.16" y="899.1" width="2.2" height="6.6" fill="#000"/>
<path d="M1537.2,666.6 L1537.6,664.4 L1538,665.3 L1538.5,681.8 L1538.9,703.1 L1539.3,712 L1539.7,716.2 L1540.2,719.6 L1540.6,722.4 L1541,724.7 L1541.4,726.6 L1541.8,728.3 L1542.3,729.8 L1542.7,731.4 L1543.8,735.5 L1545.4,740.3 L1547.1,744.1 L1548.7,747.2 L1550.4,749.8 L1552,752.1 L1553.7,754.2 L1555.3,756.1 L1557,757.9 L1558.6,759.7 L1560.3,761.3 L1561.9,762.9 L1563.6,764.5 L1565.2,766.2 L1566.9,767.8 L1568.5,769.5 L1570.2,771.1 L1571.8,772.7 L1573.4,774.4 L1575.1,776 L1575.5,776.4 L1576.6,777.9 L1577.7,778 L1578.8,779.8 L1579.9,780.3 L1581,782.5 L1582.1,781.3 L1583.2,782.3 L1584.3,785.7 L1585.4,783.9 L1586.5,787.6 L1587.6,787.3 L1588.9,789.1 L1590.1,788.7 L1591.3,788.1 L1592.5,790.9 L1593.5,791.6 L1594.4,798.3 L1595.4,798.2 L1596.4,796.2 L1597.3,794.5 L1598.6,795.7 L1599.8,797.7 L1601,797.3 L1602.2,800.6 L1603.4,803.9 L1604.6,800.5 L1605.8,806.9 L1607,804.2 L1608,808.3 L1609,809.8 L1610,807.8 L1611,808.7 L1612.1,804.7 L1613.1,805.4 L1614.3,808.5 L1615.5,808 L1616.7,813.9 L1617.7,815.2 L1618.7,809.9 L1619.7,811.4 L1620.6,814.1 L1621.6,821.1 L1622.8,823 L1624,821.1 L1625.2,822.6 L1626.4,814.6 L1627.7,819.9 L1628.9,820.4 L1630.1,818.2 L1631.3,825.9 L1632.5,821.8 L1633.7,824.7 L1634.9,824.5 L1636.1,833.2 L1637.4,830.3 L1638.6,824.7 L1639.5,831.9 L1640.5,839.1 L1641.5,844 L1642.7,828.6 L1643.9,828.3 L1645,837.7 L1646.1,829.3 L1647.2,842.3 L1648.3,845.2 L1649.4,842.3 L1650.5,837.4 L1651.5,834.7 L1652.6,828.3 L1653.6,837.8 L1654.6,854.4 L1655.5,854.9 L1656.8,855.3 L1658,836.1 L1659.2,833.2 L1660.4,840.2 L1661.6,861.6 L1662.8,862.1 L1665.2,908.7 L1668.9,845.2 L1670.6,869.4 L1671.8,859.8 L1673,841.6 L1674.1,854.6 L1675.1,854.8 L1676.2,862.1 L1677.4,865.2 L1678.6,847.7 L1679.8,861.1 L1681,888.7 L1682.2,875.9 L1683.4,852.5 L1684.4,863.5 L1685.4,874.2 L1687.1,846.4 L1688.3,862.5 L1689.5,876.6 L1690.7,863 L1691.9,854.9 L1692.1,860 L1693.2,848.6 L1694.3,858.6 L1695.4,908.7 L1696.5,848.6 L1697.6,842.7 L1698.7,908.7 L1699.8,908.7 L1700.9,908.7 L1702,858.6 L1703,848.6 L1704.1,858.6 L1705.2,858.6 L1706.3,848.6 L1707.4,908.7 L1708.5,858.6 L1709.6,858.6 L1710.7,858.6 L1711.8,858.6 L1712.9,853.3 L1714,853.7 L1715.1,908.7 L1716.2,864.2 L1717.3,842.7 L1718.4,908.7 L1747,908.7 L1748.4,858.5 L1750.4,908.7" fill="none" stroke="#ff0000" stroke-width="3" stroke-linejoin="round" clip-path="url(#cc21)"/>
<rect x="1537.2" y="638.8" width="329.5" height="266.9" fill="none" stroke="#000" stroke-width="2.0"/>
<text x="1172.2" y="685.3" font-size="32.2" fill="#000" text-anchor="start" font-weight="bold" font-style="normal" font-family='"Liberation Sans", sans-serif' >Four-MOs</text>
<text x="1410.2" y="714.1" font-size="24" fill="#000" text-anchor="middle" font-weight="normal" font-style="normal" font-family='"Liberation Sans", sans-serif' >HOMO</text>
<text x="1410.2" y="744.5" font-size="24" fill="#000" text-anchor="middle" font-weight="normal" font-style="normal" font-family='"Liberation Sans", sans-serif' >to</text>
<text x="1410.2" y="774.9" font-size="24" fill="#000" text-anchor="middle" font-weight="normal" font-style="normal" font-family='"Liberation Sans", sans-serif' >HOMO-3</text>
<text x="1795.9" y="714.1" font-size="24" fill="#000" text-anchor="middle" font-weight="normal" font-style="normal" font-family='"Liberation Sans", sans-serif' >LUMO</text>
<text x="1795.9" y="744.5" font-size="24" fill="#000" text-anchor="middle" font-weight="normal" font-style="normal" font-family='"Liberation Sans", sans-serif' >to</text>
<text x="1795.9" y="774.9" font-size="24" fill="#000" text-anchor="middle" font-weight="normal" font-style="normal" font-family='"Liberation Sans", sans-serif' >LUMO+3</text>
<clipPath id="cc30"><rect x="1151" y="922.48" width="329" height="266.9"/></clipPath>
<line x1="1260.67" y1="922.48" x2="1260.67" y2="1189.38" stroke="#777" stroke-width="1" stroke-dasharray="1 1.7"/>
<line x1="1370.33" y1="922.48" x2="1370.33" y2="1189.38" stroke="#777" stroke-width="1" stroke-dasharray="1 1.7"/>
<line x1="1151" y1="955.84" x2="1480" y2="955.84" stroke="#777" stroke-width="1" stroke-dasharray="1 1.7"/>
<line x1="1151" y1="1055.92" x2="1480" y2="1055.92" stroke="#777" stroke-width="1" stroke-dasharray="1 1.7"/>
<line x1="1151" y1="1156" x2="1480" y2="1156" stroke="#777" stroke-width="1" stroke-dasharray="1 1.7"/>
<line x1="1151" y1="914.18" x2="1151" y2="922.48" stroke="#000" stroke-width="2" />
<line x1="1151" y1="1189.38" x2="1151" y2="1197.68" stroke="#000" stroke-width="2" />
<line x1="1172.93" y1="918.08" x2="1172.93" y2="922.48" stroke="#000" stroke-width="1.5" />
<line x1="1172.93" y1="1189.38" x2="1172.93" y2="1193.78" stroke="#000" stroke-width="1.5" />
<line x1="1194.87" y1="918.08" x2="1194.87" y2="922.48" stroke="#000" stroke-width="1.5" />
<line x1="1194.87" y1="1189.38" x2="1194.87" y2="1193.78" stroke="#000" stroke-width="1.5" />
<line x1="1216.8" y1="918.08" x2="1216.8" y2="922.48" stroke="#000" stroke-width="1.5" />
<line x1="1216.8" y1="1189.38" x2="1216.8" y2="1193.78" stroke="#000" stroke-width="1.5" />
<line x1="1238.73" y1="918.08" x2="1238.73" y2="922.48" stroke="#000" stroke-width="1.5" />
<line x1="1238.73" y1="1189.38" x2="1238.73" y2="1193.78" stroke="#000" stroke-width="1.5" />
<line x1="1260.67" y1="914.18" x2="1260.67" y2="922.48" stroke="#000" stroke-width="2" />
<line x1="1260.67" y1="1189.38" x2="1260.67" y2="1197.68" stroke="#000" stroke-width="2" />
<line x1="1282.6" y1="918.08" x2="1282.6" y2="922.48" stroke="#000" stroke-width="1.5" />
<line x1="1282.6" y1="1189.38" x2="1282.6" y2="1193.78" stroke="#000" stroke-width="1.5" />
<line x1="1304.53" y1="918.08" x2="1304.53" y2="922.48" stroke="#000" stroke-width="1.5" />
<line x1="1304.53" y1="1189.38" x2="1304.53" y2="1193.78" stroke="#000" stroke-width="1.5" />
<line x1="1326.47" y1="918.08" x2="1326.47" y2="922.48" stroke="#000" stroke-width="1.5" />
<line x1="1326.47" y1="1189.38" x2="1326.47" y2="1193.78" stroke="#000" stroke-width="1.5" />
<line x1="1348.4" y1="918.08" x2="1348.4" y2="922.48" stroke="#000" stroke-width="1.5" />
<line x1="1348.4" y1="1189.38" x2="1348.4" y2="1193.78" stroke="#000" stroke-width="1.5" />
<line x1="1370.33" y1="914.18" x2="1370.33" y2="922.48" stroke="#000" stroke-width="2" />
<line x1="1370.33" y1="1189.38" x2="1370.33" y2="1197.68" stroke="#000" stroke-width="2" />
<line x1="1392.27" y1="918.08" x2="1392.27" y2="922.48" stroke="#000" stroke-width="1.5" />
<line x1="1392.27" y1="1189.38" x2="1392.27" y2="1193.78" stroke="#000" stroke-width="1.5" />
<line x1="1414.2" y1="918.08" x2="1414.2" y2="922.48" stroke="#000" stroke-width="1.5" />
<line x1="1414.2" y1="1189.38" x2="1414.2" y2="1193.78" stroke="#000" stroke-width="1.5" />
<line x1="1436.13" y1="918.08" x2="1436.13" y2="922.48" stroke="#000" stroke-width="1.5" />
<line x1="1436.13" y1="1189.38" x2="1436.13" y2="1193.78" stroke="#000" stroke-width="1.5" />
<line x1="1458.07" y1="918.08" x2="1458.07" y2="922.48" stroke="#000" stroke-width="1.5" />
<line x1="1458.07" y1="1189.38" x2="1458.07" y2="1193.78" stroke="#000" stroke-width="1.5" />
<line x1="1480" y1="914.18" x2="1480" y2="922.48" stroke="#000" stroke-width="2" />
<line x1="1480" y1="1189.38" x2="1480" y2="1197.68" stroke="#000" stroke-width="2" />
<line x1="1146.6" y1="922.48" x2="1151" y2="922.48" stroke="#000" stroke-width="1.5" />
<line x1="1480" y1="922.48" x2="1484.4" y2="922.48" stroke="#000" stroke-width="1.5" />
<line x1="1142.7" y1="955.84" x2="1151" y2="955.84" stroke="#000" stroke-width="2" />
<line x1="1480" y1="955.84" x2="1488.3" y2="955.84" stroke="#000" stroke-width="2" />
<text x="1125.5" y="967.14" font-size="33" fill="#000" text-anchor="end" font-weight="normal" font-style="normal" font-family='"Liberation Sans", sans-serif' >10<tspan dy="-11.8" font-size="23">0</tspan></text>
<line x1="1146.6" y1="989.2" x2="1151" y2="989.2" stroke="#000" stroke-width="1.5" />
<line x1="1480" y1="989.2" x2="1484.4" y2="989.2" stroke="#000" stroke-width="1.5" />
<line x1="1146.6" y1="1022.56" x2="1151" y2="1022.56" stroke="#000" stroke-width="1.5" />
<line x1="1480" y1="1022.56" x2="1484.4" y2="1022.56" stroke="#000" stroke-width="1.5" />
<line x1="1142.7" y1="1055.92" x2="1151" y2="1055.92" stroke="#000" stroke-width="2" />
<line x1="1480" y1="1055.92" x2="1488.3" y2="1055.92" stroke="#000" stroke-width="2" />
<text x="1125.5" y="1067.22" font-size="33" fill="#000" text-anchor="end" font-weight="normal" font-style="normal" font-family='"Liberation Sans", sans-serif' >10<tspan dy="-11.8" font-size="23">−3</tspan></text>
<line x1="1146.6" y1="1089.28" x2="1151" y2="1089.28" stroke="#000" stroke-width="1.5" />
<line x1="1480" y1="1089.28" x2="1484.4" y2="1089.28" stroke="#000" stroke-width="1.5" />
<line x1="1146.6" y1="1122.64" x2="1151" y2="1122.64" stroke="#000" stroke-width="1.5" />
<line x1="1480" y1="1122.64" x2="1484.4" y2="1122.64" stroke="#000" stroke-width="1.5" />
<line x1="1142.7" y1="1156" x2="1151" y2="1156" stroke="#000" stroke-width="2" />
<line x1="1480" y1="1156" x2="1488.3" y2="1156" stroke="#000" stroke-width="2" />
<text x="1125.5" y="1167.3" font-size="33" fill="#000" text-anchor="end" font-weight="normal" font-style="normal" font-family='"Liberation Sans", sans-serif' >10<tspan dy="-11.8" font-size="23">−6</tspan></text>
<line x1="1146.6" y1="1189.36" x2="1151" y2="1189.36" stroke="#000" stroke-width="1.5" />
<line x1="1480" y1="1189.36" x2="1484.4" y2="1189.36" stroke="#000" stroke-width="1.5" />
<rect x="1151" y="1182.78" width="175.47" height="6.6" fill="#000"/>
<rect x="1330.85" y="1182.78" width="17.55" height="6.6" fill="#000"/>
<path d="M1151,945.2 L1151.4,956.9 L1151.8,968.5 L1152.3,979.9 L1152.7,987.4 L1153.1,991.2 L1153.5,994.3 L1154,996.9 L1154.4,999.1 L1154.8,1001 L1155.2,1002.7 L1155.6,1004.2 L1156.1,1005.8 L1156.5,1007.4 L1157.6,1011.2 L1159.2,1016 L1160.9,1020.4 L1162.5,1024.9 L1164.2,1029 L1165.8,1032.9 L1167.4,1036.3 L1169.1,1039.5 L1170.7,1042.5 L1172.4,1045.5 L1174,1048.4 L1175.7,1051.1 L1177.3,1053.8 L1178.1,1055.1 L1179.2,1056.2 L1180.3,1058.5 L1181.4,1059.2 L1182.5,1060.6 L1183.6,1062.1 L1184.7,1064.3 L1185.8,1065.7 L1186.9,1066.9 L1188,1068.6 L1189.1,1069.9 L1190.2,1071.9 L1191.4,1075.1 L1192.6,1076.2 L1193.9,1078.9 L1195.1,1079.2 L1196.3,1078 L1197.5,1079.7 L1198.7,1082 L1199.9,1082.1 L1201.1,1086.1 L1202.3,1086.4 L1203.5,1088.6 L1204.8,1092 L1206,1091 L1207.2,1091.3 L1208.4,1089.9 L1209.6,1097.5 L1210.8,1097.3 L1212,1099.2 L1213.2,1094.4 L1214.4,1098.5 L1215.7,1104.1 L1216.9,1105.2 L1218.1,1102.1 L1219.3,1102.9 L1220.5,1102.3 L1221.7,1113.9 L1222.9,1110.6 L1224.1,1106.9 L1225.3,1105.2 L1226.5,1108.2 L1227.8,1114.2 L1229,1107.3 L1230.2,1109.8 L1231.4,1110.6 L1232.6,1118.1 L1233.8,1125.1 L1235,1112.3 L1236.2,1113 L1237.4,1124.9 L1238.7,1121.4 L1239.9,1126.1 L1241.1,1122.6 L1242.3,1117.9 L1243.5,1120.2 L1244.7,1129.3 L1245.9,1132.3 L1247.1,1132.7 L1248.3,1125.1 L1249.6,1119.6 L1250.8,1121.4 L1252,1117.5 L1253.2,1129.9 L1254.4,1138.6 L1255.6,1137.1 L1256.8,1135.6 L1258,1137.5 L1259.2,1129.9 L1260.2,1150 L1261.2,1164.9 L1262.1,1153.3 L1263.1,1140.3 L1264.1,1137.1 L1265.3,1145.5 L1266.5,1132.8 L1267.7,1132.3 L1268.9,1150.8 L1270.1,1158.5 L1271.3,1158.8 L1272.6,1147.1 L1273.8,1142.6 L1275,1137.1 L1276,1144.2 L1277.1,1131.6 L1278.1,1125.1 L1279.1,1142.2 L1280.1,1137 L1281,1151.6 L1282,1147.3 L1283,1163.7 L1284.7,1142 L1287,1192.4 L1288.1,1148.9 L1289.2,1144.6 L1290.3,1192.4 L1291.4,1138.7 L1292.5,1138.7 L1293.6,1138.7 L1294.7,1192.4 L1295.8,1138.7 L1296.9,1192.4 L1298,1157.1 L1299,1155.8 L1300.1,1192.4 L1301.2,1192.4 L1302.3,1192.4 L1303.4,1144.6 L1304.5,1149.4 L1305.6,1136.4 L1306.7,1139.5 L1307.8,1192.4 L1308.9,1192.4 L1310,1154.7 L1311.1,1141.4 L1312.2,1152.4 L1313.3,1145.5 L1314.4,1192.4 L1315.5,1154.7 L1316.6,1192.4 L1317.7,1154.7 L1318.8,1155.8 L1319.9,1136.7 L1321,1149.4 L1322.1,1147.6 L1323.2,1153.2 L1324.3,1146.5 L1325.4,1192.4 L1326.5,1154.7 L1327.6,1144.6 L1328.7,1138.7 L1329.8,1192.4 L1330.9,1154.7 L1332,1154.7 L1333,1138.7 L1334.1,1192.4 L1335.2,1144.6 L1336.3,1192.4 L1337.4,1192.4 L1338.5,1138.7 L1339.6,1192.4 L1340.7,1192.4 L1341.8,1155.9 L1342.9,1192.4 L1344,1192.4 L1345.1,1154.7 L1346.2,1192.4 L1347.3,1148.8 L1348.4,1192.4 L1349.5,1192.4 L1350.6,1192.4 L1351.7,1154.7 L1352.8,1154.7 L1353.9,1192.4 L1355,1154.7 L1356.1,1192.4 L1357.2,1160.3 L1358.3,1144.6 L1359.4,1154.7 L1360.5,1149.4 L1361.6,1154.7 L1362.7,1192.4 L1363.8,1192.4 L1364.8,1192.4 L1365.9,1138.7 L1367,1192.4 L1368.1,1192.4 L1369.2,1192.4 L1370.3,1192.4 L1371.4,1192.4 L1372.5,1154.7 L1373.6,1192.4 L1374.7,1192.4 L1375.8,1138.7 L1376.9,1192.4 L1378,1192.4 L1379.1,1192.4 L1380.2,1192.4 L1381.3,1192.4 L1382.4,1144.6 L1387.6,1192.4 L1389.3,1154.5 L1391.2,1192.4 L1393.6,1156.4 L1395.6,1192.4 L1397.3,1154.5 L1399,1166.1 L1400.2,1144.7 L1401.4,1154.5 L1403.8,1192.4 L1422.2,1192.4 L1424.4,1154.5 L1426.3,1192.4 L1441.6,1192.4 L1443.8,1154.5 L1445.7,1192.4" fill="none" stroke="#0000ff" stroke-width="3" stroke-linejoin="round" clip-path="url(#cc30)"/>
<rect x="1151" y="922.48" width="329" height="266.9" fill="none" stroke="#000" stroke-width="2.0"/>
<text x="1151" y="1236.4" font-size="33" fill="#000" text-anchor="middle" font-weight="normal" font-style="normal" font-family='"Liberation Sans", sans-serif' >0</text>
<text x="1260.67" y="1236.4" font-size="33" fill="#000" text-anchor="middle" font-weight="normal" font-style="normal" font-family='"Liberation Sans", sans-serif' >50</text>
<text x="1370.33" y="1236.4" font-size="33" fill="#000" text-anchor="middle" font-weight="normal" font-style="normal" font-family='"Liberation Sans", sans-serif' >100</text>
<text x="1480" y="1236.4" font-size="33" fill="#000" text-anchor="middle" font-weight="normal" font-style="normal" font-family='"Liberation Sans", sans-serif' >150</text>
<clipPath id="cc31"><rect x="1537.2" y="922.48" width="329.5" height="266.9"/></clipPath>
<line x1="1647.03" y1="922.48" x2="1647.03" y2="1189.38" stroke="#777" stroke-width="1" stroke-dasharray="1 1.7"/>
<line x1="1756.87" y1="922.48" x2="1756.87" y2="1189.38" stroke="#777" stroke-width="1" stroke-dasharray="1 1.7"/>
<line x1="1537.2" y1="955.84" x2="1866.7" y2="955.84" stroke="#777" stroke-width="1" stroke-dasharray="1 1.7"/>
<line x1="1537.2" y1="1055.92" x2="1866.7" y2="1055.92" stroke="#777" stroke-width="1" stroke-dasharray="1 1.7"/>
<line x1="1537.2" y1="1156" x2="1866.7" y2="1156" stroke="#777" stroke-width="1" stroke-dasharray="1 1.7"/>
<line x1="1537.2" y1="914.18" x2="1537.2" y2="922.48" stroke="#000" stroke-width="2" />
<line x1="1537.2" y1="1189.38" x2="1537.2" y2="1197.68" stroke="#000" stroke-width="2" />
<line x1="1559.17" y1="918.08" x2="1559.17" y2="922.48" stroke="#000" stroke-width="1.5" />
<line x1="1559.17" y1="1189.38" x2="1559.17" y2="1193.78" stroke="#000" stroke-width="1.5" />
<line x1="1581.13" y1="918.08" x2="1581.13" y2="922.48" stroke="#000" stroke-width="1.5" />
<line x1="1581.13" y1="1189.38" x2="1581.13" y2="1193.78" stroke="#000" stroke-width="1.5" />
<line x1="1603.1" y1="918.08" x2="1603.1" y2="922.48" stroke="#000" stroke-width="1.5" />
<line x1="1603.1" y1="1189.38" x2="1603.1" y2="1193.78" stroke="#000" stroke-width="1.5" />
<line x1="1625.07" y1="918.08" x2="1625.07" y2="922.48" stroke="#000" stroke-width="1.5" />
<line x1="1625.07" y1="1189.38" x2="1625.07" y2="1193.78" stroke="#000" stroke-width="1.5" />
<line x1="1647.03" y1="914.18" x2="1647.03" y2="922.48" stroke="#000" stroke-width="2" />
<line x1="1647.03" y1="1189.38" x2="1647.03" y2="1197.68" stroke="#000" stroke-width="2" />
<line x1="1669" y1="918.08" x2="1669" y2="922.48" stroke="#000" stroke-width="1.5" />
<line x1="1669" y1="1189.38" x2="1669" y2="1193.78" stroke="#000" stroke-width="1.5" />
<line x1="1690.97" y1="918.08" x2="1690.97" y2="922.48" stroke="#000" stroke-width="1.5" />
<line x1="1690.97" y1="1189.38" x2="1690.97" y2="1193.78" stroke="#000" stroke-width="1.5" />
<line x1="1712.93" y1="918.08" x2="1712.93" y2="922.48" stroke="#000" stroke-width="1.5" />
<line x1="1712.93" y1="1189.38" x2="1712.93" y2="1193.78" stroke="#000" stroke-width="1.5" />
<line x1="1734.9" y1="918.08" x2="1734.9" y2="922.48" stroke="#000" stroke-width="1.5" />
<line x1="1734.9" y1="1189.38" x2="1734.9" y2="1193.78" stroke="#000" stroke-width="1.5" />
<line x1="1756.87" y1="914.18" x2="1756.87" y2="922.48" stroke="#000" stroke-width="2" />
<line x1="1756.87" y1="1189.38" x2="1756.87" y2="1197.68" stroke="#000" stroke-width="2" />
<line x1="1778.83" y1="918.08" x2="1778.83" y2="922.48" stroke="#000" stroke-width="1.5" />
<line x1="1778.83" y1="1189.38" x2="1778.83" y2="1193.78" stroke="#000" stroke-width="1.5" />
<line x1="1800.8" y1="918.08" x2="1800.8" y2="922.48" stroke="#000" stroke-width="1.5" />
<line x1="1800.8" y1="1189.38" x2="1800.8" y2="1193.78" stroke="#000" stroke-width="1.5" />
<line x1="1822.77" y1="918.08" x2="1822.77" y2="922.48" stroke="#000" stroke-width="1.5" />
<line x1="1822.77" y1="1189.38" x2="1822.77" y2="1193.78" stroke="#000" stroke-width="1.5" />
<line x1="1844.73" y1="918.08" x2="1844.73" y2="922.48" stroke="#000" stroke-width="1.5" />
<line x1="1844.73" y1="1189.38" x2="1844.73" y2="1193.78" stroke="#000" stroke-width="1.5" />
<line x1="1866.7" y1="914.18" x2="1866.7" y2="922.48" stroke="#000" stroke-width="2" />
<line x1="1866.7" y1="1189.38" x2="1866.7" y2="1197.68" stroke="#000" stroke-width="2" />
<line x1="1532.8" y1="922.48" x2="1537.2" y2="922.48" stroke="#000" stroke-width="1.5" />
<line x1="1866.7" y1="922.48" x2="1871.1" y2="922.48" stroke="#000" stroke-width="1.5" />
<line x1="1528.9" y1="955.84" x2="1537.2" y2="955.84" stroke="#000" stroke-width="2" />
<line x1="1866.7" y1="955.84" x2="1875" y2="955.84" stroke="#000" stroke-width="2" />
<line x1="1532.8" y1="989.2" x2="1537.2" y2="989.2" stroke="#000" stroke-width="1.5" />
<line x1="1866.7" y1="989.2" x2="1871.1" y2="989.2" stroke="#000" stroke-width="1.5" />
<line x1="1532.8" y1="1022.56" x2="1537.2" y2="1022.56" stroke="#000" stroke-width="1.5" />
<line x1="1866.7" y1="1022.56" x2="1871.1" y2="1022.56" stroke="#000" stroke-width="1.5" />
<line x1="1528.9" y1="1055.92" x2="1537.2" y2="1055.92" stroke="#000" stroke-width="2" />
<line x1="1866.7" y1="1055.92" x2="1875" y2="1055.92" stroke="#000" stroke-width="2" />
<line x1="1532.8" y1="1089.28" x2="1537.2" y2="1089.28" stroke="#000" stroke-width="1.5" />
<line x1="1866.7" y1="1089.28" x2="1871.1" y2="1089.28" stroke="#000" stroke-width="1.5" />
<line x1="1532.8" y1="1122.64" x2="1537.2" y2="1122.64" stroke="#000" stroke-width="1.5" />
<line x1="1866.7" y1="1122.64" x2="1871.1" y2="1122.64" stroke="#000" stroke-width="1.5" />
<line x1="1528.9" y1="1156" x2="1537.2" y2="1156" stroke="#000" stroke-width="2" />
<line x1="1866.7" y1="1156" x2="1875" y2="1156" stroke="#000" stroke-width="2" />
<line x1="1532.8" y1="1189.36" x2="1537.2" y2="1189.36" stroke="#000" stroke-width="1.5" />
<line x1="1866.7" y1="1189.36" x2="1871.1" y2="1189.36" stroke="#000" stroke-width="1.5" />
<rect x="1537.2" y="1182.78" width="171.34" height="6.6" fill="#000"/>
<path d="M1537.2,946.4 L1537.6,944.2 L1538,945.3 L1538.5,964.8 L1538.9,989.5 L1539.3,998.9 L1539.7,1002.7 L1540.2,1005.7 L1540.6,1008.2 L1541,1010.1 L1541.4,1011.7 L1541.8,1013.2 L1542.3,1014.6 L1542.7,1016.1 L1543.8,1020.2 L1545.4,1025.4 L1547.1,1029.2 L1548.7,1032.1 L1550.4,1034.5 L1552,1036.7 L1553.7,1038.7 L1555.3,1040.5 L1557,1042.1 L1558.6,1043.7 L1560.3,1045.1 L1561.9,1046.5 L1563.6,1048 L1565.2,1049.5 L1566.9,1051.1 L1568.5,1052.7 L1570.2,1054.3 L1571.8,1056 L1573.4,1057.7 L1575.1,1059.4 L1575.5,1059.9 L1576.6,1060.9 L1577.6,1061.6 L1578.6,1062.5 L1579.7,1064.7 L1580.7,1065.3 L1581.8,1065.4 L1582.8,1067.1 L1584,1068.3 L1585.2,1070 L1586.4,1070.6 L1587.6,1071.9 L1588.7,1073.8 L1589.8,1072.9 L1590.9,1075.5 L1592.1,1075.7 L1593.2,1079 L1594.3,1077.1 L1595.4,1080.3 L1596.5,1077.7 L1597.6,1081.5 L1598.7,1080.4 L1599.8,1082.8 L1600.8,1082.4 L1601.8,1082.9 L1602.8,1089 L1603.8,1089 L1604.8,1089 L1605.8,1090.1 L1606.8,1089.1 L1607.9,1092.8 L1608.9,1089.6 L1609.9,1090.4 L1610.9,1094.8 L1611.9,1092.5 L1613.1,1094.5 L1614.3,1089.6 L1615.5,1093.7 L1616.7,1099.6 L1618,1094.8 L1619.2,1103.7 L1620.4,1100.9 L1621.6,1100.3 L1622.8,1102.2 L1624,1106.9 L1625.2,1107.8 L1626.4,1100.3 L1627.7,1106.6 L1628.9,1105.7 L1630.1,1110.8 L1631.3,1109.6 L1632.5,1105.5 L1633.7,1109.4 L1634.9,1113.2 L1636.1,1113 L1637.1,1123.7 L1638.1,1123.8 L1639.1,1125.1 L1640.3,1114.2 L1641.5,1122.4 L1642.7,1116.6 L1643.9,1113 L1645,1113.8 L1646.1,1115 L1647.2,1133.1 L1648.3,1132.3 L1649.4,1133.8 L1650.5,1131.7 L1651.5,1126.8 L1652.6,1117.8 L1653.6,1115.3 L1654.6,1136.4 L1655.5,1138.3 L1656.6,1141.2 L1657.7,1128.6 L1658.8,1124.7 L1659.9,1119 L1660.9,1117.5 L1662,1123.1 L1663,1126.4 L1664,1132.3 L1665.2,1142.3 L1666.5,1136.3 L1667.7,1139.5 L1668.7,1145.7 L1669.7,1142.6 L1670.7,1133.9 L1671.7,1139.8 L1672.7,1135.4 L1673.7,1125.1 L1674.9,1135.2 L1676.2,1149.2 L1677.4,1151.4 L1678.6,1140.4 L1679.8,1134.7 L1680.8,1142.6 L1681.7,1166 L1682.7,1163.7 L1683.8,1166.8 L1684.8,1147.5 L1685.9,1139.5 L1686.6,1147.6 L1687.7,1192.4 L1688.8,1192.4 L1689.9,1143.5 L1691,1192.4 L1692.1,1150.7 L1693.2,1144.5 L1694.3,1135.4 L1695.4,1157.7 L1696.5,1157.7 L1697.6,1192.4 L1698.7,1157.7 L1699.8,1153.1 L1700.9,1192.4 L1702,1148.7 L1703,1157.7 L1704.1,1192.4 L1705.2,1148 L1706.3,1144.4 L1707.4,1141.8 L1708.5,1141.8 L1709.6,1157.7 L1710.7,1192.4 L1711.8,1192.4 L1712.9,1150.5 L1714,1150.1 L1715.1,1141.8 L1716.2,1192.4 L1717.3,1147.6 L1718.4,1159.9 L1719.5,1192.4 L1721.5,1157.6 L1723,1192.4 L1725.4,1192.4 L1726.6,1157.6 L1727.8,1192.4 L1734.4,1192.4 L1735.6,1157.6 L1737,1192.4 L1740.9,1192.4 L1742.1,1157.6 L1743.6,1192.4 L1747.2,1192.4 L1748.4,1157.6 L1749.9,1192.4 L1752.5,1192.4 L1753.8,1157.6 L1755.2,1192.4 L1763,1192.4 L1764.4,1157.6 L1765.9,1192.4 L1812,1192.4 L1813.4,1157.6 L1814.9,1192.4" fill="none" stroke="#ff0000" stroke-width="3" stroke-linejoin="round" clip-path="url(#cc31)"/>
<rect x="1537.2" y="922.48" width="329.5" height="266.9" fill="none" stroke="#000" stroke-width="2.0"/>
<text x="1537.2" y="1236.4" font-size="33" fill="#000" text-anchor="middle" font-weight="normal" font-style="normal" font-family='"Liberation Sans", sans-serif' >0</text>
<text x="1647.03" y="1236.4" font-size="33" fill="#000" text-anchor="middle" font-weight="normal" font-style="normal" font-family='"Liberation Sans", sans-serif' >50</text>
<text x="1756.87" y="1236.4" font-size="33" fill="#000" text-anchor="middle" font-weight="normal" font-style="normal" font-family='"Liberation Sans", sans-serif' >100</text>
<text x="1866.7" y="1236.4" font-size="33" fill="#000" text-anchor="middle" font-weight="normal" font-style="normal" font-family='"Liberation Sans", sans-serif' >150</text>
<text x="1172.2" y="968.98" font-size="32.2" fill="#000" text-anchor="start" font-weight="bold" font-style="normal" font-family='"Liberation Sans", sans-serif' >Eight-MOs</text>
<text x="1410.2" y="997.78" font-size="24" fill="#000" text-anchor="middle" font-weight="normal" font-style="normal" font-family='"Liberation Sans", sans-serif' >HOMO</text>
<text x="1410.2" y="1028.18" font-size="24" fill="#000" text-anchor="middle" font-weight="normal" font-style="normal" font-family='"Liberation Sans", sans-serif' >to</text>
<text x="1410.2" y="1058.58" font-size="24" fill="#000" text-anchor="middle" font-weight="normal" font-style="normal" font-family='"Liberation Sans", sans-serif' >HOMO-7</text>
<text x="1795.9" y="997.78" font-size="24" fill="#000" text-anchor="middle" font-weight="normal" font-style="normal" font-family='"Liberation Sans", sans-serif' >LUMO</text>
<text x="1795.9" y="1028.18" font-size="24" fill="#000" text-anchor="middle" font-weight="normal" font-style="normal" font-family='"Liberation Sans", sans-serif' >to</text>
<text x="1795.9" y="1058.58" font-size="24" fill="#000" text-anchor="middle" font-weight="normal" font-style="normal" font-family='"Liberation Sans", sans-serif' >LUMO+7</text>
<text x="1315.2" y="46.2" font-size="32.2" fill="#0000ff" text-anchor="middle" font-weight="bold" font-style="normal" font-family='"Liberation Sans", sans-serif' >Hole transport</text>
<text x="1701.5" y="46.2" font-size="32.2" fill="#ff0000" text-anchor="middle" font-weight="bold" font-style="normal" font-family='"Liberation Sans", sans-serif' >Electron transport</text>
<g transform="translate(1420.8,1288)" font-family='"Liberation Sans", sans-serif' fill="#000">
<text x="-1.5" y="0" font-size="33">|</text>
<text x="12" y="0" font-size="33" font-style="italic">H</text>
<text x="35.5" y="-17.3" font-size="24" font-style="italic">pq</text>
<text x="34" y="9" font-size="23" font-style="italic">ij</text>
<text x="67.5" y="0" font-size="33">|</text>
<text x="88" y="0" font-size="33" textLength="87.4" lengthAdjust="spacingAndGlyphs">(meV)</text>
</g>
<g transform="translate(1035.2,744.8) rotate(-90)" font-family='"Liberation Sans", sans-serif' fill="#000">
<text x="0.5" y="0" font-size="33" font-style="italic">p</text>
<text x="18.4" y="0" font-size="33">(</text>
<text x="34" y="0" font-size="33">|</text>
<text x="47.5" y="0" font-size="33" font-style="italic" textLength="20" lengthAdjust="spacingAndGlyphs">H</text>
<text x="71.5" y="-17.5" font-size="24" font-style="italic">pq</text>
<text x="69.5" y="9" font-size="23" font-style="italic">ij</text>
<text x="103" y="0" font-size="33">|</text>
<text x="114.5" y="0" font-size="33">)</text>
</g>
</svg></body></html>
